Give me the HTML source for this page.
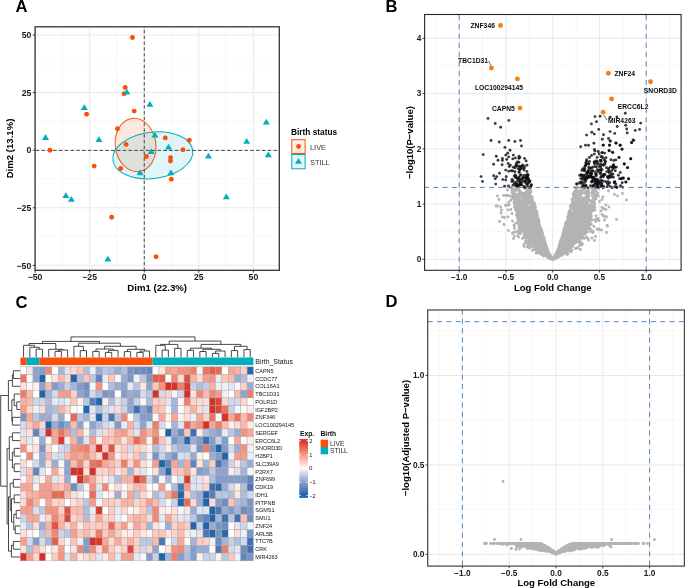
<!DOCTYPE html>
<html><head><meta charset="utf-8"><style>
html,body{margin:0;padding:0;background:#fff;width:685px;height:588px;overflow:hidden}
svg{display:block;will-change:transform}
text{font-family:"Liberation Sans", sans-serif}
</style></head><body>
<svg width="685" height="588" viewBox="0 0 685 588">
<rect width="685" height="588" fill="#fff"/>
<text x="15.4" y="12" font-size="16.6" font-weight="bold" text-anchor="start" fill="#000">A</text>
<line x1="62.39" y1="26.8" x2="62.39" y2="270.3" stroke="#F2F2F2" stroke-width="0.6"/>
<line x1="35.1" y1="236.6" x2="279.3" y2="236.6" stroke="#F2F2F2" stroke-width="0.6"/>
<line x1="116.96" y1="26.8" x2="116.96" y2="270.3" stroke="#F2F2F2" stroke-width="0.6"/>
<line x1="35.1" y1="179" x2="279.3" y2="179" stroke="#F2F2F2" stroke-width="0.6"/>
<line x1="171.54" y1="26.8" x2="171.54" y2="270.3" stroke="#F2F2F2" stroke-width="0.6"/>
<line x1="35.1" y1="121.4" x2="279.3" y2="121.4" stroke="#F2F2F2" stroke-width="0.6"/>
<line x1="226.11" y1="26.8" x2="226.11" y2="270.3" stroke="#F2F2F2" stroke-width="0.6"/>
<line x1="35.1" y1="63.8" x2="279.3" y2="63.8" stroke="#F2F2F2" stroke-width="0.6"/>
<line x1="35.1" y1="26.8" x2="35.1" y2="270.3" stroke="#E6E6E6" stroke-width="0.9"/>
<line x1="35.1" y1="265.4" x2="279.3" y2="265.4" stroke="#E6E6E6" stroke-width="0.9"/>
<line x1="89.68" y1="26.8" x2="89.68" y2="270.3" stroke="#E6E6E6" stroke-width="0.9"/>
<line x1="35.1" y1="207.8" x2="279.3" y2="207.8" stroke="#E6E6E6" stroke-width="0.9"/>
<line x1="144.25" y1="26.8" x2="144.25" y2="270.3" stroke="#E6E6E6" stroke-width="0.9"/>
<line x1="35.1" y1="150.2" x2="279.3" y2="150.2" stroke="#E6E6E6" stroke-width="0.9"/>
<line x1="198.82" y1="26.8" x2="198.82" y2="270.3" stroke="#E6E6E6" stroke-width="0.9"/>
<line x1="35.1" y1="92.6" x2="279.3" y2="92.6" stroke="#E6E6E6" stroke-width="0.9"/>
<line x1="253.4" y1="26.8" x2="253.4" y2="270.3" stroke="#E6E6E6" stroke-width="0.9"/>
<line x1="35.1" y1="35" x2="279.3" y2="35" stroke="#E6E6E6" stroke-width="0.9"/>
<ellipse cx="135.6" cy="145" rx="20.3" ry="26.8" transform="rotate(-8 135.6 145)" fill="#FC4E07" fill-opacity="0.13" stroke="#FC4E07" stroke-width="1"/>
<ellipse cx="152.8" cy="155.3" rx="40.2" ry="23.2" transform="rotate(-7 152.8 155.3)" fill="#00AFBB" fill-opacity="0.12" stroke="#00AFBB" stroke-width="1"/>
<line x1="144.25" y1="270.3" x2="144.25" y2="26.8" stroke="#333" stroke-width="0.9" stroke-dasharray="3.5 2.3" stroke-dashoffset="0.8"/>
<line x1="35.1" y1="150.4" x2="279.3" y2="150.4" stroke="#333" stroke-width="0.9" stroke-dasharray="3.5 2.3" stroke-dashoffset="-0.6"/>
<circle cx="132.45" cy="37.45" r="2.45" fill="#FC4E07"/>
<circle cx="125.2" cy="87.5" r="2.45" fill="#FC4E07"/>
<circle cx="124.1" cy="93.7" r="2.45" fill="#FC4E07"/>
<circle cx="134.2" cy="111.1" r="2.45" fill="#FC4E07"/>
<circle cx="86.6" cy="114.3" r="2.45" fill="#FC4E07"/>
<circle cx="117.5" cy="128.7" r="2.45" fill="#FC4E07"/>
<circle cx="126.1" cy="144.4" r="2.45" fill="#FC4E07"/>
<circle cx="50" cy="150.2" r="2.45" fill="#FC4E07"/>
<circle cx="94.2" cy="166.1" r="2.45" fill="#FC4E07"/>
<circle cx="120.7" cy="168.5" r="2.45" fill="#FC4E07"/>
<circle cx="111.7" cy="217.3" r="2.45" fill="#FC4E07"/>
<circle cx="146.4" cy="156.5" r="2.45" fill="#FC4E07"/>
<circle cx="165.3" cy="137.9" r="2.45" fill="#FC4E07"/>
<circle cx="189.3" cy="140.3" r="2.45" fill="#FC4E07"/>
<circle cx="182.9" cy="149.8" r="2.45" fill="#FC4E07"/>
<circle cx="170.5" cy="157.6" r="2.45" fill="#FC4E07"/>
<circle cx="170.5" cy="161" r="2.45" fill="#FC4E07"/>
<circle cx="171.3" cy="179.2" r="2.45" fill="#FC4E07"/>
<circle cx="156.1" cy="256.8" r="2.45" fill="#FC4E07"/>
<path d="M126.9 88.8L130.4 94.6L123.4 94.6Z" fill="#00AFBB"/>
<path d="M84.3 104.2L87.8 110L80.8 110Z" fill="#00AFBB"/>
<path d="M45.5 134.1L49 139.9L42 139.9Z" fill="#00AFBB"/>
<path d="M98.9 136.2L102.4 142L95.4 142Z" fill="#00AFBB"/>
<path d="M149.9 101L153.4 106.8L146.4 106.8Z" fill="#00AFBB"/>
<path d="M266.3 118.8L269.8 124.6L262.8 124.6Z" fill="#00AFBB"/>
<path d="M246.7 137.9L250.2 143.7L243.2 143.7Z" fill="#00AFBB"/>
<path d="M154.9 131.8L158.4 137.6L151.4 137.6Z" fill="#00AFBB"/>
<path d="M168.5 143.8L172 149.6L165 149.6Z" fill="#00AFBB"/>
<path d="M151.2 148.3L154.7 154.1L147.7 154.1Z" fill="#00AFBB"/>
<path d="M140.1 169.5L143.6 175.3L136.6 175.3Z" fill="#00AFBB"/>
<path d="M170.9 169.5L174.4 175.3L167.4 175.3Z" fill="#00AFBB"/>
<path d="M208.4 152.8L211.9 158.6L204.9 158.6Z" fill="#00AFBB"/>
<path d="M268.3 151.4L271.8 157.2L264.8 157.2Z" fill="#00AFBB"/>
<path d="M226.3 193.5L229.8 199.3L222.8 199.3Z" fill="#00AFBB"/>
<path d="M65.9 192.3L69.4 198.1L62.4 198.1Z" fill="#00AFBB"/>
<path d="M71.4 196L74.9 201.8L67.9 201.8Z" fill="#00AFBB"/>
<path d="M107.9 255.7L111.4 261.5L104.4 261.5Z" fill="#00AFBB"/>
<rect x="35.1" y="26.8" width="244.2" height="243.5" fill="none" stroke="#333" stroke-width="1.3"/>
<line x1="35.1" y1="270.3" x2="35.1" y2="272.6" stroke="#333" stroke-width="1"/>
<text x="35.1" y="280.4" font-size="8.7" font-weight="bold" text-anchor="middle" fill="#1a1a1a">−50</text>
<line x1="32.8" y1="265.4" x2="35.1" y2="265.4" stroke="#333" stroke-width="1"/>
<text x="31.3" y="268.5" font-size="8.7" font-weight="bold" text-anchor="end" fill="#1a1a1a">−50</text>
<line x1="89.68" y1="270.3" x2="89.68" y2="272.6" stroke="#333" stroke-width="1"/>
<text x="89.68" y="280.4" font-size="8.7" font-weight="bold" text-anchor="middle" fill="#1a1a1a">−25</text>
<line x1="32.8" y1="207.8" x2="35.1" y2="207.8" stroke="#333" stroke-width="1"/>
<text x="31.3" y="210.9" font-size="8.7" font-weight="bold" text-anchor="end" fill="#1a1a1a">−25</text>
<line x1="144.25" y1="270.3" x2="144.25" y2="272.6" stroke="#333" stroke-width="1"/>
<text x="144.25" y="280.4" font-size="8.7" font-weight="bold" text-anchor="middle" fill="#1a1a1a">0</text>
<line x1="32.8" y1="150.2" x2="35.1" y2="150.2" stroke="#333" stroke-width="1"/>
<text x="31.3" y="153.3" font-size="8.7" font-weight="bold" text-anchor="end" fill="#1a1a1a">0</text>
<line x1="198.82" y1="270.3" x2="198.82" y2="272.6" stroke="#333" stroke-width="1"/>
<text x="198.82" y="280.4" font-size="8.7" font-weight="bold" text-anchor="middle" fill="#1a1a1a">25</text>
<line x1="32.8" y1="92.6" x2="35.1" y2="92.6" stroke="#333" stroke-width="1"/>
<text x="31.3" y="95.7" font-size="8.7" font-weight="bold" text-anchor="end" fill="#1a1a1a">25</text>
<line x1="253.4" y1="270.3" x2="253.4" y2="272.6" stroke="#333" stroke-width="1"/>
<text x="253.4" y="280.4" font-size="8.7" font-weight="bold" text-anchor="middle" fill="#1a1a1a">50</text>
<line x1="32.8" y1="35" x2="35.1" y2="35" stroke="#333" stroke-width="1"/>
<text x="31.3" y="38.1" font-size="8.7" font-weight="bold" text-anchor="end" fill="#1a1a1a">50</text>
<text x="157.2" y="290.8" font-size="9.6" font-weight="bold" text-anchor="middle" fill="#000">Dim1 (22.3%)</text>
<text x="13.1" y="148.5" font-size="9.6" font-weight="bold" text-anchor="middle" fill="#000" transform="rotate(-90 13.1 148.5)">Dim2 (13.1%)</text>
<text x="291" y="134.9" font-size="8.3" font-weight="bold" text-anchor="start" fill="#000">Birth status</text>
<rect x="291.8" y="139.7" width="13.3" height="13.8" fill="#FEEDE6" stroke="#FC4E07" stroke-width="1"/>
<rect x="291.8" y="154.5" width="13.3" height="14.3" fill="#E5F6F7" stroke="#00AFBB" stroke-width="1"/>
<circle cx="298.6" cy="146.5" r="2.45" fill="#FC4E07"/>
<path d="M298.5 158L302 163.8L295 163.8Z" fill="#00AFBB"/>
<text x="310" y="149.6" font-size="7.4" text-anchor="start" fill="#333">LIVE</text>
<text x="310" y="164.8" font-size="7.4" text-anchor="start" fill="#333">STILL</text>
<text x="385.6" y="12.2" font-size="16.6" font-weight="bold" text-anchor="start" fill="#000">B</text>
<line x1="435.83" y1="14.5" x2="435.83" y2="270.3" stroke="#F2F2F2" stroke-width="0.6"/>
<line x1="482.58" y1="14.5" x2="482.58" y2="270.3" stroke="#F2F2F2" stroke-width="0.6"/>
<line x1="529.33" y1="14.5" x2="529.33" y2="270.3" stroke="#F2F2F2" stroke-width="0.6"/>
<line x1="576.08" y1="14.5" x2="576.08" y2="270.3" stroke="#F2F2F2" stroke-width="0.6"/>
<line x1="622.83" y1="14.5" x2="622.83" y2="270.3" stroke="#F2F2F2" stroke-width="0.6"/>
<line x1="669.58" y1="14.5" x2="669.58" y2="270.3" stroke="#F2F2F2" stroke-width="0.6"/>
<line x1="424.6" y1="231.68" x2="681.1" y2="231.68" stroke="#F2F2F2" stroke-width="0.6"/>
<line x1="424.6" y1="176.43" x2="681.1" y2="176.43" stroke="#F2F2F2" stroke-width="0.6"/>
<line x1="424.6" y1="121.18" x2="681.1" y2="121.18" stroke="#F2F2F2" stroke-width="0.6"/>
<line x1="424.6" y1="65.93" x2="681.1" y2="65.93" stroke="#F2F2F2" stroke-width="0.6"/>
<line x1="459.2" y1="14.5" x2="459.2" y2="270.3" stroke="#E6E6E6" stroke-width="0.9"/>
<line x1="505.95" y1="14.5" x2="505.95" y2="270.3" stroke="#E6E6E6" stroke-width="0.9"/>
<line x1="552.7" y1="14.5" x2="552.7" y2="270.3" stroke="#E6E6E6" stroke-width="0.9"/>
<line x1="599.45" y1="14.5" x2="599.45" y2="270.3" stroke="#E6E6E6" stroke-width="0.9"/>
<line x1="646.2" y1="14.5" x2="646.2" y2="270.3" stroke="#E6E6E6" stroke-width="0.9"/>
<line x1="424.6" y1="259.3" x2="681.1" y2="259.3" stroke="#E6E6E6" stroke-width="0.9"/>
<line x1="424.6" y1="204.05" x2="681.1" y2="204.05" stroke="#E6E6E6" stroke-width="0.9"/>
<line x1="424.6" y1="148.8" x2="681.1" y2="148.8" stroke="#E6E6E6" stroke-width="0.9"/>
<line x1="424.6" y1="93.55" x2="681.1" y2="93.55" stroke="#E6E6E6" stroke-width="0.9"/>
<line x1="424.6" y1="38.3" x2="681.1" y2="38.3" stroke="#E6E6E6" stroke-width="0.9"/>
<path fill="none" stroke="#B3B3B3" stroke-width="2.9" stroke-linecap="round" d="M584 210h0M542 242.5h0M564.5 247h0M586 213.5h0M554 257.5h0M596 195.5h0M591.5 210.5h0M553.5 258h0M562 248h0M566 235.5h0M574.5 243h0M564.5 249.5h0M525.5 228.5h0M520.5 212h0M549 253.5h0M560 249.5h0M538 243.5h0M544.5 254.5h0M565 245h0M553.5 259h0M528 221h0M563 245h0M540.5 242h0M537.5 234.5h0M570 246.5h0M528 224.5h0M558.5 254h0M549.5 256h0M595 210h0M544.5 241h0M529 228.5h0M602 199.5h0M548 256.5h0M563 239h0M578 213.5h0M559.5 250h0M531.5 221h0M550 257h0M530.5 222.5h0M530.5 221h0M574 234h0M570.5 241h0M551 257h0M543.5 250.5h0M539 233.5h0M519.5 215.5h0M553 259h0M535.5 240.5h0M566.5 250.5h0M517 189.5h0M546.5 255.5h0M539 246.5h0M572.5 231h0M578.5 232h0M519.5 201.5h0M517.5 217h0M559 255h0M543.5 241h0M589 210h0M557.5 252h0M572 220h0M521 192.5h0M559 247h0M546 254h0M538 219.5h0M519 202.5h0M525.5 230h0M558.5 251.5h0M539 242.5h0M548.5 255.5h0M520 222.5h0M533 231.5h0M538.5 227h0M551.5 259h0M555 258h0M571.5 233.5h0M564 239.5h0M564 231.5h0M561 252.5h0M574 194.5h0M573.5 237.5h0M565.5 225.5h0M547.5 255.5h0M559 252h0M559.5 245h0M567 249.5h0M558.5 250.5h0M566 253.5h0M551 257.5h0M531.5 213.5h0M529.5 248h0M571.5 212.5h0M530 240h0M556.5 253.5h0M550.5 256.5h0M545.5 252.5h0M542 234.5h0M589 216h0M553 259.5h0M518.5 213h0M530 225.5h0M563 234.5h0M521 192h0M557 256h0M569 248.5h0M526.5 215.5h0M537 242.5h0M583.5 198.5h0M544.5 247.5h0M577.5 224h0M587.5 207.5h0M572 245h0M542.5 248.5h0M568.5 232.5h0M545 248.5h0M528.5 234.5h0M592 210.5h0M536.5 231.5h0M571 237h0M548.5 257h0M583.5 207.5h0M523.5 200.5h0M537 245.5h0M555 258.5h0M557.5 257h0M546 251h0M522 194.5h0M544.5 254h0M563 250h0M582 213h0M525.5 241h0M560.5 254h0M543.5 251.5h0M524.5 227.5h0M544.5 253.5h0M530 226h0M581.5 212h0M532.5 236.5h0M563 242.5h0M570 229h0M544 247.5h0M540 247h0M526.5 225h0M565 248h0M584 234.5h0M543 252h0M532.5 229.5h0M557.5 254h0M574 238h0M568.5 245h0M558 250h0M534.5 243.5h0M552 259h0M534 203h0M567 232.5h0M567.5 245h0M580.5 214.5h0M559 254h0M547.5 253.5h0M561.5 248.5h0M555.5 257h0M562.5 252.5h0M582 230.5h0M540 249h0M528.5 233.5h0M547 252.5h0M580 236.5h0M524 214.5h0M556 256h0M547 250.5h0M541.5 252h0M539.5 245.5h0M559 253.5h0M536 240h0M567.5 245.5h0M582.5 193h0M566 245h0M559 254.5h0M568 251h0M545 254h0M544.5 242.5h0M527.5 206h0M549 256h0M576.5 235.5h0M592.5 202h0M560 248h0M529.5 239h0M555 255.5h0M581.5 211.5h0M563.5 247.5h0M525.5 238h0M566.5 244h0M574 242.5h0M536.5 211h0M540.5 243h0M532.5 217h0M515.5 194.5h0M531.5 240.5h0M554.5 258.5h0M567.5 244.5h0M583 208.5h0M530 238.5h0M519.5 221.5h0M540 251h0M570.5 244.5h0M598.5 229.5h0M586 226.5h0M555 256h0M560 253h0M538.5 239.5h0M529 237.5h0M563.5 252h0M551.5 258.5h0M517.5 198.5h0M584.5 215h0M540 235h0M537.5 243h0M510 196h0M515 189h0M532 223h0M537.5 236.5h0M560.5 252h0M546 247.5h0M577.5 240h0M528.5 235h0M554.5 256.5h0M556 257.5h0M537.5 237.5h0M579.5 235h0M591 214.5h0M572 246h0M521.5 200.5h0M566 249.5h0M545.5 254h0M557 257h0M542.5 240h0M520.5 208h0M552 258.5h0M544.5 247h0M538 235.5h0M524.5 218.5h0M533.5 229.5h0M546 251.5h0M538.5 232.5h0M559.5 250.5h0M526.5 243h0M574.5 240h0M534 216h0M572 242h0M577.5 215.5h0M549.5 258h0M571 242h0M537 233h0M588 216.5h0M542 247h0M573 237.5h0M591.5 210h0M540.5 237h0M566.5 246.5h0M543 243.5h0M548 257h0M550.5 257.5h0M560 254h0M542 241.5h0M541 244h0M573 237h0M534 237.5h0M588 225.5h0M536.5 241h0M540.5 251.5h0M529.5 239.5h0M581 235h0M565.5 249.5h0M525 216h0M561 246.5h0M536.5 244h0M547 256h0M531 238h0M561.5 253.5h0M527 247h0M537.5 223.5h0M522.5 194.5h0M520.5 210h0M565 235.5h0M536.5 233h0M559.5 245.5h0M555.5 256.5h0M570.5 235h0M535 218.5h0M543 246h0M519 232h0M539.5 236.5h0M575.5 188h0M567 245h0M540.5 248h0M551 258.5h0M576 234.5h0M558.5 249h0M540 239.5h0M519.5 222.5h0M548 252.5h0M554 258h0M545.5 254.5h0M580 210h0M521 220.5h0M592 238h0M545 250.5h0M542 239.5h0M540.5 243.5h0M544 252.5h0M530.5 195.5h0M542.5 250h0M574.5 226h0M560 251.5h0M562.5 250h0M574.5 237.5h0M538.5 230h0M548.5 255h0M536.5 228.5h0M527 226h0M557.5 254.5h0M586.5 209h0M585.5 222h0M584.5 231h0M536.5 246.5h0M580 231h0M527 236h0M584.5 205h0M580.5 236.5h0M575.5 223.5h0M550.5 257h0M529 229h0M567 228h0M547 250h0M556.5 256.5h0M535.5 236h0M558 251h0M566.5 253.5h0M537.5 247.5h0M580 218h0M521 218.5h0M560.5 252.5h0M545 251h0M555 256.5h0M546 253.5h0M529 238.5h0M518.5 211h0M569.5 250.5h0M565.5 246h0M564 250h0M566.5 236.5h0M537.5 233.5h0M544 246h0M529.5 242h0M546 255.5h0M567 235.5h0M572 237h0M548 254h0M572.5 202h0M569.5 240h0M540 243.5h0M544 254h0M550.5 256h0M589 214h0M541.5 247.5h0M567.5 248h0M589.5 214h0M557 255h0M540 245h0M554 258.5h0M521.5 219h0M566 244h0M530.5 232h0M562.5 248.5h0M568.5 243.5h0M533.5 232.5h0M568.5 243h0M528 235.5h0M549 256.5h0M535 240.5h0M568.5 241.5h0M524.5 227h0M522 226.5h0M565.5 231.5h0M559 256h0M567.5 247h0M554 259h0M582.5 216h0M555.5 258h0M563 253h0M571 245.5h0M541 251.5h0M544 240h0M569.5 248.5h0M532.5 224h0M532.5 241.5h0M549 257h0M570.5 227.5h0M545 254.5h0M548.5 256.5h0M519.5 215h0M568.5 216h0M520 224h0M573 235h0M576 214h0M555.5 257.5h0M535.5 235h0M566 248h0M544.5 240.5h0M561.5 254h0M563.5 236.5h0M537 244.5h0M519 203.5h0M568.5 229h0M536 223.5h0M528.5 231h0M571.5 232.5h0M567.5 246h0M563.5 233h0M579.5 232.5h0M547 255h0M512.5 190.5h0M539.5 248.5h0M565 251.5h0M550.5 258.5h0M526 222.5h0M556.5 257.5h0M579 225.5h0M537 243.5h0M565.5 226h0M564.5 241.5h0M577.5 229.5h0M561.5 246.5h0M562 253.5h0M556 257h0M528.5 233h0M562 240h0M534 215h0M572 244h0M544 247h0M540 250.5h0M546.5 248.5h0M550 257.5h0M566.5 249.5h0M553.5 258.5h0M549 254h0M576.5 212h0M557.5 256.5h0M561 239.5h0M547.5 256h0M539 232h0M569 248h0M549 255.5h0M566.5 251h0M543 248h0M523.5 201h0M515.5 204.5h0M537.5 245h0M550.5 258h0M539 231h0M593 206h0M534 240h0M567 241.5h0M567.5 241h0M541.5 248h0M523 228h0M555.5 256h0M567 229.5h0M575 205.5h0M533.5 234h0M551.5 257.5h0M587 228.5h0M532 234h0M562.5 255h0M558.5 256.5h0M535.5 225h0M536 218h0M564 245h0M571.5 213h0M555.5 255.5h0M566.5 237h0M524.5 231.5h0M534 242.5h0M579.5 227.5h0M539.5 247h0M548.5 252.5h0M556.5 254.5h0M556 258h0M566.5 248.5h0M545 252h0M538.5 246.5h0M588.5 199h0M589 192.5h0M546.5 252.5h0M533.5 221h0M558.5 253.5h0M542.5 241h0M538.5 245.5h0M523.5 197h0M586.5 227h0M541 231h0M579 234h0M564.5 251h0M590 216.5h0M577 240h0M539 247.5h0M551 258h0M578 207.5h0M515.5 198.5h0M518.5 219.5h0M538 223h0M527 215.5h0M514 197.5h0M537.5 222h0M587.5 223.5h0M533.5 241.5h0M536 249h0M581.5 216.5h0M532 202.5h0M529 227.5h0M567.5 217h0M536 241.5h0M547 251.5h0M597 194.5h0M535 239.5h0M537 235h0M565.5 250h0M511 200h0M573 226.5h0M541 250h0M567 245.5h0M532.5 243.5h0M556.5 257h0M522.5 207h0M526.5 220h0M541.5 245.5h0M572 245.5h0M569.5 246.5h0M543 250.5h0M528 211h0M545 247h0M525.5 231h0M535 234.5h0M532 215h0M547 255.5h0M546.5 251.5h0M558 252.5h0M564 229.5h0M572 238.5h0M537.5 217.5h0M564 247h0M549.5 255h0M555 257.5h0M537.5 227h0M546.5 251h0M515.5 209.5h0M569 244.5h0M586.5 206.5h0M534 244.5h0M544.5 244.5h0M568.5 234h0M539.5 234h0M544.5 251h0M573.5 241.5h0M531.5 238h0M577.5 207h0M580.5 229h0M564.5 235.5h0M519 223h0M576 228h0M566 250.5h0M526 231h0M554.5 258h0M526.5 232.5h0M527.5 206.5h0M575 187.5h0M572.5 240h0M566 248.5h0M524 228h0M545.5 255h0M536 227.5h0M548 255.5h0M528 227h0M588 215h0M537.5 240h0M540 234h0M539 237h0M549.5 255.5h0M546 246h0M537 247.5h0M530.5 236.5h0M547 254h0M538 243h0M541.5 252.5h0M545 247.5h0M562 239.5h0M576 227.5h0M546.5 253h0M558 254h0M572.5 223h0M531 239.5h0M557 256.5h0M530.5 225.5h0M558.5 254.5h0M541 244.5h0M576.5 223h0M528 236h0M585.5 197.5h0M540 250h0M543 251.5h0M541.5 230.5h0M541 253h0M526.5 220.5h0M544 244.5h0M570 246h0M519 209h0M565.5 252.5h0M570 245.5h0M524 233h0M560.5 246.5h0M529 237h0M523.5 208h0M517 209h0M573 217h0M574 225.5h0M568.5 248.5h0M539 246h0M565 246.5h0M561 254.5h0M526 203h0M571.5 236.5h0M513.5 198.5h0M571 238.5h0M528 198.5h0M575.5 194h0M571 205h0M578 236.5h0M544.5 253h0M580 229h0M542 252h0M536.5 224.5h0M528 229.5h0M575.5 197h0M529 240h0M563.5 246.5h0M546.5 254.5h0M587.5 190h0M563.5 246h0M543.5 246h0M580.5 188h0M550 256h0M525 228.5h0M540 244.5h0M555 257h0M552.5 259h0M531.5 224.5h0M535.5 249.5h0M560.5 246h0M564 243.5h0M568 248h0M540.5 245h0M583 233h0M572.5 199.5h0M569 241.5h0M524 222h0M535 245.5h0M563 249.5h0M583 209.5h0M585 230h0M514 192.5h0M562 247h0M596 199h0M569.5 224h0M534.5 240h0M541 240h0M583.5 224h0M565.5 223h0M570 247h0M542.5 234.5h0M584.5 232h0M537 241.5h0M570.5 246.5h0M560 247h0M541.5 250.5h0M534.5 228h0M531 202h0M584 226.5h0M538 232.5h0M561 247.5h0M582 238h0M534.5 203.5h0M584.5 206.5h0M570 243.5h0M562 250.5h0M564.5 248h0M573 215.5h0M567 234.5h0M551.5 258h0M531 201.5h0M566 239.5h0M564 247.5h0M536 237h0M530 209h0M548 256h0M526.5 235.5h0M535 244.5h0M571 244h0M569 230h0M558 253.5h0M547.5 251.5h0M579 238.5h0M540.5 249h0M530.5 237.5h0M586 208h0M563 248.5h0M529.5 240h0M582.5 231h0M568.5 228h0M541.5 243.5h0M533 226h0M567 237h0M571 241.5h0M539 226.5h0M560 243.5h0M566 250h0M549.5 256.5h0M542.5 252.5h0M574.5 239h0M531 213.5h0M527 232h0M566.5 232.5h0M592.5 211h0M542 239h0M562 253h0M586 230.5h0M558 256h0M574 228h0M575 232.5h0M571 215.5h0M566.5 245h0M563.5 245h0M521.5 217h0M577.5 210h0M583.5 221.5h0M524.5 228h0M565.5 246.5h0M563 252.5h0M559.5 252h0M545 250h0M562 244.5h0M581.5 233.5h0M584.5 218h0M558.5 256h0M543 249h0M522.5 195h0M538.5 235h0M588 204h0M525.5 234.5h0M564 252h0M572.5 233.5h0M541.5 250h0M589.5 209h0M527 236.5h0M580 238h0M573 243h0M588.5 224h0M560.5 250.5h0M547 256.5h0M560 254.5h0M566 242h0M526.5 233.5h0M560 246h0M499 199.5h0M562 238.5h0M537.5 238.5h0M539.5 242h0M546 255h0M543.5 252.5h0M590.5 218.5h0M571 231h0M562 252h0M568.5 238.5h0M534 227.5h0M545 245h0M590 222.5h0M545 251.5h0M545.5 250h0M560 246.5h0M532.5 220.5h0M571.5 245.5h0M546.5 250h0M533 242h0M560 250h0M561.5 240.5h0M559 251.5h0M543.5 253h0M528.5 229h0M517.5 199h0M582 208.5h0M570.5 232.5h0M568 244h0M530.5 232.5h0M576 221h0M559 253h0M539.5 235.5h0M533.5 225.5h0M533 234.5h0M558.5 255.5h0M544 249h0M586 202.5h0M569.5 234.5h0M590.5 209h0M537.5 252.5h0M531 191h0M540.5 246.5h0M537 244h0M571 224.5h0M568.5 241h0M526.5 230.5h0M535.5 237.5h0M539.5 247.5h0M526 218.5h0M567.5 237.5h0M530.5 226.5h0M569 241h0M532 237h0M537 243h0M567 248.5h0M560 255.5h0M560.5 245.5h0M565 236h0M526.5 217h0M530.5 227.5h0M526 214h0M536 236.5h0M582.5 233.5h0M570 234.5h0M559.5 255.5h0M573.5 229.5h0M581.5 222.5h0M564 239h0M554.5 257.5h0M534.5 243h0M546 254.5h0M532.5 227.5h0M565.5 234h0M571.5 224.5h0M531 228.5h0M589.5 219h0M581 227h0M557 254h0M516.5 207h0M568 234h0M558 251.5h0M537.5 245.5h0M523.5 225h0M563 253.5h0M558 254.5h0M566 237.5h0M523.5 224.5h0M535.5 243.5h0M532.5 211.5h0M519 191h0M539 239.5h0M531 236.5h0M543.5 256h0M519 194h0M530 220.5h0M550 258h0M583 227h0M533.5 237h0M583.5 229.5h0M537 247h0M566.5 247.5h0M566 247.5h0M540 247.5h0M567.5 249h0M546 246.5h0M587.5 222.5h0M571.5 225h0M567.5 228.5h0M591.5 216h0M547.5 254h0M541.5 253h0M557 255.5h0M539 250h0M574.5 238.5h0M567.5 241.5h0M569 245h0M565.5 227.5h0M557.5 253h0M519.5 219.5h0M576.5 226h0M561.5 243h0M563.5 249h0M538 242h0M565.5 251h0M598 218.5h0M527.5 212h0M529.5 213h0M562.5 253h0M526.5 212h0M580.5 196.5h0M581.5 232h0M561 250.5h0M545 253h0M577 240.5h0M549.5 257h0M589.5 208h0M559.5 251h0M547.5 253h0M539.5 238.5h0M531.5 214.5h0M575.5 235.5h0M569.5 237h0M560.5 249h0M543 250h0M538.5 249h0M535 212.5h0M581.5 191h0M565 237h0M542.5 248h0M558 255.5h0M561 252h0M578.5 198.5h0M582.5 225h0M580.5 231h0M579 211.5h0M563.5 248.5h0M524 230.5h0M548.5 252h0M544.5 250.5h0M564 251h0M547 248h0M581.5 193h0M560 245h0M538 246.5h0M539 230h0M528.5 225h0M570.5 213h0M532 231h0M539.5 233.5h0M566.5 249h0M526 209h0M573.5 237h0M585.5 204.5h0M566 251h0M523 202.5h0M543 242.5h0M567 225.5h0M523.5 229h0M557.5 252.5h0M586.5 228.5h0M561 244.5h0M570.5 231h0M529.5 192.5h0M537.5 247h0M586 214.5h0M540.5 250.5h0M546 252.5h0M523.5 212.5h0M569.5 247h0M575 221.5h0M532 229.5h0M536.5 250.5h0M536.5 246h0M526.5 222.5h0M535.5 234.5h0M542.5 241.5h0M567.5 240h0M561 251h0M512.5 233.5h0M545.5 253h0M563 240h0M561.5 252h0M545.5 250.5h0M573.5 238h0M537.5 234h0M539.5 243.5h0M533.5 238.5h0M559 251h0M535 226h0M561.5 252.5h0M565 249h0M535 230h0M545 253.5h0M585.5 202h0M558 252h0M556.5 256h0M572.5 241.5h0M526.5 198.5h0M534.5 244.5h0M571 225.5h0M547.5 255h0M559 248.5h0M542 249.5h0M562 241h0M581.5 208.5h0M584 229.5h0M543.5 246.5h0M536.5 230.5h0M570 210h0M535.5 233.5h0M523 219h0M517 223h0M537.5 244.5h0M567.5 226.5h0M566.5 242.5h0M542.5 245h0M543.5 244.5h0M521 213h0M576.5 216.5h0M567.5 242h0M522.5 227h0M564 241.5h0M536.5 235.5h0M584.5 225.5h0M571 239.5h0M564.5 250.5h0M536.5 220.5h0M588.5 195h0M536 245h0M525.5 219.5h0M550 256.5h0M573.5 217h0M564 249h0M527 209.5h0M548 253.5h0M543 238.5h0M595.5 198.5h0M538.5 248h0M566.5 226.5h0M576 237.5h0M564.5 233.5h0M598 188h0M533.5 212.5h0M575 241.5h0M532 225h0M579.5 210h0M590 223.5h0M569 220.5h0M540.5 238h0M531.5 208h0M541.5 248.5h0M531 240.5h0M570 240.5h0M538 249h0M544 239.5h0M522 213h0M546.5 254h0M573 239.5h0M572.5 239.5h0M545 252.5h0M558.5 250h0M570.5 236.5h0M593.5 200h0M535.5 207h0M537 226.5h0M537 229h0M533.5 240h0M533 224h0M569.5 239h0M568.5 236h0M543 253h0M544.5 252h0M593 231h0M532.5 238.5h0M568.5 233h0M574 241.5h0M577.5 237.5h0M531 224.5h0M536 239.5h0M529.5 197h0M564.5 252h0M577 237h0M578 214h0M549 257.5h0M530 229.5h0M527 218h0M588 226h0M537 240h0M560.5 247.5h0M570 234h0M574.5 220.5h0M541 246.5h0M577.5 232h0M575.5 227h0M512.5 197.5h0M531 221h0M538.5 226h0M542.5 251.5h0M574.5 207.5h0M579 230h0M584 224h0M543 242h0M564.5 239.5h0M567 240h0M588 208h0M536.5 245.5h0M518 199h0M564 232h0M575.5 226h0M526.5 231h0M559 247.5h0M517 197.5h0M563.5 244.5h0M525 188.5h0M529.5 228h0M537 216h0M541.5 246h0M547.5 254.5h0M542.5 251h0M564.5 230h0M546.5 249h0M533 229.5h0M539.5 241h0M560.5 254.5h0M537.5 223h0M504.5 217.5h0M560.5 255.5h0M590 217.5h0M526.5 232h0M523 229h0M539 241.5h0M537 241h0M528 245.5h0M545.5 253.5h0M530.5 229.5h0M517 207.5h0M507.5 190h0M572 241h0M563 248h0M548 253h0M575 221h0M532.5 242.5h0M571.5 230.5h0M559.5 255h0M546.5 249.5h0M534 209h0M589 221.5h0M537 248h0M559.5 252.5h0M568 249.5h0M565.5 247h0M584 213.5h0M540.5 240h0M530 232.5h0M543.5 252h0M566 251.5h0M577 188h0M532.5 235.5h0M524 204.5h0M505.5 205.5h0M587 221h0M529 198h0M582.5 201h0M543.5 247.5h0M533.5 220.5h0M572 242.5h0M571.5 236h0M530 237.5h0M534 236h0M560 249h0M557.5 255.5h0M571 233.5h0M545.5 247.5h0M567.5 236.5h0M565 249.5h0M565 229.5h0M531.5 237h0M569 247.5h0M544 248h0M546 245.5h0M539 249.5h0M536 246.5h0M579 236h0M518.5 214h0M598.5 188.5h0M554.5 257h0M567 229h0M588.5 240h0M574 205h0M547.5 256.5h0M551 259h0M557 254.5h0M563 246h0M533 232.5h0M531.5 241h0M587 217h0M534 239h0M547 249.5h0M536.5 245h0M524 244.5h0M539 248.5h0M540.5 247.5h0M530 240.5h0M533 243h0M573.5 223.5h0M539.5 228.5h0M561 254h0M583 211.5h0M528.5 220h0M531 208.5h0M563.5 230.5h0M575 238h0M548 254.5h0M519.5 223h0M569.5 232h0M532 237.5h0M532.5 206.5h0M542 249h0M544.5 248h0M563.5 248h0M561.5 254.5h0M568.5 237h0M528 196.5h0M578.5 210.5h0M583 198h0M544 238h0M530 191.5h0M528 237.5h0M570 244h0M566.5 244.5h0M580.5 221h0M545.5 243.5h0M564 234.5h0M571 216h0M562.5 246h0M567 233.5h0M533.5 225h0M595.5 194.5h0M585 225.5h0M571 229.5h0M537 233.5h0M568 235.5h0M561.5 239h0M594.5 199.5h0M537.5 241h0M570.5 243h0M572 239h0M563.5 250.5h0M583.5 217.5h0M587.5 215.5h0M520 201.5h0M537.5 235h0M528 199h0M561.5 249.5h0M567 237.5h0M543.5 251h0M526.5 238h0M545.5 252h0M606.5 217h0M541.5 251.5h0M563.5 245.5h0M547 253h0M528.5 196h0M528 192h0M571.5 228h0M520.5 223h0M547 254.5h0M585.5 210h0M521.5 228.5h0M531 226.5h0M579 232h0M565 238h0M584 233h0M573 194h0M584.5 211h0M565 229h0M574.5 234h0M541 243h0M568 232.5h0M536.5 232h0M540.5 240.5h0M543.5 243h0M549.5 254.5h0M545 244h0M545 249h0M569.5 233.5h0M571 240h0M531 222.5h0M514 203h0M569 216h0M521.5 229.5h0M536.5 228h0M556 256.5h0M572 239.5h0M538.5 246h0M562.5 251.5h0M562.5 254h0M560 255h0M558 256.5h0M536.5 248h0M557.5 256h0M578 220.5h0M578.5 221.5h0M567 221h0M559.5 254.5h0M587 196.5h0M548.5 257.5h0M574 224h0M567.5 243.5h0M578.5 218h0M516.5 214.5h0M594.5 240.5h0M569 222.5h0M586.5 209.5h0M564 238h0M577.5 239.5h0M533 244h0M614.5 194.5h0M565.5 252h0M528 238h0M524.5 230h0M575 233h0M567 228.5h0M532 240.5h0M530.5 217.5h0M539.5 240h0M530 244h0M544.5 240h0M568 254h0M535.5 245.5h0M517.5 208h0M533 239h0M521 227.5h0M521 219.5h0M534.5 230h0M548.5 254.5h0M567 236.5h0M579.5 219h0M537 246h0M575 238.5h0M539 248h0M543.5 242h0M538.5 222h0M592 208.5h0M547.5 252h0M585 211.5h0M546 249h0M562 241.5h0M527 230.5h0M518.5 217h0M534 229.5h0M544 245h0M526 229.5h0M573.5 213h0M519.5 195h0M564 233h0M541 240.5h0M565 246h0M526.5 234h0M573 201h0M561.5 253h0M573 203.5h0M524 246.5h0M576.5 238h0M523 216h0M566 245.5h0M547 253.5h0M567.5 238h0M565.5 227h0M532.5 207h0M563 241h0M564.5 250h0M538.5 241h0M569 246h0M577.5 219.5h0M576 226h0M573.5 222h0M569 243.5h0M596.5 220.5h0M568.5 246h0M531.5 196.5h0M538 225.5h0M569 242.5h0M578.5 212.5h0M564 246h0M543 252.5h0M563 234h0M538.5 236h0M526 226.5h0M581 207.5h0M567 250h0M526 209.5h0M586.5 197.5h0M564 236.5h0M572.5 240.5h0M535.5 229h0M533.5 244.5h0M541.5 246.5h0M579 216.5h0M573 244h0M521.5 221.5h0M533.5 222.5h0M573 232h0M535.5 246h0M562.5 249.5h0M560.5 251h0M541 239.5h0M571 230h0M583 223h0M572 237.5h0M601 211h0M582.5 218.5h0M558.5 253h0M559 250h0M539.5 226.5h0M542.5 247h0M524 225h0M535.5 226.5h0M515.5 202.5h0M522.5 222h0M569.5 241h0M583.5 228h0M543.5 248.5h0M569.5 236.5h0M557 257.5h0M591.5 204.5h0M533 201.5h0M522.5 225.5h0M567 250.5h0M548 255h0M530 208h0M537 232.5h0M576 241.5h0M535 214.5h0M590 200.5h0M525 209h0M590.5 205.5h0M567.5 234.5h0M571.5 240.5h0M584.5 203.5h0M576.5 242h0M576.5 240h0M544 248.5h0M565 244.5h0M562 251.5h0M533 239.5h0M523 203h0M588.5 194.5h0M517.5 217.5h0M570.5 243.5h0M539.5 246h0M529.5 218h0M585.5 232h0M580 240h0M520 206.5h0M567 246h0M557.5 251h0M565 252h0M532 224.5h0M542.5 249h0M582.5 223h0M529 194h0M540.5 232.5h0M574 244h0M538 228h0M524.5 209h0M568 247h0M574 221.5h0M580 233h0M567.5 227h0M542 250h0M518.5 188h0M540 248h0M561.5 244h0M536 243.5h0M541 242h0M556.5 253h0M528 232.5h0M599 220.5h0M574.5 227.5h0M530.5 220.5h0M570.5 238h0M535 242.5h0M580.5 232h0M521.5 223h0M529 219h0M579 192h0M522 204.5h0M570 241h0M562.5 253.5h0M526 219h0M567 253h0M585 231h0M588 198h0M541.5 241h0M571.5 244.5h0M545 246h0M522.5 230.5h0M520.5 215.5h0M533.5 233.5h0M571 241h0M533 219h0M583.5 230.5h0M542.5 238.5h0M523.5 209.5h0M539 234.5h0M560.5 243.5h0M586.5 237h0M579.5 207.5h0M544.5 246h0M530 239h0M537.5 239.5h0M548 251.5h0M578 225.5h0M536.5 237.5h0M527 211h0M563 245.5h0M591 224h0M540 237h0M535 244h0M514 202.5h0M528 233h0M519.5 194.5h0M544 253h0M560 244h0M521 211.5h0M586 216.5h0M582 212h0M522.5 224.5h0M544.5 248.5h0M545.5 245h0M564.5 238h0M538 241h0M542 241h0M588.5 214h0M589 194h0M542 244h0M572 216h0M586.5 222.5h0M520 212h0M561.5 251h0M574.5 235h0M540.5 233.5h0M584 232.5h0M544 250h0M565.5 244h0M535 209h0M577 217h0M563 251.5h0M563.5 253h0M542.5 246h0M544 253.5h0M559.5 254h0M586.5 221h0M528.5 214.5h0M568 231h0M549 254.5h0M546 252h0M565.5 236.5h0M568 219h0M571 236h0M584 231h0M542 236.5h0M540.5 247h0M574.5 191.5h0M570 239h0M560.5 253.5h0M541.5 232h0M582.5 230h0M594.5 202.5h0M573 241.5h0M560.5 247h0M564 241h0M535.5 238h0M573.5 234h0M566 233h0M534.5 238h0M556 255h0M533 240.5h0M535 241h0M530 233h0M526 233h0M562.5 247.5h0M557.5 255h0M540.5 236h0M572 241.5h0M535 248h0M576.5 197h0M561 253.5h0M565.5 245h0M571 228.5h0M518.5 237h0M524 230h0M535.5 219.5h0M525.5 228h0M606.5 232.5h0M569 212.5h0M562 252.5h0M582 234h0M562.5 246.5h0M539.5 239.5h0M561.5 245.5h0M542.5 247.5h0M558.5 252h0M565 245.5h0M588 211h0M540 244h0M566 228h0M527 234h0M552.5 259.5h0M525.5 227h0M528.5 237.5h0M538.5 247.5h0M572 199.5h0M543.5 245.5h0M542 250.5h0M526.5 235h0M544.5 243.5h0M539.5 250h0M576.5 220.5h0M526 197.5h0M543 241h0M536.5 240h0M522.5 230h0M536 212.5h0M558.5 255h0M545.5 244.5h0M581 236h0M544.5 252.5h0M587 199.5h0M548.5 253h0M575 204.5h0M543.5 253.5h0M571 209.5h0M601.5 230h0M593.5 189h0M543 239.5h0M571 217.5h0M567 224.5h0M536 244.5h0M539 251h0M582.5 212.5h0M518 201.5h0M565.5 240.5h0M580 206h0M568.5 246.5h0M566.5 243.5h0M578.5 216.5h0M519.5 208h0M544.5 244h0M548 252h0M540.5 244.5h0M567.5 250h0M536.5 242h0M527 200.5h0M521.5 222h0M533.5 230.5h0M541 246h0M595.5 197.5h0M569.5 222.5h0M567.5 233h0M582 209h0M577 242h0M534 243h0M518 231h0M534.5 207h0M575 223.5h0M535.5 215.5h0M542 237.5h0M530 219.5h0M560.5 241h0M527 208h0M535 225.5h0M520 197.5h0M561 251.5h0M537 230h0M540.5 235.5h0M528.5 195.5h0M581.5 227.5h0M537 239h0M539.5 228h0M566 246h0M536.5 247h0M568 225h0M532 215.5h0M531 215.5h0M545.5 249h0M540 246.5h0M587.5 224h0M517.5 204h0M546.5 247h0M556 253.5h0M543.5 249.5h0M550.5 255.5h0M541 247.5h0M562.5 245.5h0M576 232.5h0M540.5 238.5h0M543.5 245h0M558 255h0M528.5 237h0M535.5 242h0M538.5 248.5h0M520 220.5h0M560 248.5h0M584 212h0M560.5 255h0M531.5 229h0M589.5 217h0M570.5 246h0M592.5 191h0M532.5 211h0M535.5 213.5h0M572.5 238.5h0M538 218.5h0M548.5 253.5h0M512.5 189.5h0M591 220h0M559.5 253h0M531.5 207.5h0M581.5 235.5h0M564 242.5h0M586.5 225.5h0M555.5 255h0M576.5 229h0M565 250.5h0M531 235h0M567 223.5h0M568.5 249.5h0M534.5 241.5h0M526 211.5h0M573.5 204.5h0M534 235.5h0M588.5 226h0M563.5 251.5h0M556 255.5h0M536.5 222h0M535.5 247h0M525.5 196.5h0M530 223.5h0M559.5 247h0M530.5 247h0M529.5 220h0M547 251h0M526 198h0M537 235.5h0M588 221h0M525.5 192.5h0M578 240h0M528.5 236.5h0M560.5 248.5h0M568.5 242h0M544.5 242h0M592 196h0M521.5 227.5h0M533.5 241h0M546.5 253.5h0M519.5 192h0M533 226.5h0M515.5 201h0M540 246h0M534.5 227h0M531 227.5h0M546 253h0M583.5 225h0M534 235h0M523.5 231.5h0M530 189.5h0M567.5 250.5h0M564 251.5h0M531 235.5h0M569 233.5h0M517.5 201.5h0M569.5 235h0M519.5 226.5h0M523.5 214.5h0M574.5 222h0M562.5 251h0M591 209.5h0M566.5 230.5h0M585.5 228h0M578 207h0M523.5 229.5h0M565.5 236h0M524 195.5h0M563 250.5h0M542.5 242.5h0M524.5 218h0M531.5 243h0M528.5 222.5h0M571.5 246h0M591 218h0M572 243h0M524 193.5h0M544.5 250h0M571.5 225.5h0M541.5 249h0M585 219h0M575.5 239h0M529.5 229.5h0M532 242h0M542.5 253h0M523.5 213h0M562.5 245h0M572.5 243h0M566 236.5h0M569.5 234h0M529 195.5h0M535.5 239.5h0M576 206h0M545.5 249.5h0M519 222h0M541 235.5h0M524.5 210h0M568 247.5h0M523 227.5h0M533.5 240.5h0M562 249.5h0M515.5 191h0M522.5 201h0M576.5 224.5h0M542 247.5h0M564.5 249h0M586 226h0M543 251h0M574.5 233.5h0M585 215h0M558 250.5h0M585 229h0M549.5 257.5h0M562 250h0M560 253.5h0M524.5 208h0M568.5 232h0M525 232h0M519 189.5h0M529.5 232.5h0M549 255h0M535.5 210.5h0M550 255h0M516 208.5h0M564.5 236.5h0M529.5 225h0M573.5 236.5h0M531.5 213h0M540 241h0M542 243.5h0M515.5 207h0M575 237h0M563 243h0M575.5 238h0M547.5 250.5h0M544 241h0M518.5 188.5h0M530.5 215h0M530 238h0M570.5 241.5h0M521.5 216.5h0M569.5 230.5h0M545 244.5h0M537.5 248.5h0M528.5 226.5h0M588.5 194h0M558.5 252.5h0M594 226.5h0M539.5 239h0M536 233.5h0M538.5 235.5h0M573.5 195h0M538.5 234.5h0M545.5 246.5h0M588 217.5h0M585 218h0M565.5 224h0M562.5 242h0M529.5 189.5h0M576.5 230.5h0M575 242.5h0M535 236h0M529 231.5h0M572 236.5h0M500.5 207h0M551 256.5h0M581.5 243h0M530.5 236h0M585 231.5h0M524 226.5h0M541 251h0M519.5 190.5h0M578.5 239.5h0M579 210h0M578 235.5h0M538.5 243h0M526 228h0M531.5 241.5h0M538.5 245h0M533 243.5h0M541.5 240.5h0M518.5 206.5h0M577 222h0M568.5 217.5h0M585.5 218.5h0M583.5 204.5h0M529 190h0M566.5 239.5h0M540.5 250h0M564 240.5h0M532.5 239h0M520.5 214.5h0M513 195h0M541.5 247h0M534 234h0M527.5 208h0M541 237h0M523 196.5h0M590.5 229h0M582 224h0M539 233h0M562 251h0M567 244.5h0M535.5 234h0M562.5 247h0M560 243h0M538 242.5h0M556.5 254h0M546.5 256h0M532 236h0M591.5 205.5h0M535.5 249h0M570.5 242h0M519 226.5h0M531.5 201h0M564.5 244h0M575.5 248.5h0M569.5 211.5h0M538 227h0M561.5 245h0M566.5 240h0M568.5 247.5h0M544 246.5h0M519.5 231h0M573 224.5h0M573.5 232h0M571.5 246.5h0M540 242h0M504 224.5h0M603.5 208.5h0M594.5 188h0M518 197h0M574.5 203h0M585.5 224.5h0M586.5 229.5h0M534.5 205h0M584 220h0M539.5 250.5h0M562.5 239h0M559 252.5h0M567 242h0M542 251.5h0M594.5 204h0M538 219h0M575.5 233h0M589 191.5h0M517.5 218h0M539 235h0M536 242.5h0M545 248h0M562 248.5h0M571 246h0M524.5 220.5h0M538 226.5h0M536.5 233.5h0M564 244h0M534.5 234.5h0M545.5 247h0M574 240h0M541 249h0M579.5 242.5h0M531.5 209.5h0M550 258.5h0M566.5 248h0M525.5 242.5h0M565 244h0M537 236h0M537.5 241.5h0M569.5 218h0M544.5 249.5h0M558 257h0M517.5 215h0M528 219h0M579 230.5h0M532.5 232h0M521 194.5h0M586.5 211.5h0M527.5 242h0M587.5 191.5h0M547.5 251h0M564.5 237h0M562 246h0M567 246.5h0M586.5 216h0M532.5 237h0M564.5 246.5h0M592.5 208.5h0M541.5 234h0M578 233h0M563.5 250h0M562 244h0M540.5 229.5h0M543 236.5h0M582.5 235h0M557.5 253.5h0M517.5 206.5h0M525 231h0M522 220.5h0M576 189.5h0M566 249h0M535 226.5h0M536.5 239.5h0M519 216h0M581.5 203h0M564.5 242.5h0M534.5 245h0M521 210.5h0M546.5 248h0M530 236.5h0M575.5 215.5h0M563 247h0M574.5 235.5h0M524 210h0M580.5 231.5h0M581 209h0M522.5 223h0M561 250h0M523 208h0M574 223h0M541.5 245h0M585 212h0M561 255h0M544 242.5h0M572.5 229h0M569.5 236h0M532.5 215h0M531 237.5h0M604.5 220h0M572.5 216h0M547.5 249.5h0M528 215h0M580.5 225.5h0M588 194h0M564 249.5h0M543 239h0M521.5 218.5h0M580.5 194h0M569 245.5h0M567 252h0M569.5 218.5h0M535 246h0M532.5 242h0M578.5 238.5h0M556 254.5h0M556.5 258h0M561 246h0M521 224h0M542 240h0M524 236h0M557 253.5h0M571.5 234h0M537 246.5h0M534 222h0M564 240h0M514.5 207h0M594 204.5h0M576 215.5h0M564 235h0M588.5 212.5h0M517 194.5h0M578 229h0M565.5 244.5h0M539 243h0M528 227.5h0M565 239.5h0M585 220h0M580 224h0M543 253.5h0M566.5 229.5h0M564.5 251.5h0M539.5 249h0M522 230h0M562 242h0M589 227h0M579.5 236.5h0M564.5 248.5h0M560 252.5h0M532 247h0M558.5 249.5h0M530.5 240.5h0M581 214.5h0M561.5 248h0M580.5 223h0M544 251.5h0M571 206.5h0M535.5 241h0M521 225h0M537.5 232.5h0M529.5 210.5h0M575 234.5h0M576.5 231.5h0M523 222h0M588 209.5h0M541.5 251h0M571.5 238.5h0M588.5 223.5h0M534 232.5h0M582.5 233h0M536 226h0M577.5 239h0M568 232h0M545 242h0M585.5 218h0M581 212h0M529 210.5h0M538 245h0M526.5 230h0M532.5 238h0M568 241.5h0M529.5 236h0M542 242h0M542 252.5h0M573.5 240.5h0M578.5 234.5h0M541 238h0M568.5 242.5h0M536 224h0M556.5 255h0M568 246.5h0M520 217h0M531.5 203h0M574.5 238h0M563.5 244h0M518.5 215h0M579 211h0M593.5 192h0M533.5 236h0M514 225.5h0M527.5 235h0M570 228h0M573 201.5h0M577.5 237h0M591.5 188h0M535 213h0M574 210.5h0M564 252.5h0M539.5 231h0M525.5 188h0M574.5 217h0M535.5 241.5h0M584 233.5h0M530.5 238h0M519 198h0M532 208h0M565 240.5h0M535 233h0M548.5 254h0M571 249h0M542.5 240.5h0M539.5 237.5h0M533 210.5h0M606 205h0M512.5 189h0M538 240.5h0M544.5 245h0M538.5 230.5h0M543 240h0M546.5 255h0M526.5 202h0M579.5 218h0M527.5 216.5h0M561.5 241.5h0M536 225h0M535 238h0M538.5 244h0M544 243h0M528.5 215.5h0M510.5 187.5h0M524 233.5h0M565.5 247.5h0M529 218h0M567 240.5h0M533 236.5h0M542.5 250.5h0M543 245h0M580.5 216.5h0M527 229.5h0M578.5 225.5h0M535.5 239h0M580 222h0M534.5 245.5h0M532.5 235h0M544 252h0M578 212h0M565 251h0M535 245h0M558 249.5h0M574.5 225.5h0M577 233h0M568.5 213.5h0M582.5 237.5h0M530 233.5h0M530 220h0M547 249h0M567.5 230h0M573.5 243h0M531.5 212.5h0M577 239.5h0M535 221.5h0M573.5 241h0M532.5 250.5h0M540 253.5h0M566 226h0M559 246h0M580 237h0M514 198h0M577 248h0M617.5 196h0M573.5 226h0M522 205h0M545.5 251.5h0M529 239h0M544.5 255h0M570.5 242.5h0M529 233h0M544 250.5h0M539.5 225h0M584.5 227h0M536 216.5h0M540 238.5h0M548.5 258h0M525.5 225.5h0M534.5 228.5h0M545 255h0M574 236.5h0M586 222.5h0M541 242.5h0M533.5 212h0M588.5 218.5h0M525.5 241.5h0M576 200.5h0M581.5 229h0M543.5 250h0M562.5 249h0M519.5 217h0M543 249.5h0M567 230.5h0M530 226.5h0M518.5 201h0M562 247.5h0M574 221h0M569 214.5h0M588.5 220.5h0M538 236.5h0M576.5 205h0M572.5 218.5h0M585 233.5h0M533.5 228h0M579.5 245.5h0M569 239h0M562.5 242.5h0M575 230h0M532 241.5h0M543.5 241.5h0M577.5 229h0M523 230.5h0M589.5 206.5h0M535.5 216h0M558.5 248.5h0M571.5 207h0M560 250.5h0M515.5 202h0M580.5 230h0M541.5 249.5h0M540 230h0M547.5 252.5h0M570.5 237h0M540.5 246h0M560.5 251.5h0M577 238h0M565 247h0M569.5 243.5h0M562 246.5h0M574 233h0M525 231.5h0M570 247.5h0M521.5 212h0M579 233h0M581 229h0M518 218h0M567 254.5h0M536 221.5h0M535 242h0M537 226h0M516 210.5h0M523 217h0M542 245.5h0M544 251h0M565.5 238h0M573.5 240h0M526 217.5h0M541 248.5h0M584 202h0M546.5 250.5h0M571 233h0M533.5 214h0M568 248.5h0M568 237h0M593 200.5h0M533 241.5h0M532 226.5h0M539 247h0M523 207h0M562.5 244h0M572.5 200h0M571.5 220.5h0M577.5 214h0M576 239h0M527 190.5h0M568.5 239h0M560.5 253h0M565 250h0M608.5 191h0M539 249h0M578.5 236.5h0M540 245.5h0M520.5 225.5h0M543 247h0M514.5 206h0M576.5 217h0M528.5 218.5h0M591.5 203h0M588 238.5h0M527 196h0M580.5 203h0M566 232h0M586 215.5h0M569.5 248h0M530.5 203.5h0M534 249.5h0M533.5 243h0M526.5 219.5h0M530.5 234h0M587 212.5h0M571.5 215h0M529 239.5h0M538 233.5h0M573 242.5h0M522.5 238.5h0M536.5 221h0M583.5 210.5h0M570 215.5h0M540 229.5h0M534 241.5h0M531 239h0M576.5 239h0M582.5 229h0M561.5 243.5h0M533 222h0M562 254h0M563.5 232.5h0M572 222h0M587.5 201.5h0M579.5 228.5h0M575 234h0M590 207.5h0M587 208.5h0M574.5 236.5h0M541 247h0M530 228.5h0M578 200.5h0M538.5 238.5h0M536 245.5h0M521.5 228h0M559 250.5h0M579.5 214.5h0M576.5 232h0M575 237.5h0M531 229.5h0M573.5 227.5h0M592 205h0M546 250.5h0M603.5 209h0M570 229.5h0M543 243h0M541 245h0M563 237.5h0M519.5 222h0M538 240h0M539.5 241.5h0M582.5 227h0M538.5 238h0M558 249h0M534.5 219.5h0M559 246.5h0M527 224h0M567.5 248.5h0M573 208.5h0M575.5 220h0M567 231h0M581 235.5h0M536 229h0M585.5 203h0M540 234.5h0M576 200h0M515.5 210h0M580 235.5h0M562 245.5h0M523.5 187.5h0M532 201.5h0M534 239.5h0M558.5 251h0M513.5 238.5h0M518.5 209h0M579 227.5h0M527.5 218.5h0M569 232.5h0M547 248.5h0M585 227h0M572.5 244.5h0M530 221.5h0M566.5 250h0M545 249.5h0M539 222.5h0M563.5 241.5h0M567 224h0M578 195h0M577.5 217.5h0M563 236h0M572.5 234.5h0M584.5 230.5h0M526.5 214h0M578.5 205h0M570.5 245h0M566.5 237.5h0M546 248h0M536 237.5h0M579.5 237.5h0M535.5 229.5h0M534.5 229h0M542.5 252h0M572 234h0M566.5 225.5h0M562.5 236h0M527.5 227.5h0M519 205h0M522.5 228h0M543 236h0M516.5 206h0M582.5 219.5h0M528.5 227.5h0M522.5 231h0M567 243.5h0M531.5 244h0M523 195h0M532.5 220h0M571.5 218.5h0M545.5 248.5h0M569 244h0M531.5 218.5h0M564.5 240h0M566.5 235h0M581 206h0M571 245h0M575.5 206.5h0M567.5 235h0M579.5 236h0M565 247.5h0M563.5 235.5h0M590.5 231.5h0M578.5 219h0M540 231h0M587.5 221h0M522 229.5h0M515 201.5h0M542.5 243.5h0M564 233.5h0M579.5 231.5h0M575 241h0M508 210h0M528.5 192.5h0M541 252h0M584 238.5h0M522.5 220.5h0M567 248h0M578 234.5h0M579.5 239h0M561 242.5h0M520.5 203h0M568 243h0M525 203.5h0M587.5 232h0M538 239.5h0M532.5 239.5h0M540 240.5h0M571 224h0M539.5 234.5h0M586.5 191.5h0M577 241h0M516 223h0M532.5 198h0M542 231.5h0M542.5 244h0M528.5 234h0M540.5 251h0M595.5 236.5h0M572.5 235.5h0M529.5 235h0M584.5 229h0M574.5 208.5h0M526 188.5h0M564 230h0M532.5 209h0M577 235h0M581 224h0M581 230h0M539.5 227.5h0M565 248.5h0M581.5 228.5h0M528.5 223.5h0M525 226h0M525.5 224h0M564 228.5h0M570 248h0M587.5 217h0M542.5 233h0M544.5 245.5h0M527.5 225h0M563 246.5h0M532 242.5h0M572.5 220.5h0M587 227h0M561 244h0M578.5 240h0M573 216.5h0M564.5 247.5h0M538 241.5h0M570.5 239h0M531 234h0M528.5 219.5h0M571.5 242h0M592 211h0M536.5 247.5h0M536 210.5h0M583.5 223h0M519.5 209h0M574.5 241.5h0M550 255.5h0M566.5 223h0M595.5 221.5h0M583.5 190h0M532.5 237.5h0M575.5 240h0M579.5 211h0M583 232.5h0M534 227h0M573 223h0M528.5 235.5h0M580.5 228h0M522.5 221h0M568.5 248h0M566 238h0M585.5 216.5h0M541 229h0M520.5 226h0M542.5 245.5h0M538.5 224.5h0M578.5 229.5h0M529 226.5h0M518.5 194h0M545.5 245.5h0M582 245h0M538.5 247h0M559.5 247.5h0M538.5 242h0M588 224.5h0M538 247h0M584 229h0M574.5 231h0M538.5 231h0M513 195.5h0M571.5 216h0M562.5 239.5h0M532 235h0M565.5 243h0M528 211.5h0M580 228.5h0M570 226h0M583.5 205h0M566 239h0M577 199h0M519 228.5h0M543.5 249h0M514.5 236h0M602 214.5h0M581.5 232.5h0M536 248.5h0M568.5 247h0M522.5 218.5h0M530 239.5h0M531.5 233h0M581.5 200.5h0M542 240.5h0M573 228.5h0M581.5 213.5h0M541.5 231h0M571.5 227h0M499.5 221.5h0M581 229.5h0M585 214h0M544 239h0M536.5 236.5h0M567 241h0M580.5 236h0M536 232h0M536.5 242.5h0M573.5 225.5h0M583.5 208h0M571 216.5h0M540.5 239.5h0M578.5 208.5h0M534 243.5h0M590 221.5h0M588.5 225h0M542.5 237h0M555.5 258.5h0M536 226.5h0M575 240.5h0M580 207h0M514 199.5h0M570.5 239.5h0M586.5 230h0M583 233.5h0M570 238.5h0M541 236.5h0M565.5 239.5h0M570.5 247h0M574.5 221.5h0M535 243.5h0M572.5 205h0M544 237.5h0M525.5 212.5h0M531.5 238.5h0M563 238.5h0M535 241.5h0M572 243.5h0M575.5 197.5h0M579 223h0M527 203h0M566 243.5h0M531 240h0M534.5 218h0M594 207h0M524 223h0M526 236h0M533 241h0M570.5 206h0M534.5 244h0M559.5 248.5h0M514.5 228.5h0M571.5 243h0M560 251h0M566 241h0M542 232.5h0M571 250.5h0M568 224h0M536.5 226.5h0M567 247.5h0M523 200h0M539 225.5h0M597.5 193h0M565.5 248.5h0M574 193h0M559.5 246.5h0M525.5 225h0M531.5 239h0M579 235h0M559 249.5h0M520.5 219.5h0M583 225h0M522 221.5h0M564.5 252.5h0M540 249.5h0M541.5 241.5h0M586 224h0M573 220.5h0M535 243h0M580.5 229.5h0M559 249h0M575.5 198.5h0M598 196h0M562.5 241h0M580 241h0M593 208h0M592 205.5h0M569.5 228h0M535.5 238.5h0M563 254h0M579 199.5h0M574.5 226.5h0M587 225h0M562.5 238h0M543.5 237h0M568 243.5h0M538.5 241.5h0M590.5 220h0M577 192h0M540 227h0M566 229h0M522.5 203.5h0M561 253h0M526 216h0M582.5 212h0M531.5 204.5h0M526 207.5h0M530 235h0M531.5 220h0M577 233.5h0M531 214h0M556 254h0M540.5 242.5h0M525 209.5h0M561 240h0M548.5 256h0M547.5 250h0M563 235.5h0M570 241.5h0M571.5 204.5h0M575 235h0M541.5 240h0M542 248.5h0M595.5 219.5h0M520.5 233.5h0M565 243h0M576.5 241h0M567.5 244h0M539 243.5h0M520.5 228h0M575.5 234h0M541 239h0M535.5 244h0M545.5 251h0M571 252h0M531 209h0M584.5 188h0M575.5 238.5h0M586.5 195h0M541 248h0M575.5 241.5h0M560 252h0M567.5 223.5h0M576 229.5h0M594.5 194h0M577 235.5h0M520 216h0M541.5 242.5h0M523 195.5h0M537 216.5h0M563.5 249.5h0M584.5 227.5h0M577 206h0M542.5 249.5h0M565 242.5h0M536.5 227h0M527 215h0M578.5 199.5h0M584.5 199.5h0M523 218.5h0M584 189.5h0M567 238h0M561 248.5h0M528.5 219h0M563 244.5h0M532.5 214h0M581.5 226.5h0M574 220h0M571 242.5h0M577 211.5h0M585.5 227h0M535 236.5h0M542.5 243h0M533.5 235h0M535.5 244.5h0M530 224h0M570.5 233h0M571.5 245h0M574 229h0M578 239h0M532.5 207.5h0M529.5 194h0M522 206.5h0M525 220h0M537.5 220.5h0M557 253h0M583.5 232.5h0M523.5 193.5h0M532.5 240.5h0M538 250.5h0M557.5 251.5h0M570 245h0M542 246h0M529.5 223h0M577 216h0M533.5 243.5h0M589 229h0M568.5 216.5h0M531.5 236h0M529.5 229h0M531.5 230.5h0M543.5 247h0M565.5 229h0M566 241.5h0M566.5 240.5h0M539 244h0M535.5 242.5h0M579.5 198.5h0M570 237.5h0M559.5 251.5h0M541.5 244h0M535.5 210h0M574.5 243.5h0M525 222h0M512 192.5h0M569.5 238.5h0M534 236.5h0M565.5 241h0M574 229.5h0M588.5 212h0M587.5 219.5h0M578.5 202h0M592.5 220h0M549.5 258.5h0M529.5 221h0M573 241h0M543.5 248h0M563 242h0M571 226.5h0M565.5 250.5h0M569.5 245h0M575 216.5h0M576 211.5h0M579 232.5h0M583.5 217h0M595 190h0M516.5 206.5h0M573.5 222.5h0M532.5 201h0M589.5 221h0M564.5 241h0M517 215.5h0M580.5 211h0M520.5 222h0M565 232.5h0M562.5 243h0M565.5 237.5h0M571 240.5h0M514.5 226.5h0M588.5 223h0M570 242h0M576 238.5h0M523.5 198h0M559 255.5h0M518.5 207h0M529.5 233.5h0M581 237h0M530 207.5h0M538 231h0M580 215h0M574.5 242.5h0M580.5 230.5h0M588 205.5h0M531.5 237.5h0M541.5 237h0M578 231.5h0M591.5 224.5h0M591 212h0M535.5 231h0M588 227h0M576 229h0M525 227h0M534.5 242.5h0M575 198h0M531.5 227h0M525.5 200.5h0M539.5 242.5h0M528.5 236h0M520.5 224h0M590 219.5h0M531.5 221.5h0M537.5 215h0M526 221h0M570 221.5h0M541.5 244.5h0M579.5 220h0M528 224h0M563 247.5h0M575.5 213.5h0M518.5 220.5h0M538 244h0M593 208.5h0M528 230.5h0M540.5 234.5h0M576 233.5h0M534 242h0M563.5 235h0M534 214h0M588.5 197h0M563 241.5h0M530.5 211h0M588.5 219.5h0M581.5 214.5h0M576.5 236h0M533.5 230h0M539 235.5h0M579 219h0M579 234.5h0M568 240h0M558.5 257h0M593.5 198h0M586.5 195.5h0M576.5 234.5h0M534.5 204h0M564 243h0M583.5 227.5h0M534.5 227.5h0M519.5 217.5h0M535.5 243h0M530.5 221.5h0M571 222h0M544 240.5h0M536.5 230h0M582.5 222h0M531 236h0M534 222.5h0M582.5 232h0M581 234.5h0M534.5 223.5h0M588.5 195.5h0M576 241h0M582.5 227.5h0M561.5 242.5h0M526 215.5h0M529 236h0M526.5 224h0M563.5 240.5h0M509 202h0M569.5 239.5h0M571.5 219.5h0M567.5 247.5h0M575.5 242.5h0M538.5 222.5h0M587.5 223h0M534 210.5h0M566.5 222.5h0M526 205.5h0M529 200.5h0M538 229.5h0M581 199.5h0M523 199h0M562 249h0M575.5 227.5h0M528.5 210h0M560.5 244h0M532.5 236h0M527 234.5h0M576 199h0M536 243h0M525.5 206.5h0M529 225h0M541.5 238.5h0M521.5 211h0M531.5 236.5h0M597 229h0M587 224h0M573 231.5h0M544.5 251.5h0M588.5 188.5h0M523.5 230h0M527.5 230.5h0M589 224h0M568 233.5h0M576.5 206h0M528.5 232.5h0M593.5 203h0M544 249.5h0M570 236.5h0M533.5 242h0M590.5 208h0M577 201.5h0M568.5 226.5h0M568 233h0M522 193.5h0M574 236h0M571.5 244h0M571.5 216.5h0M541.5 236h0M563 236.5h0M537 250h0M564.5 234.5h0M530.5 201.5h0M584 224.5h0M532 236.5h0M585 207h0M572 250h0M561 249.5h0M580.5 235h0M582 231.5h0M532.5 208.5h0M523 230h0M534 228h0M542 246.5h0M539 220.5h0M522.5 227.5h0M587 201h0M562.5 250.5h0M530.5 210h0M531.5 228h0M534.5 242h0M585.5 199h0M567 243h0M576.5 216h0M540.5 231.5h0M570 249.5h0M579.5 191.5h0M572.5 246.5h0M572.5 232h0M557 252h0M518 219.5h0M540 240h0M520 225.5h0M534.5 233h0M587.5 214h0M537.5 243.5h0M585.5 213.5h0M584 222.5h0M562.5 237h0M538 235h0M538.5 221.5h0M561.5 240h0M546.5 256.5h0M532.5 221h0M514 196h0M563 233.5h0M522.5 196.5h0M534 229h0M573.5 214.5h0M532.5 217.5h0M521 232h0M533.5 227.5h0M560.5 242h0M535 237.5h0M571.5 208.5h0M544.5 243h0M517.5 210.5h0M520 192h0M525 220.5h0M571.5 239h0M530.5 217h0M582 236h0M578 187.5h0M559.5 246h0M562 243h0M574.5 241h0M575.5 236.5h0M522 222h0M564 237h0M532 203h0M558 253h0M581.5 211h0M546 248.5h0M583 213h0M538 248h0M534 211h0M516.5 215h0M516.5 209h0M577 239h0M562.5 235.5h0M572 232.5h0M575.5 208.5h0M575 197h0M530.5 235.5h0M566.5 238h0M582 218h0M569 231h0M521 222.5h0M581 223h0M589 217h0M518 204h0M567.5 238.5h0M539.5 246.5h0M525.5 236.5h0M533.5 244h0M524 229.5h0M565 226.5h0M578.5 236h0M517 213.5h0M530.5 196h0M571.5 235h0M569.5 222h0M541.5 230h0M561.5 244.5h0M569.5 244.5h0M575.5 240.5h0M582 207.5h0M586 191.5h0M533 224.5h0M549 253h0M579.5 229.5h0M542 255h0M594.5 194.5h0M529.5 215h0M569 240.5h0M565.5 238.5h0M578.5 213.5h0M534.5 239.5h0M581 228h0M530.5 223h0M528 202.5h0M532 232.5h0M535.5 227.5h0M536.5 240.5h0M578.5 201h0M518.5 208h0M578.5 235.5h0M575.5 218h0M518 201h0M527 212.5h0M565.5 248h0M588.5 218h0M576 230.5h0M559.5 248h0M530.5 196.5h0M572 214.5h0M582 228.5h0M529 223h0M596 191h0M532 200h0M542 233.5h0M534.5 217h0M565 252.5h0M546.5 246h0M552 258h0M526 235.5h0M565 243.5h0M580.5 195.5h0M531.5 214h0M564 245.5h0M574 202h0M526.5 227.5h0M554.5 259h0M533.5 231h0M527 187.5h0M575 226h0M578 224h0M583 224.5h0M566.5 241.5h0M532.5 225.5h0M536 230h0M529 218.5h0M546.5 247.5h0M528 205.5h0M536.5 219h0M578 248h0M587.5 206.5h0M592.5 200.5h0M585.5 230.5h0M522.5 219h0M571 235h0M530.5 200h0M540.5 237.5h0M568.5 249h0M553 258.5h0M579.5 201h0M570.5 217.5h0M537 212.5h0M536 222h0M566.5 246h0M536 213h0M539.5 231.5h0M576 240.5h0M529 220.5h0M534.5 236.5h0M537 219h0M534.5 221.5h0M575 229.5h0M563.5 243h0M566 236h0M532.5 225h0M569 230.5h0M536.5 212.5h0M544 243.5h0M512.5 197h0M585.5 217.5h0M533.5 235.5h0M532 217h0M567.5 234h0M580 197h0M530 197h0M569 228.5h0M538.5 234h0M592 209.5h0M570 219.5h0M595 207h0M524.5 232.5h0M586 221.5h0M525 197.5h0M541.5 235.5h0M576.5 222h0M561.5 250h0M534.5 231h0M566 247h0M574 222.5h0M578 227h0M538.5 219.5h0M575 236.5h0M570.5 237.5h0M521 202.5h0M584 202.5h0M536.5 223h0M516.5 210h0M580.5 191h0M585 234h0M561.5 247h0M539.5 230.5h0M512 190.5h0M532 197h0M526 235h0M572.5 224h0M530 237h0M522 230.5h0M589.5 216.5h0M535 211h0M580.5 237.5h0M542.5 246.5h0M536 219.5h0M540.5 236.5h0M525 222.5h0M564 248h0M577.5 203.5h0M560.5 250h0M582 234.5h0M536.5 253h0M501.5 210h0M539.5 245h0M570.5 207h0M576.5 237.5h0M574 224.5h0M526.5 236.5h0M526 212h0M543 237.5h0M576.5 200.5h0M581.5 230h0M526.5 223.5h0M538 246h0M542 253h0M529.5 219.5h0M519 200h0M562.5 252h0M523.5 209h0M537 234.5h0M569.5 247.5h0M561.5 251.5h0M586 225h0M535 227.5h0M535.5 226h0M541 241.5h0M534.5 222h0M534.5 236h0M541.5 239h0M573 242h0M563.5 252.5h0M586 200.5h0M526.5 228h0M530 228h0M537 239.5h0M583 221.5h0M541 236h0M539.5 229h0M534.5 239h0M566.5 232h0M518.5 220h0M531 226h0M568 244.5h0M582.5 190.5h0M586 219.5h0M577 215.5h0M533 230h0M565 234h0M536 236h0M533.5 242.5h0M575 239h0M531 232.5h0M525.5 222h0M544 241.5h0M586 220h0M515.5 200.5h0M564 248.5h0M581 225h0M539.5 249.5h0M584 227.5h0M577 234h0M588.5 222h0M570.5 245.5h0M579 218.5h0M529.5 234.5h0M584.5 193h0M568.5 226h0M521.5 220.5h0M515 197h0M580 222.5h0M569.5 244h0M572 227h0M524 226h0M535 238.5h0M516.5 203h0M530.5 239.5h0M516.5 208.5h0M521 204h0M564 250.5h0M524 227h0M536 247h0M540.5 248.5h0M582.5 244h0M566.5 227.5h0M586 192.5h0M585.5 214.5h0M562.5 248h0M580 221.5h0M565.5 249h0M585.5 224h0M576.5 223.5h0M573 232.5h0M564 244.5h0M570 223.5h0M587 201.5h0M526 230h0M527 209h0M530.5 226h0M524 211h0M573 207h0M524.5 228.5h0M571 232h0M538 237.5h0M574 243h0M572.5 234h0M518.5 233.5h0M540 231.5h0M514 225h0M515 197.5h0M572.5 243.5h0M572 238h0M530 235.5h0M582 235.5h0M583 219.5h0M534 238h0M581.5 234.5h0M528 244h0M577.5 234.5h0M568.5 225h0M541 228h0M565.5 241.5h0M575.5 219.5h0M521 205.5h0M524 237h0M527.5 233.5h0M537 214.5h0M533 242.5h0M575.5 232.5h0M561.5 246h0M570 227h0M563 240.5h0M533 231h0M569 249.5h0M572 230h0M529.5 241.5h0M569.5 227.5h0M561 243.5h0M540.5 245.5h0M515.5 232h0M538.5 219h0M572 244.5h0M531.5 231.5h0M523 226.5h0M561 240.5h0M579 216h0M540.5 241h0M536 241h0M531 204.5h0M586 219h0M536 238.5h0M538 226h0M527.5 241h0M594 190h0M578 238.5h0M536 253h0M579.5 217h0M588 218h0M526.5 199h0M527.5 234.5h0M564.5 243.5h0M518.5 223.5h0M573.5 197.5h0M530.5 207.5h0M529.5 195.5h0M526.5 221h0M540 248.5h0M580.5 187.5h0M533.5 210h0M573.5 233h0M585.5 233h0M539.5 244h0M578 191h0M538 244.5h0M568 227.5h0M563 249h0M532.5 206h0M574.5 240.5h0M522 208.5h0M539 234h0M569.5 232.5h0M592 193h0M521.5 210.5h0M538 221.5h0M594 202.5h0M538 247.5h0M575.5 218.5h0M569 226h0M523 226h0M536.5 229.5h0M528.5 231.5h0M528 226h0M565 237.5h0M531 192h0M591 202.5h0M571.5 241h0M508 217h0M561 255.5h0M574 239.5h0M560 242.5h0M596 216h0M579.5 234.5h0M526.5 194.5h0M520 218.5h0M572.5 217h0M589 225h0M605.5 216.5h0M561.5 242h0M587.5 193.5h0M561 247h0M541.5 242h0M518 216.5h0M538.5 253h0M561.5 249h0M526.5 236h0M569.5 241.5h0M591.5 211.5h0M577.5 227h0M543 246.5h0M526 232.5h0M565.5 251.5h0M569.5 228.5h0M563 239.5h0M564 230.5h0M532.5 218.5h0M587 220h0M562 237.5h0M571 228h0M535 229.5h0M536.5 235h0M497.5 206h0M501 213h0M502.5 217h0M508.5 230.5h0M512.5 221h0M513.5 232.5h0M518 236h0M507 205h0M503.5 195.5h0M506 195.5h0M507.5 195.5h0M509 205h0M511 209.5h0M512 213.5h0M497.5 196h0M496 206h0M607 225.5h0M603.5 216h0M609 207h0M598.5 229h0M593 232.5h0M586 237.5h0M581 243h0M570.5 251.5h0M602 207.5h0M606 209.5h0M599.5 201.5h0M603 197h0M626.5 200h0M622.5 193.5h0M616.5 219.5h0M607.5 226h0M599 229.5h0M580.5 249.5h0"/>
<g fill="#0d0d0d" fill-opacity="0.8"><circle cx="488.0" cy="118.4" r="1.45"/><circle cx="495.2" cy="123.5" r="1.45"/><circle cx="508.8" cy="120.4" r="1.45"/><circle cx="500.6" cy="127.2" r="1.45"/><circle cx="491.1" cy="140.5" r="1.45"/><circle cx="499.3" cy="142.0" r="1.45"/><circle cx="508.7" cy="140.5" r="1.45"/><circle cx="514.9" cy="141.5" r="1.45"/><circle cx="520.5" cy="140.5" r="1.45"/><circle cx="521.5" cy="145.9" r="1.45"/><circle cx="504.9" cy="147.4" r="1.45"/><circle cx="510.0" cy="150.2" r="1.45"/><circle cx="483.2" cy="154.6" r="1.45"/><circle cx="496.3" cy="156.3" r="1.45"/><circle cx="505.7" cy="155.1" r="1.45"/><circle cx="507.7" cy="153.3" r="1.45"/><circle cx="508.7" cy="156.9" r="1.45"/><circle cx="513.3" cy="155.1" r="1.45"/><circle cx="512.8" cy="158.9" r="1.45"/><circle cx="515.4" cy="157.9" r="1.45"/><circle cx="519.1" cy="156.3" r="1.45"/><circle cx="524.6" cy="158.4" r="1.45"/><circle cx="498.0" cy="160.2" r="1.45"/><circle cx="502.4" cy="158.4" r="1.45"/><circle cx="502.4" cy="160.4" r="1.45"/><circle cx="506.7" cy="159.4" r="1.45"/><circle cx="526.1" cy="160.9" r="1.45"/><circle cx="493.6" cy="164.3" r="1.45"/><circle cx="502.1" cy="164.7" r="1.45"/><circle cx="508.2" cy="163.5" r="1.45"/><circle cx="509.2" cy="166.6" r="1.45"/><circle cx="518.9" cy="162.3" r="1.45"/><circle cx="515.9" cy="165.5" r="1.45"/><circle cx="522.0" cy="166.1" r="1.45"/><circle cx="526.9" cy="165.3" r="1.45"/><circle cx="505.7" cy="170.1" r="1.45"/><circle cx="508.7" cy="171.2" r="1.45"/><circle cx="511.3" cy="170.7" r="1.45"/><circle cx="514.9" cy="171.7" r="1.45"/><circle cx="520.0" cy="169.6" r="1.45"/><circle cx="524.0" cy="170.1" r="1.45"/><circle cx="499.5" cy="173.2" r="1.45"/><circle cx="493.7" cy="175.8" r="1.45"/><circle cx="496.7" cy="176.8" r="1.45"/><circle cx="481.1" cy="176.6" r="1.45"/><circle cx="482.5" cy="181.4" r="1.45"/><circle cx="495.2" cy="178.8" r="1.45"/><circle cx="506.2" cy="176.8" r="1.45"/><circle cx="515.9" cy="176.3" r="1.45"/><circle cx="521.0" cy="174.7" r="1.45"/><circle cx="526.1" cy="175.3" r="1.45"/><circle cx="502.8" cy="179.6" r="1.45"/><circle cx="505.7" cy="179.9" r="1.45"/><circle cx="511.8" cy="181.4" r="1.45"/><circle cx="514.3" cy="183.4" r="1.45"/><circle cx="517.9" cy="180.9" r="1.45"/><circle cx="522.0" cy="181.9" r="1.45"/><circle cx="528.1" cy="179.3" r="1.45"/><circle cx="529.7" cy="181.9" r="1.45"/><circle cx="526.1" cy="183.4" r="1.45"/><circle cx="495.7" cy="184.1" r="1.45"/><circle cx="504.6" cy="186.2" r="1.45"/><circle cx="508.5" cy="186.0" r="1.45"/><circle cx="517.9" cy="185.0" r="1.45"/><circle cx="521.0" cy="185.0" r="1.45"/><circle cx="531.2" cy="185.5" r="1.45"/><circle cx="524.0" cy="186.5" r="1.45"/><circle cx="527.1" cy="185.5" r="1.45"/><circle cx="625.3" cy="113.2" r="1.45"/><circle cx="595.0" cy="116.6" r="1.45"/><circle cx="600.1" cy="116.3" r="1.45"/><circle cx="610.1" cy="117.3" r="1.45"/><circle cx="616.9" cy="117.0" r="1.45"/><circle cx="625.7" cy="125.3" r="1.45"/><circle cx="596.5" cy="121.7" r="1.45"/><circle cx="591.4" cy="123.9" r="1.45"/><circle cx="617.2" cy="126.5" r="1.45"/><circle cx="640.7" cy="123.1" r="1.45"/><circle cx="598.7" cy="129.4" r="1.45"/><circle cx="626.7" cy="129.0" r="1.45"/><circle cx="635.2" cy="130.4" r="1.45"/><circle cx="639.6" cy="129.4" r="1.45"/><circle cx="591.8" cy="132.2" r="1.45"/><circle cx="594.3" cy="134.1" r="1.45"/><circle cx="610.1" cy="131.6" r="1.45"/><circle cx="614.7" cy="133.4" r="1.45"/><circle cx="627.2" cy="132.9" r="1.45"/><circle cx="586.6" cy="135.1" r="1.45"/><circle cx="603.5" cy="134.8" r="1.45"/><circle cx="602.3" cy="139.2" r="1.45"/><circle cx="608.5" cy="138.5" r="1.45"/><circle cx="610.4" cy="141.1" r="1.45"/><circle cx="633.0" cy="139.9" r="1.45"/><circle cx="631.5" cy="142.8" r="1.45"/><circle cx="593.9" cy="143.3" r="1.45"/><circle cx="580.7" cy="146.8" r="1.45"/><circle cx="585.5" cy="145.3" r="1.45"/><circle cx="588.5" cy="145.3" r="1.45"/><circle cx="603.1" cy="145.3" r="1.45"/><circle cx="609.6" cy="145.3" r="1.45"/><circle cx="616.2" cy="143.3" r="1.45"/><circle cx="620.1" cy="145.3" r="1.45"/><circle cx="622.0" cy="149.1" r="1.45"/><circle cx="595.0" cy="150.9" r="1.45"/><circle cx="602.3" cy="152.6" r="1.45"/><circle cx="609.3" cy="150.9" r="1.45"/><circle cx="612.6" cy="152.3" r="1.45"/><circle cx="619.1" cy="157.4" r="1.45"/><circle cx="630.8" cy="158.9" r="1.45"/><circle cx="624.2" cy="164.0" r="1.45"/><circle cx="627.4" cy="167.7" r="1.45"/><circle cx="628.6" cy="178.9" r="1.45"/><circle cx="625.7" cy="182.0" r="1.45"/><circle cx="621.0" cy="178.6" r="1.45"/><circle cx="622.8" cy="177.9" r="1.45"/><circle cx="630.7" cy="158.7" r="1.45"/><circle cx="624.3" cy="164.0" r="1.45"/><circle cx="627.6" cy="167.6" r="1.45"/><circle cx="620.2" cy="172.5" r="1.45"/><circle cx="628.6" cy="178.8" r="1.45"/><circle cx="626.1" cy="182.1" r="1.45"/><circle cx="621.5" cy="178.8" r="1.45"/><circle cx="623.5" cy="178.3" r="1.45"/><circle cx="618.9" cy="157.4" r="1.45"/><circle cx="613.8" cy="160.4" r="1.45"/><circle cx="615.8" cy="159.9" r="1.45"/><circle cx="613.3" cy="167.6" r="1.45"/><circle cx="616.4" cy="167.1" r="1.45"/><circle cx="615.3" cy="170.7" r="1.45"/><circle cx="618.4" cy="175.3" r="1.45"/><circle cx="612.8" cy="174.2" r="1.45"/><circle cx="613.3" cy="177.3" r="1.45"/><circle cx="615.8" cy="183.9" r="1.45"/><circle cx="616.9" cy="187.0" r="1.45"/><circle cx="622.0" cy="149.2" r="1.45"/><circle cx="620.2" cy="145.3" r="1.45"/><circle cx="615.8" cy="142.9" r="1.45"/><circle cx="609.4" cy="145.1" r="1.45"/><circle cx="603.3" cy="145.1" r="1.45"/><circle cx="602.0" cy="152.6" r="1.45"/><circle cx="609.0" cy="150.5" r="1.45"/><circle cx="612.8" cy="152.6" r="1.45"/><circle cx="631.7" cy="142.6" r="1.45"/><circle cx="633.7" cy="140.5" r="1.45"/><circle cx="610.0" cy="141.0" r="1.45"/><circle cx="521.7" cy="184.5" r="1.45"/><circle cx="523.2" cy="177.3" r="1.45"/><circle cx="520.1" cy="169.1" r="1.45"/><circle cx="528.2" cy="183.0" r="1.45"/><circle cx="510.3" cy="165.2" r="1.45"/><circle cx="520.7" cy="184.5" r="1.45"/><circle cx="515.7" cy="184.1" r="1.45"/><circle cx="531.3" cy="184.7" r="1.45"/><circle cx="524.1" cy="166.3" r="1.45"/><circle cx="520.0" cy="166.9" r="1.45"/><circle cx="513.0" cy="185.3" r="1.45"/><circle cx="522.6" cy="168.4" r="1.45"/><circle cx="518.2" cy="168.8" r="1.45"/><circle cx="526.1" cy="177.9" r="1.45"/><circle cx="519.9" cy="183.3" r="1.45"/><circle cx="525.2" cy="177.9" r="1.45"/><circle cx="519.0" cy="178.7" r="1.45"/><circle cx="516.7" cy="178.1" r="1.45"/><circle cx="526.1" cy="180.5" r="1.45"/><circle cx="519.6" cy="179.6" r="1.45"/><circle cx="513.2" cy="181.0" r="1.45"/><circle cx="514.2" cy="176.0" r="1.45"/><circle cx="523.8" cy="175.4" r="1.45"/><circle cx="519.9" cy="182.5" r="1.45"/><circle cx="517.4" cy="165.8" r="1.45"/><circle cx="527.6" cy="174.5" r="1.45"/><circle cx="530.5" cy="187.3" r="1.45"/><circle cx="519.2" cy="171.4" r="1.45"/><circle cx="517.4" cy="162.0" r="1.45"/><circle cx="515.4" cy="175.0" r="1.45"/><circle cx="518.5" cy="185.9" r="1.45"/><circle cx="527.8" cy="183.7" r="1.45"/><circle cx="519.1" cy="172.5" r="1.45"/><circle cx="527.1" cy="178.3" r="1.45"/><circle cx="522.6" cy="164.9" r="1.45"/><circle cx="512.7" cy="170.9" r="1.45"/><circle cx="526.5" cy="177.4" r="1.45"/><circle cx="526.2" cy="177.0" r="1.45"/><circle cx="520.2" cy="175.6" r="1.45"/><circle cx="525.4" cy="181.2" r="1.45"/><circle cx="516.1" cy="182.2" r="1.45"/><circle cx="526.9" cy="171.5" r="1.45"/><circle cx="513.4" cy="167.3" r="1.45"/><circle cx="517.5" cy="186.0" r="1.45"/><circle cx="519.9" cy="157.6" r="1.45"/><circle cx="520.2" cy="180.5" r="1.45"/><circle cx="519.8" cy="166.2" r="1.45"/><circle cx="523.3" cy="180.1" r="1.45"/><circle cx="527.7" cy="176.0" r="1.45"/><circle cx="528.6" cy="181.5" r="1.45"/><circle cx="517.5" cy="178.7" r="1.45"/><circle cx="517.0" cy="186.4" r="1.45"/><circle cx="524.5" cy="168.1" r="1.45"/><circle cx="529.1" cy="187.2" r="1.45"/><circle cx="518.9" cy="158.4" r="1.45"/><circle cx="515.4" cy="177.4" r="1.45"/><circle cx="515.8" cy="185.9" r="1.45"/><circle cx="517.9" cy="185.8" r="1.45"/><circle cx="519.0" cy="185.1" r="1.45"/><circle cx="522.7" cy="178.0" r="1.45"/><circle cx="516.3" cy="163.4" r="1.45"/><circle cx="519.0" cy="177.1" r="1.45"/><circle cx="515.1" cy="167.7" r="1.45"/><circle cx="516.9" cy="184.4" r="1.45"/><circle cx="516.3" cy="166.0" r="1.45"/><circle cx="528.1" cy="179.0" r="1.45"/><circle cx="530.0" cy="180.8" r="1.45"/><circle cx="521.4" cy="179.0" r="1.45"/><circle cx="524.9" cy="187.6" r="1.45"/><circle cx="527.4" cy="177.6" r="1.45"/><circle cx="520.9" cy="167.8" r="1.45"/><circle cx="528.1" cy="175.1" r="1.45"/><circle cx="524.7" cy="182.1" r="1.45"/><circle cx="528.2" cy="178.1" r="1.45"/><circle cx="512.1" cy="179.4" r="1.45"/><circle cx="586.6" cy="161.1" r="1.45"/><circle cx="597.5" cy="163.9" r="1.45"/><circle cx="586.1" cy="163.7" r="1.45"/><circle cx="604.2" cy="175.1" r="1.45"/><circle cx="589.2" cy="176.7" r="1.45"/><circle cx="594.6" cy="163.9" r="1.45"/><circle cx="591.3" cy="167.9" r="1.45"/><circle cx="591.1" cy="174.7" r="1.45"/><circle cx="593.0" cy="186.4" r="1.45"/><circle cx="585.8" cy="185.5" r="1.45"/><circle cx="577.2" cy="184.0" r="1.45"/><circle cx="591.5" cy="155.5" r="1.45"/><circle cx="591.1" cy="171.3" r="1.45"/><circle cx="588.1" cy="163.7" r="1.45"/><circle cx="602.1" cy="169.7" r="1.45"/><circle cx="591.7" cy="177.9" r="1.45"/><circle cx="600.2" cy="160.5" r="1.45"/><circle cx="614.7" cy="181.6" r="1.45"/><circle cx="590.8" cy="174.8" r="1.45"/><circle cx="601.7" cy="176.3" r="1.45"/><circle cx="589.6" cy="176.3" r="1.45"/><circle cx="603.1" cy="187.7" r="1.45"/><circle cx="612.2" cy="187.8" r="1.45"/><circle cx="601.0" cy="160.4" r="1.45"/><circle cx="595.8" cy="187.2" r="1.45"/><circle cx="585.8" cy="180.9" r="1.45"/><circle cx="601.0" cy="161.2" r="1.45"/><circle cx="603.5" cy="165.2" r="1.45"/><circle cx="583.1" cy="175.1" r="1.45"/><circle cx="595.7" cy="174.1" r="1.45"/><circle cx="601.4" cy="183.8" r="1.45"/><circle cx="583.9" cy="179.9" r="1.45"/><circle cx="607.3" cy="183.6" r="1.45"/><circle cx="608.4" cy="178.3" r="1.45"/><circle cx="597.5" cy="186.2" r="1.45"/><circle cx="611.5" cy="173.7" r="1.45"/><circle cx="588.3" cy="176.4" r="1.45"/><circle cx="576.5" cy="184.0" r="1.45"/><circle cx="579.7" cy="175.4" r="1.45"/><circle cx="582.4" cy="187.1" r="1.45"/><circle cx="588.0" cy="171.4" r="1.45"/><circle cx="614.5" cy="182.1" r="1.45"/><circle cx="581.5" cy="175.5" r="1.45"/><circle cx="596.0" cy="161.0" r="1.45"/><circle cx="611.0" cy="159.8" r="1.45"/><circle cx="585.7" cy="165.4" r="1.45"/><circle cx="582.8" cy="168.8" r="1.45"/><circle cx="589.5" cy="161.5" r="1.45"/><circle cx="585.9" cy="185.7" r="1.45"/><circle cx="588.0" cy="172.3" r="1.45"/><circle cx="600.2" cy="164.2" r="1.45"/><circle cx="597.9" cy="171.9" r="1.45"/><circle cx="612.4" cy="167.3" r="1.45"/><circle cx="597.1" cy="184.6" r="1.45"/><circle cx="620.5" cy="185.8" r="1.45"/><circle cx="604.7" cy="153.1" r="1.45"/><circle cx="594.3" cy="154.1" r="1.45"/><circle cx="591.9" cy="181.8" r="1.45"/><circle cx="604.8" cy="162.9" r="1.45"/><circle cx="597.6" cy="179.9" r="1.45"/><circle cx="600.9" cy="169.3" r="1.45"/><circle cx="597.0" cy="186.1" r="1.45"/><circle cx="599.2" cy="166.5" r="1.45"/><circle cx="595.8" cy="184.0" r="1.45"/><circle cx="586.5" cy="178.8" r="1.45"/><circle cx="581.7" cy="181.8" r="1.45"/><circle cx="592.6" cy="170.7" r="1.45"/><circle cx="584.5" cy="187.2" r="1.45"/><circle cx="596.2" cy="174.3" r="1.45"/><circle cx="579.8" cy="182.4" r="1.45"/><circle cx="588.9" cy="167.2" r="1.45"/><circle cx="601.0" cy="186.5" r="1.45"/><circle cx="582.0" cy="170.4" r="1.45"/><circle cx="585.0" cy="175.2" r="1.45"/><circle cx="580.8" cy="178.6" r="1.45"/><circle cx="604.9" cy="174.5" r="1.45"/><circle cx="599.2" cy="154.0" r="1.45"/><circle cx="600.6" cy="177.6" r="1.45"/><circle cx="582.3" cy="178.5" r="1.45"/><circle cx="594.3" cy="162.2" r="1.45"/><circle cx="591.6" cy="182.1" r="1.45"/><circle cx="598.8" cy="184.0" r="1.45"/><circle cx="591.9" cy="173.6" r="1.45"/><circle cx="588.4" cy="173.0" r="1.45"/><circle cx="608.6" cy="169.9" r="1.45"/><circle cx="587.7" cy="187.6" r="1.45"/><circle cx="622.2" cy="182.8" r="1.45"/><circle cx="608.9" cy="172.5" r="1.45"/><circle cx="602.4" cy="186.2" r="1.45"/><circle cx="594.4" cy="149.5" r="1.45"/><circle cx="600.2" cy="173.8" r="1.45"/><circle cx="598.2" cy="151.5" r="1.45"/><circle cx="616.6" cy="187.6" r="1.45"/><circle cx="590.7" cy="173.6" r="1.45"/><circle cx="597.8" cy="181.6" r="1.45"/><circle cx="596.3" cy="175.8" r="1.45"/><circle cx="604.8" cy="164.3" r="1.45"/><circle cx="600.8" cy="166.9" r="1.45"/><circle cx="590.5" cy="185.8" r="1.45"/><circle cx="594.2" cy="179.2" r="1.45"/><circle cx="615.0" cy="186.7" r="1.45"/><circle cx="598.8" cy="170.0" r="1.45"/><circle cx="610.5" cy="186.7" r="1.45"/><circle cx="584.0" cy="186.0" r="1.45"/><circle cx="615.0" cy="167.4" r="1.45"/><circle cx="606.0" cy="157.7" r="1.45"/><circle cx="600.3" cy="180.6" r="1.45"/><circle cx="606.0" cy="181.7" r="1.45"/><circle cx="604.1" cy="174.4" r="1.45"/><circle cx="611.2" cy="176.2" r="1.45"/><circle cx="588.7" cy="169.8" r="1.45"/><circle cx="586.4" cy="177.2" r="1.45"/><circle cx="601.8" cy="164.7" r="1.45"/><circle cx="593.0" cy="177.1" r="1.45"/><circle cx="601.7" cy="176.3" r="1.45"/><circle cx="605.6" cy="161.6" r="1.45"/><circle cx="591.0" cy="173.3" r="1.45"/><circle cx="601.8" cy="180.5" r="1.45"/><circle cx="581.0" cy="174.8" r="1.45"/><circle cx="622.5" cy="187.2" r="1.45"/><circle cx="596.2" cy="181.9" r="1.45"/><circle cx="609.2" cy="176.3" r="1.45"/><circle cx="586.0" cy="165.0" r="1.45"/><circle cx="598.1" cy="183.5" r="1.45"/><circle cx="614.2" cy="182.8" r="1.45"/><circle cx="584.8" cy="166.5" r="1.45"/><circle cx="592.0" cy="181.3" r="1.45"/><circle cx="594.2" cy="180.0" r="1.45"/><circle cx="591.7" cy="177.1" r="1.45"/><circle cx="588.0" cy="177.8" r="1.45"/><circle cx="584.9" cy="168.8" r="1.45"/><circle cx="610.4" cy="166.9" r="1.45"/><circle cx="593.1" cy="178.7" r="1.45"/><circle cx="587.9" cy="171.4" r="1.45"/><circle cx="603.4" cy="176.8" r="1.45"/><circle cx="604.7" cy="160.2" r="1.45"/><circle cx="596.9" cy="161.3" r="1.45"/><circle cx="584.1" cy="170.0" r="1.45"/><circle cx="613.0" cy="165.6" r="1.45"/><circle cx="584.0" cy="185.9" r="1.45"/><circle cx="587.6" cy="176.1" r="1.45"/><circle cx="597.5" cy="162.8" r="1.45"/><circle cx="588.9" cy="164.0" r="1.45"/><circle cx="595.3" cy="171.9" r="1.45"/><circle cx="586.7" cy="159.8" r="1.45"/><circle cx="603.4" cy="181.2" r="1.45"/><circle cx="606.7" cy="171.6" r="1.45"/><circle cx="594.2" cy="176.9" r="1.45"/><circle cx="584.9" cy="182.6" r="1.45"/><circle cx="611.6" cy="170.7" r="1.45"/><circle cx="586.9" cy="177.9" r="1.45"/><circle cx="593.0" cy="185.7" r="1.45"/><circle cx="603.5" cy="186.3" r="1.45"/><circle cx="609.9" cy="175.5" r="1.45"/><circle cx="614.0" cy="166.3" r="1.45"/><circle cx="582.6" cy="182.7" r="1.45"/><circle cx="607.2" cy="186.8" r="1.45"/><circle cx="582.8" cy="176.8" r="1.45"/><circle cx="598.8" cy="182.7" r="1.45"/><circle cx="610.5" cy="177.4" r="1.45"/><circle cx="584.5" cy="170.9" r="1.45"/><circle cx="595.2" cy="179.1" r="1.45"/><circle cx="601.1" cy="156.8" r="1.45"/><circle cx="600.1" cy="181.9" r="1.45"/><circle cx="590.8" cy="176.3" r="1.45"/><circle cx="597.2" cy="169.7" r="1.45"/><circle cx="585.9" cy="162.4" r="1.45"/><circle cx="596.5" cy="166.7" r="1.45"/><circle cx="588.9" cy="176.9" r="1.45"/><circle cx="602.9" cy="174.7" r="1.45"/><circle cx="595.5" cy="182.4" r="1.45"/><circle cx="584.2" cy="176.7" r="1.45"/><circle cx="580.2" cy="183.3" r="1.45"/><circle cx="587.1" cy="173.7" r="1.45"/><circle cx="584.8" cy="178.6" r="1.45"/><circle cx="619.6" cy="178.8" r="1.45"/><circle cx="592.5" cy="181.2" r="1.45"/><circle cx="609.4" cy="171.9" r="1.45"/><circle cx="598.3" cy="187.4" r="1.45"/><circle cx="589.4" cy="157.5" r="1.45"/><circle cx="607.4" cy="176.8" r="1.45"/><circle cx="585.0" cy="179.1" r="1.45"/><circle cx="590.2" cy="168.6" r="1.45"/><circle cx="601.8" cy="183.7" r="1.45"/><circle cx="607.8" cy="177.0" r="1.45"/><circle cx="613.7" cy="164.7" r="1.45"/><circle cx="600.8" cy="172.4" r="1.45"/><circle cx="594.2" cy="162.0" r="1.45"/><circle cx="597.1" cy="179.3" r="1.45"/><circle cx="608.1" cy="181.6" r="1.45"/><circle cx="597.1" cy="157.4" r="1.45"/><circle cx="603.2" cy="158.3" r="1.45"/><circle cx="592.7" cy="167.2" r="1.45"/><circle cx="608.6" cy="168.5" r="1.45"/><circle cx="593.7" cy="178.4" r="1.45"/><circle cx="586.6" cy="173.0" r="1.45"/><circle cx="606.4" cy="167.8" r="1.45"/><circle cx="608.5" cy="184.8" r="1.45"/><circle cx="600.1" cy="170.6" r="1.45"/><circle cx="592.6" cy="171.1" r="1.45"/><circle cx="593.8" cy="185.5" r="1.45"/><circle cx="594.9" cy="166.6" r="1.45"/><circle cx="594.8" cy="183.2" r="1.45"/><circle cx="609.6" cy="182.8" r="1.45"/><circle cx="613.1" cy="168.8" r="1.45"/><circle cx="602.1" cy="156.6" r="1.45"/><circle cx="595.4" cy="180.6" r="1.45"/><circle cx="600.8" cy="185.4" r="1.45"/><circle cx="582.6" cy="184.7" r="1.45"/><circle cx="597.4" cy="180.4" r="1.45"/></g>
<circle cx="500.5" cy="25.5" r="2.45" fill="#F5820F"/>
<circle cx="491.4" cy="68.1" r="2.45" fill="#F5820F"/>
<circle cx="517.4" cy="78.9" r="2.45" fill="#F5820F"/>
<circle cx="520" cy="108.1" r="2.45" fill="#F5820F"/>
<circle cx="608.4" cy="73.2" r="2.45" fill="#F5820F"/>
<circle cx="650.5" cy="81.7" r="2.45" fill="#F5820F"/>
<circle cx="611.6" cy="99" r="2.45" fill="#F5820F"/>
<circle cx="603.1" cy="112.2" r="2.45" fill="#F5820F"/>
<line x1="488.6" y1="61" x2="491" y2="66" stroke="#222" stroke-width="0.7"/>
<line x1="603.9" y1="115.2" x2="607" y2="120.2" stroke="#222" stroke-width="0.7"/>
<text x="470.5" y="28.1" font-size="6.75" font-weight="bold" text-anchor="start" fill="#0a0a0a">ZNF346</text>
<text x="458.1" y="62.8" font-size="6.75" font-weight="bold" text-anchor="start" fill="#0a0a0a">TBC1D31</text>
<text x="475" y="90.1" font-size="6.75" font-weight="bold" text-anchor="start" fill="#0a0a0a">LOC100294145</text>
<text x="491.9" y="111" font-size="6.75" font-weight="bold" text-anchor="start" fill="#0a0a0a">CAPN5</text>
<text x="614.4" y="76.1" font-size="6.75" font-weight="bold" text-anchor="start" fill="#0a0a0a">ZNF24</text>
<text x="643.8" y="92.9" font-size="6.75" font-weight="bold" text-anchor="start" fill="#0a0a0a">SNORD3D</text>
<text x="617.7" y="109" font-size="6.75" font-weight="bold" text-anchor="start" fill="#0a0a0a">ERCC6L2</text>
<text x="608" y="123.4" font-size="6.75" font-weight="bold" text-anchor="start" fill="#0a0a0a">MIR4263</text>
<line x1="459.2" y1="270.3" x2="459.2" y2="14.5" stroke="#5089C2" stroke-width="1" stroke-dasharray="4.9 4.4" stroke-dashoffset="0.7"/>
<line x1="646.2" y1="270.3" x2="646.2" y2="14.5" stroke="#5089C2" stroke-width="1" stroke-dasharray="4.9 4.4" stroke-dashoffset="0.7"/>
<line x1="424.6" y1="187.42" x2="681.1" y2="187.42" stroke="#5089C2" stroke-width="1" stroke-dasharray="4.9 4.4" stroke-dashoffset="0.6"/>
<rect x="424.6" y="14.5" width="256.5" height="255.8" fill="none" stroke="#262626" stroke-width="1.1"/>
<line x1="459.2" y1="270.3" x2="459.2" y2="272.5" stroke="#333" stroke-width="0.9"/>
<text x="459.2" y="280.3" font-size="8.3" font-weight="bold" text-anchor="middle" fill="#1a1a1a">−1.0</text>
<line x1="505.95" y1="270.3" x2="505.95" y2="272.5" stroke="#333" stroke-width="0.9"/>
<text x="505.95" y="280.3" font-size="8.3" font-weight="bold" text-anchor="middle" fill="#1a1a1a">−0.5</text>
<line x1="552.7" y1="270.3" x2="552.7" y2="272.5" stroke="#333" stroke-width="0.9"/>
<text x="552.7" y="280.3" font-size="8.3" font-weight="bold" text-anchor="middle" fill="#1a1a1a">0.0</text>
<line x1="599.45" y1="270.3" x2="599.45" y2="272.5" stroke="#333" stroke-width="0.9"/>
<text x="599.45" y="280.3" font-size="8.3" font-weight="bold" text-anchor="middle" fill="#1a1a1a">0.5</text>
<line x1="646.2" y1="270.3" x2="646.2" y2="272.5" stroke="#333" stroke-width="0.9"/>
<text x="646.2" y="280.3" font-size="8.3" font-weight="bold" text-anchor="middle" fill="#1a1a1a">1.0</text>
<line x1="422.4" y1="259.3" x2="424.6" y2="259.3" stroke="#333" stroke-width="0.9"/>
<text x="421.3" y="262.1" font-size="8.3" font-weight="bold" text-anchor="end" fill="#1a1a1a">0</text>
<line x1="422.4" y1="204.05" x2="424.6" y2="204.05" stroke="#333" stroke-width="0.9"/>
<text x="421.3" y="206.85" font-size="8.3" font-weight="bold" text-anchor="end" fill="#1a1a1a">1</text>
<line x1="422.4" y1="148.8" x2="424.6" y2="148.8" stroke="#333" stroke-width="0.9"/>
<text x="421.3" y="151.6" font-size="8.3" font-weight="bold" text-anchor="end" fill="#1a1a1a">2</text>
<line x1="422.4" y1="93.55" x2="424.6" y2="93.55" stroke="#333" stroke-width="0.9"/>
<text x="421.3" y="96.35" font-size="8.3" font-weight="bold" text-anchor="end" fill="#1a1a1a">3</text>
<line x1="422.4" y1="38.3" x2="424.6" y2="38.3" stroke="#333" stroke-width="0.9"/>
<text x="421.3" y="41.1" font-size="8.3" font-weight="bold" text-anchor="end" fill="#1a1a1a">4</text>
<text x="552.8" y="291" font-size="9.5" font-weight="bold" text-anchor="middle" fill="#000">Log Fold Change</text>
<text x="413.5" y="142.6" font-size="9.5" font-weight="bold" text-anchor="middle" fill="#000" transform="rotate(-90 413.5 142.6)">−log10(P−value)</text>
<text x="15.4" y="307.5" font-size="16.6" font-weight="bold" text-anchor="start" fill="#000">C</text>
<g stroke="#333" stroke-width="0.9" fill="none">
<path d="M36.14 357.2V349.2H42.44V357.2"/>
<path d="M29.85 357.2V347.3H39.29V349.2"/>
<path d="M23.55 357.2V345.3H34.57V347.3"/>
<path d="M55.03 357.2V351.4H61.33V357.2"/>
<path d="M58.18 351.4V350H67.63V357.2"/>
<path d="M48.74 357.2V349.3H62.9V350"/>
<path d="M29.06 345.3V343.5H55.82V349.3"/>
<path d="M80.22 357.2V350.6H86.52V357.2"/>
<path d="M73.92 357.2V346.3H83.37V350.6"/>
<path d="M92.82 357.2V351.4H99.11V357.2"/>
<path d="M105.41 357.2V352.4H111.71V357.2"/>
<path d="M108.56 352.4V350.4H118V357.2"/>
<path d="M95.96 351.4V349H113.28V350.4"/>
<path d="M124.3 357.2V351.6H130.6V357.2"/>
<path d="M136.89 357.2V352.4H143.19V357.2"/>
<path d="M140.04 352.4V351H149.49V357.2"/>
<path d="M127.45 351.6V349.3H144.77V351"/>
<path d="M104.62 349V346.3H136.11V349.3"/>
<path d="M78.65 346.3V343.2H120.36V346.3"/>
<path d="M42.44 343.5V341.4H99.51V343.2"/>
<path d="M162.08 357.2V350.1H168.38V357.2"/>
<path d="M155.79 357.2V345.3H165.23V350.1"/>
<path d="M174.68 357.2V348.4H180.97V357.2"/>
<path d="M160.51 345.3V344.4H177.82V348.4"/>
<path d="M187.27 357.2V350.3H193.57V357.2"/>
<path d="M199.86 357.2V351.5H206.16V357.2"/>
<path d="M212.46 357.2V353.4H218.76V357.2"/>
<path d="M215.61 353.4V351H225.05V357.2"/>
<path d="M203.01 351.5V349.3H220.33V351"/>
<path d="M190.42 350.3V348.2H211.67V349.3"/>
<path d="M231.35 357.2V350.6H237.65V357.2"/>
<path d="M243.94 357.2V349.6H250.24V357.2"/>
<path d="M234.5 350.6V346.3H247.09V349.6"/>
<path d="M201.05 348.2V344.4H240.79V346.3"/>
<path d="M169.17 344.4V341.1H220.92V344.4"/>
<path d="M70.97 341.4V336.9H195.04V341.1"/>
</g>
<g stroke="#333" stroke-width="0.9" fill="none">
<path d="M20.5 370.78H13.3V378.54H20.5"/>
<path d="M13.3 374.66H12.4V386.29H20.5"/>
<path d="M20.5 401.81H16.8V409.57H20.5"/>
<path d="M20.5 394.05H14.2V405.69H16.8"/>
<path d="M20.5 417.33H12.4V425.08H20.5"/>
<path d="M14.2 399.87H11.9V421.21H12.4"/>
<path d="M12.4 380.48H8.4V410.54H11.9"/>
<path d="M20.5 432.84H12.4V440.6H20.5"/>
<path d="M20.5 448.36H14.2V456.12H20.5"/>
<path d="M20.5 463.88H14.2V471.63H20.5"/>
<path d="M14.2 452.24H12.4V467.75H14.2"/>
<path d="M12.4 436.72H9.3V460H12.4"/>
<path d="M20.5 479.39H13.3V487.15H20.5"/>
<path d="M20.5 494.91H14.2V502.66H20.5"/>
<path d="M20.5 510.42H16.2V518.18H20.5"/>
<path d="M20.5 525.94H15.2V533.7H20.5"/>
<path d="M16.2 514.3H13.8V529.82H15.2"/>
<path d="M14.2 498.79H11.5V522.06H13.8"/>
<path d="M13.3 483.27H10.2V510.42H11.5"/>
<path d="M20.5 541.45H13.3V549.21H20.5"/>
<path d="M13.3 545.33H11.4V556.97H20.5"/>
<path d="M10.2 496.85H8.5V551.15H11.4"/>
<path d="M9.3 448.36H7.1V524H8.5"/>
<path d="M8.4 395.51H0.7V486.18H7.1"/>
</g>
<rect x="20.4" y="357.5" width="6.3" height="7.5" fill="#FC4E07"/>
<rect x="26.7" y="357.5" width="12.59" height="7.5" fill="#00AFBB"/>
<rect x="39.29" y="357.5" width="113.35" height="7.5" fill="#FC4E07"/>
<rect x="152.64" y="357.5" width="100.75" height="7.5" fill="#00AFBB"/>
<rect x="20.4" y="365.2" width="233.0" height="1.7" fill="#ebebeb"/>
<g stroke="#a6a6a6" stroke-width="0.4">
<rect x="20.4" y="366.9" width="6.3" height="7.76" fill="#ffffff"/>
<rect x="26.7" y="366.9" width="6.3" height="7.76" fill="#ffe5e0"/>
<rect x="32.99" y="366.9" width="6.3" height="7.76" fill="#8ea4d0"/>
<rect x="39.29" y="366.9" width="6.3" height="7.76" fill="#839ccc"/>
<rect x="45.59" y="366.9" width="6.3" height="7.76" fill="#f38774"/>
<rect x="51.88" y="366.9" width="6.3" height="7.76" fill="#ffffff"/>
<rect x="58.18" y="366.9" width="6.3" height="7.76" fill="#a4b5d9"/>
<rect x="64.48" y="366.9" width="6.3" height="7.76" fill="#e0e5f2"/>
<rect x="70.78" y="366.9" width="6.3" height="7.76" fill="#ffdad2"/>
<rect x="77.07" y="366.9" width="6.3" height="7.76" fill="#ffc4b8"/>
<rect x="83.37" y="366.9" width="6.3" height="7.76" fill="#b0bede"/>
<rect x="89.67" y="366.9" width="6.3" height="7.76" fill="#eef0f8"/>
<rect x="95.96" y="366.9" width="6.3" height="7.76" fill="#99add4"/>
<rect x="102.26" y="366.9" width="6.3" height="7.76" fill="#bbc7e2"/>
<rect x="108.56" y="366.9" width="6.3" height="7.76" fill="#b0bede"/>
<rect x="114.85" y="366.9" width="6.3" height="7.76" fill="#99add4"/>
<rect x="121.15" y="366.9" width="6.3" height="7.76" fill="#b0bede"/>
<rect x="127.45" y="366.9" width="6.3" height="7.76" fill="#7895c7"/>
<rect x="133.75" y="366.9" width="6.3" height="7.76" fill="#6d8dc3"/>
<rect x="140.04" y="366.9" width="6.3" height="7.76" fill="#6d8dc3"/>
<rect x="146.34" y="366.9" width="6.3" height="7.76" fill="#6285bf"/>
<rect x="152.64" y="366.9" width="6.3" height="7.76" fill="#ffffff"/>
<rect x="158.93" y="366.9" width="6.3" height="7.76" fill="#ffe5e0"/>
<rect x="165.23" y="366.9" width="6.3" height="7.76" fill="#f89b8a"/>
<rect x="171.53" y="366.9" width="6.3" height="7.76" fill="#faa595"/>
<rect x="177.82" y="366.9" width="6.3" height="7.76" fill="#f5917f"/>
<rect x="184.12" y="366.9" width="6.3" height="7.76" fill="#f5917f"/>
<rect x="190.42" y="366.9" width="6.3" height="7.76" fill="#f07d69"/>
<rect x="196.72" y="366.9" width="6.3" height="7.76" fill="#fff1ee"/>
<rect x="203.01" y="366.9" width="6.3" height="7.76" fill="#ec735f"/>
<rect x="209.31" y="366.9" width="6.3" height="7.76" fill="#e65e4b"/>
<rect x="215.61" y="366.9" width="6.3" height="7.76" fill="#e96955"/>
<rect x="221.9" y="366.9" width="6.3" height="7.76" fill="#ffffff"/>
<rect x="228.2" y="366.9" width="6.3" height="7.76" fill="#faa595"/>
<rect x="234.5" y="366.9" width="6.3" height="7.76" fill="#fcb0a0"/>
<rect x="240.79" y="366.9" width="6.3" height="7.76" fill="#ffcfc5"/>
<rect x="247.09" y="366.9" width="6.3" height="7.76" fill="#2166ac"/>
<rect x="20.4" y="374.66" width="6.3" height="7.76" fill="#ec735f"/>
<rect x="26.7" y="374.66" width="6.3" height="7.76" fill="#fff8f6"/>
<rect x="32.99" y="374.66" width="6.3" height="7.76" fill="#8ea4d0"/>
<rect x="39.29" y="374.66" width="6.3" height="7.76" fill="#2166ac"/>
<rect x="45.59" y="374.66" width="6.3" height="7.76" fill="#ffffff"/>
<rect x="51.88" y="374.66" width="6.3" height="7.76" fill="#ffe5e0"/>
<rect x="58.18" y="374.66" width="6.3" height="7.76" fill="#fdbaac"/>
<rect x="64.48" y="374.66" width="6.3" height="7.76" fill="#ffdad2"/>
<rect x="70.78" y="374.66" width="6.3" height="7.76" fill="#2166ac"/>
<rect x="77.07" y="374.66" width="6.3" height="7.76" fill="#b0bede"/>
<rect x="83.37" y="374.66" width="6.3" height="7.76" fill="#ffc4b8"/>
<rect x="89.67" y="374.66" width="6.3" height="7.76" fill="#bbc7e2"/>
<rect x="95.96" y="374.66" width="6.3" height="7.76" fill="#6285bf"/>
<rect x="102.26" y="374.66" width="6.3" height="7.76" fill="#e7ebf5"/>
<rect x="108.56" y="374.66" width="6.3" height="7.76" fill="#ffc4b8"/>
<rect x="114.85" y="374.66" width="6.3" height="7.76" fill="#f5f7fb"/>
<rect x="121.15" y="374.66" width="6.3" height="7.76" fill="#99add4"/>
<rect x="127.45" y="374.66" width="6.3" height="7.76" fill="#7895c7"/>
<rect x="133.75" y="374.66" width="6.3" height="7.76" fill="#eef0f8"/>
<rect x="140.04" y="374.66" width="6.3" height="7.76" fill="#bbc7e2"/>
<rect x="146.34" y="374.66" width="6.3" height="7.76" fill="#7895c7"/>
<rect x="152.64" y="374.66" width="6.3" height="7.76" fill="#e65e4b"/>
<rect x="158.93" y="374.66" width="6.3" height="7.76" fill="#e65e4b"/>
<rect x="165.23" y="374.66" width="6.3" height="7.76" fill="#ffffff"/>
<rect x="171.53" y="374.66" width="6.3" height="7.76" fill="#f38774"/>
<rect x="177.82" y="374.66" width="6.3" height="7.76" fill="#ffdad2"/>
<rect x="184.12" y="374.66" width="6.3" height="7.76" fill="#e25341"/>
<rect x="190.42" y="374.66" width="6.3" height="7.76" fill="#fcb0a0"/>
<rect x="196.72" y="374.66" width="6.3" height="7.76" fill="#ffdad2"/>
<rect x="203.01" y="374.66" width="6.3" height="7.76" fill="#f89b8a"/>
<rect x="209.31" y="374.66" width="6.3" height="7.76" fill="#f5917f"/>
<rect x="215.61" y="374.66" width="6.3" height="7.76" fill="#e7ebf5"/>
<rect x="221.9" y="374.66" width="6.3" height="7.76" fill="#ffc4b8"/>
<rect x="228.2" y="374.66" width="6.3" height="7.76" fill="#fdbaac"/>
<rect x="234.5" y="374.66" width="6.3" height="7.76" fill="#99add4"/>
<rect x="240.79" y="374.66" width="6.3" height="7.76" fill="#b0bede"/>
<rect x="247.09" y="374.66" width="6.3" height="7.76" fill="#eef0f8"/>
<rect x="20.4" y="382.42" width="6.3" height="7.76" fill="#ffe0d9"/>
<rect x="26.7" y="382.42" width="6.3" height="7.76" fill="#fff8f6"/>
<rect x="32.99" y="382.42" width="6.3" height="7.76" fill="#fff1ee"/>
<rect x="39.29" y="382.42" width="6.3" height="7.76" fill="#8ea4d0"/>
<rect x="45.59" y="382.42" width="6.3" height="7.76" fill="#fdbaac"/>
<rect x="51.88" y="382.42" width="6.3" height="7.76" fill="#839ccc"/>
<rect x="58.18" y="382.42" width="6.3" height="7.76" fill="#99add4"/>
<rect x="64.48" y="382.42" width="6.3" height="7.76" fill="#c7d1e7"/>
<rect x="70.78" y="382.42" width="6.3" height="7.76" fill="#a4b5d9"/>
<rect x="77.07" y="382.42" width="6.3" height="7.76" fill="#839ccc"/>
<rect x="83.37" y="382.42" width="6.3" height="7.76" fill="#6d8dc3"/>
<rect x="89.67" y="382.42" width="6.3" height="7.76" fill="#f5f7fb"/>
<rect x="95.96" y="382.42" width="6.3" height="7.76" fill="#f5917f"/>
<rect x="102.26" y="382.42" width="6.3" height="7.76" fill="#ffffff"/>
<rect x="108.56" y="382.42" width="6.3" height="7.76" fill="#b0bede"/>
<rect x="114.85" y="382.42" width="6.3" height="7.76" fill="#99add4"/>
<rect x="121.15" y="382.42" width="6.3" height="7.76" fill="#8ea4d0"/>
<rect x="127.45" y="382.42" width="6.3" height="7.76" fill="#e7ebf5"/>
<rect x="133.75" y="382.42" width="6.3" height="7.76" fill="#bbc7e2"/>
<rect x="140.04" y="382.42" width="6.3" height="7.76" fill="#ffe5e0"/>
<rect x="146.34" y="382.42" width="6.3" height="7.76" fill="#8ea4d0"/>
<rect x="152.64" y="382.42" width="6.3" height="7.76" fill="#ffc4b8"/>
<rect x="158.93" y="382.42" width="6.3" height="7.76" fill="#f5917f"/>
<rect x="165.23" y="382.42" width="6.3" height="7.76" fill="#d73027"/>
<rect x="171.53" y="382.42" width="6.3" height="7.76" fill="#d73027"/>
<rect x="177.82" y="382.42" width="6.3" height="7.76" fill="#f07d69"/>
<rect x="184.12" y="382.42" width="6.3" height="7.76" fill="#da3b2e"/>
<rect x="190.42" y="382.42" width="6.3" height="7.76" fill="#c7d1e7"/>
<rect x="196.72" y="382.42" width="6.3" height="7.76" fill="#b0bede"/>
<rect x="203.01" y="382.42" width="6.3" height="7.76" fill="#c1cce5"/>
<rect x="209.31" y="382.42" width="6.3" height="7.76" fill="#fcb0a0"/>
<rect x="215.61" y="382.42" width="6.3" height="7.76" fill="#eef0f8"/>
<rect x="221.9" y="382.42" width="6.3" height="7.76" fill="#eef0f8"/>
<rect x="228.2" y="382.42" width="6.3" height="7.76" fill="#e0e5f2"/>
<rect x="234.5" y="382.42" width="6.3" height="7.76" fill="#fff8f6"/>
<rect x="240.79" y="382.42" width="6.3" height="7.76" fill="#ffcfc5"/>
<rect x="247.09" y="382.42" width="6.3" height="7.76" fill="#99add4"/>
<rect x="20.4" y="390.17" width="6.3" height="7.76" fill="#f07d69"/>
<rect x="26.7" y="390.17" width="6.3" height="7.76" fill="#fdbaac"/>
<rect x="32.99" y="390.17" width="6.3" height="7.76" fill="#ffffff"/>
<rect x="39.29" y="390.17" width="6.3" height="7.76" fill="#2166ac"/>
<rect x="45.59" y="390.17" width="6.3" height="7.76" fill="#a4b5d9"/>
<rect x="51.88" y="390.17" width="6.3" height="7.76" fill="#d3daed"/>
<rect x="58.18" y="390.17" width="6.3" height="7.76" fill="#f89b8a"/>
<rect x="64.48" y="390.17" width="6.3" height="7.76" fill="#f89b8a"/>
<rect x="70.78" y="390.17" width="6.3" height="7.76" fill="#ffcfc5"/>
<rect x="77.07" y="390.17" width="6.3" height="7.76" fill="#8ea4d0"/>
<rect x="83.37" y="390.17" width="6.3" height="7.76" fill="#7895c7"/>
<rect x="89.67" y="390.17" width="6.3" height="7.76" fill="#d3daed"/>
<rect x="95.96" y="390.17" width="6.3" height="7.76" fill="#b0bede"/>
<rect x="102.26" y="390.17" width="6.3" height="7.76" fill="#7895c7"/>
<rect x="108.56" y="390.17" width="6.3" height="7.76" fill="#839ccc"/>
<rect x="114.85" y="390.17" width="6.3" height="7.76" fill="#ffffff"/>
<rect x="121.15" y="390.17" width="6.3" height="7.76" fill="#839ccc"/>
<rect x="127.45" y="390.17" width="6.3" height="7.76" fill="#99add4"/>
<rect x="133.75" y="390.17" width="6.3" height="7.76" fill="#8ea4d0"/>
<rect x="140.04" y="390.17" width="6.3" height="7.76" fill="#d3daed"/>
<rect x="146.34" y="390.17" width="6.3" height="7.76" fill="#bbc7e2"/>
<rect x="152.64" y="390.17" width="6.3" height="7.76" fill="#d73027"/>
<rect x="158.93" y="390.17" width="6.3" height="7.76" fill="#d3daed"/>
<rect x="165.23" y="390.17" width="6.3" height="7.76" fill="#ffcfc5"/>
<rect x="171.53" y="390.17" width="6.3" height="7.76" fill="#f5f7fb"/>
<rect x="177.82" y="390.17" width="6.3" height="7.76" fill="#cdd5ea"/>
<rect x="184.12" y="390.17" width="6.3" height="7.76" fill="#d73027"/>
<rect x="190.42" y="390.17" width="6.3" height="7.76" fill="#ffe5e0"/>
<rect x="196.72" y="390.17" width="6.3" height="7.76" fill="#f38774"/>
<rect x="203.01" y="390.17" width="6.3" height="7.76" fill="#fdbaac"/>
<rect x="209.31" y="390.17" width="6.3" height="7.76" fill="#f38774"/>
<rect x="215.61" y="390.17" width="6.3" height="7.76" fill="#f89b8a"/>
<rect x="221.9" y="390.17" width="6.3" height="7.76" fill="#eef0f8"/>
<rect x="228.2" y="390.17" width="6.3" height="7.76" fill="#ffffff"/>
<rect x="234.5" y="390.17" width="6.3" height="7.76" fill="#fdbaac"/>
<rect x="240.79" y="390.17" width="6.3" height="7.76" fill="#8ea4d0"/>
<rect x="247.09" y="390.17" width="6.3" height="7.76" fill="#f07d69"/>
<rect x="20.4" y="397.93" width="6.3" height="7.76" fill="#fcb0a0"/>
<rect x="26.7" y="397.93" width="6.3" height="7.76" fill="#fdbaac"/>
<rect x="32.99" y="397.93" width="6.3" height="7.76" fill="#cdd5ea"/>
<rect x="39.29" y="397.93" width="6.3" height="7.76" fill="#cdd5ea"/>
<rect x="45.59" y="397.93" width="6.3" height="7.76" fill="#b0bede"/>
<rect x="51.88" y="397.93" width="6.3" height="7.76" fill="#e7ebf5"/>
<rect x="58.18" y="397.93" width="6.3" height="7.76" fill="#d9e0ef"/>
<rect x="64.48" y="397.93" width="6.3" height="7.76" fill="#e7ebf5"/>
<rect x="70.78" y="397.93" width="6.3" height="7.76" fill="#ffc4b8"/>
<rect x="77.07" y="397.93" width="6.3" height="7.76" fill="#fff1ee"/>
<rect x="83.37" y="397.93" width="6.3" height="7.76" fill="#bbc7e2"/>
<rect x="89.67" y="397.93" width="6.3" height="7.76" fill="#567eba"/>
<rect x="95.96" y="397.93" width="6.3" height="7.76" fill="#2166ac"/>
<rect x="102.26" y="397.93" width="6.3" height="7.76" fill="#ffebe7"/>
<rect x="108.56" y="397.93" width="6.3" height="7.76" fill="#b0bede"/>
<rect x="114.85" y="397.93" width="6.3" height="7.76" fill="#e0e5f2"/>
<rect x="121.15" y="397.93" width="6.3" height="7.76" fill="#c7d1e7"/>
<rect x="127.45" y="397.93" width="6.3" height="7.76" fill="#8ea4d0"/>
<rect x="133.75" y="397.93" width="6.3" height="7.76" fill="#c7d1e7"/>
<rect x="140.04" y="397.93" width="6.3" height="7.76" fill="#f5f7fb"/>
<rect x="146.34" y="397.93" width="6.3" height="7.76" fill="#b0bede"/>
<rect x="152.64" y="397.93" width="6.3" height="7.76" fill="#ffcfc5"/>
<rect x="158.93" y="397.93" width="6.3" height="7.76" fill="#ffcabf"/>
<rect x="165.23" y="397.93" width="6.3" height="7.76" fill="#e0e5f2"/>
<rect x="171.53" y="397.93" width="6.3" height="7.76" fill="#a4b5d9"/>
<rect x="177.82" y="397.93" width="6.3" height="7.76" fill="#fff8f6"/>
<rect x="184.12" y="397.93" width="6.3" height="7.76" fill="#f07d69"/>
<rect x="190.42" y="397.93" width="6.3" height="7.76" fill="#ffd4cb"/>
<rect x="196.72" y="397.93" width="6.3" height="7.76" fill="#ffdad2"/>
<rect x="203.01" y="397.93" width="6.3" height="7.76" fill="#ffe0d9"/>
<rect x="209.31" y="397.93" width="6.3" height="7.76" fill="#d73027"/>
<rect x="215.61" y="397.93" width="6.3" height="7.76" fill="#de4738"/>
<rect x="221.9" y="397.93" width="6.3" height="7.76" fill="#ffdad2"/>
<rect x="228.2" y="397.93" width="6.3" height="7.76" fill="#d3daed"/>
<rect x="234.5" y="397.93" width="6.3" height="7.76" fill="#d3daed"/>
<rect x="240.79" y="397.93" width="6.3" height="7.76" fill="#ffd4cb"/>
<rect x="247.09" y="397.93" width="6.3" height="7.76" fill="#ffffff"/>
<rect x="20.4" y="405.69" width="6.3" height="7.76" fill="#f89b8a"/>
<rect x="26.7" y="405.69" width="6.3" height="7.76" fill="#ffd4cb"/>
<rect x="32.99" y="405.69" width="6.3" height="7.76" fill="#eef0f8"/>
<rect x="39.29" y="405.69" width="6.3" height="7.76" fill="#ffdad2"/>
<rect x="45.59" y="405.69" width="6.3" height="7.76" fill="#a4b5d9"/>
<rect x="51.88" y="405.69" width="6.3" height="7.76" fill="#b0bede"/>
<rect x="58.18" y="405.69" width="6.3" height="7.76" fill="#fcb0a0"/>
<rect x="64.48" y="405.69" width="6.3" height="7.76" fill="#ffcfc5"/>
<rect x="70.78" y="405.69" width="6.3" height="7.76" fill="#ffffff"/>
<rect x="77.07" y="405.69" width="6.3" height="7.76" fill="#ffffff"/>
<rect x="83.37" y="405.69" width="6.3" height="7.76" fill="#2166ac"/>
<rect x="89.67" y="405.69" width="6.3" height="7.76" fill="#e0e5f2"/>
<rect x="95.96" y="405.69" width="6.3" height="7.76" fill="#b0bede"/>
<rect x="102.26" y="405.69" width="6.3" height="7.76" fill="#d3daed"/>
<rect x="108.56" y="405.69" width="6.3" height="7.76" fill="#e0e5f2"/>
<rect x="114.85" y="405.69" width="6.3" height="7.76" fill="#ffdad2"/>
<rect x="121.15" y="405.69" width="6.3" height="7.76" fill="#c7d1e7"/>
<rect x="127.45" y="405.69" width="6.3" height="7.76" fill="#8ea4d0"/>
<rect x="133.75" y="405.69" width="6.3" height="7.76" fill="#3c70b2"/>
<rect x="140.04" y="405.69" width="6.3" height="7.76" fill="#8ea4d0"/>
<rect x="146.34" y="405.69" width="6.3" height="7.76" fill="#6285bf"/>
<rect x="152.64" y="405.69" width="6.3" height="7.76" fill="#fdbaac"/>
<rect x="158.93" y="405.69" width="6.3" height="7.76" fill="#ffc4b8"/>
<rect x="165.23" y="405.69" width="6.3" height="7.76" fill="#f5f7fb"/>
<rect x="171.53" y="405.69" width="6.3" height="7.76" fill="#a4b5d9"/>
<rect x="177.82" y="405.69" width="6.3" height="7.76" fill="#ffffff"/>
<rect x="184.12" y="405.69" width="6.3" height="7.76" fill="#ffd4cb"/>
<rect x="190.42" y="405.69" width="6.3" height="7.76" fill="#fcb0a0"/>
<rect x="196.72" y="405.69" width="6.3" height="7.76" fill="#ffdad2"/>
<rect x="203.01" y="405.69" width="6.3" height="7.76" fill="#e0e5f2"/>
<rect x="209.31" y="405.69" width="6.3" height="7.76" fill="#d73027"/>
<rect x="215.61" y="405.69" width="6.3" height="7.76" fill="#de4738"/>
<rect x="221.9" y="405.69" width="6.3" height="7.76" fill="#ec735f"/>
<rect x="228.2" y="405.69" width="6.3" height="7.76" fill="#c7d1e7"/>
<rect x="234.5" y="405.69" width="6.3" height="7.76" fill="#f5f7fb"/>
<rect x="240.79" y="405.69" width="6.3" height="7.76" fill="#fff8f6"/>
<rect x="247.09" y="405.69" width="6.3" height="7.76" fill="#ffebe7"/>
<rect x="20.4" y="413.45" width="6.3" height="7.76" fill="#7895c7"/>
<rect x="26.7" y="413.45" width="6.3" height="7.76" fill="#faa595"/>
<rect x="32.99" y="413.45" width="6.3" height="7.76" fill="#bbc7e2"/>
<rect x="39.29" y="413.45" width="6.3" height="7.76" fill="#99add4"/>
<rect x="45.59" y="413.45" width="6.3" height="7.76" fill="#99add4"/>
<rect x="51.88" y="413.45" width="6.3" height="7.76" fill="#d3daed"/>
<rect x="58.18" y="413.45" width="6.3" height="7.76" fill="#99add4"/>
<rect x="64.48" y="413.45" width="6.3" height="7.76" fill="#ffffff"/>
<rect x="70.78" y="413.45" width="6.3" height="7.76" fill="#e96955"/>
<rect x="77.07" y="413.45" width="6.3" height="7.76" fill="#bbc7e2"/>
<rect x="83.37" y="413.45" width="6.3" height="7.76" fill="#a4b5d9"/>
<rect x="89.67" y="413.45" width="6.3" height="7.76" fill="#e0e5f2"/>
<rect x="95.96" y="413.45" width="6.3" height="7.76" fill="#2166ac"/>
<rect x="102.26" y="413.45" width="6.3" height="7.76" fill="#c7d1e7"/>
<rect x="108.56" y="413.45" width="6.3" height="7.76" fill="#4a77b6"/>
<rect x="114.85" y="413.45" width="6.3" height="7.76" fill="#bbc7e2"/>
<rect x="121.15" y="413.45" width="6.3" height="7.76" fill="#f38774"/>
<rect x="127.45" y="413.45" width="6.3" height="7.76" fill="#ffffff"/>
<rect x="133.75" y="413.45" width="6.3" height="7.76" fill="#bbc7e2"/>
<rect x="140.04" y="413.45" width="6.3" height="7.76" fill="#839ccc"/>
<rect x="146.34" y="413.45" width="6.3" height="7.76" fill="#839ccc"/>
<rect x="152.64" y="413.45" width="6.3" height="7.76" fill="#fff8f6"/>
<rect x="158.93" y="413.45" width="6.3" height="7.76" fill="#faa595"/>
<rect x="165.23" y="413.45" width="6.3" height="7.76" fill="#fff1ee"/>
<rect x="171.53" y="413.45" width="6.3" height="7.76" fill="#faa595"/>
<rect x="177.82" y="413.45" width="6.3" height="7.76" fill="#fff1ee"/>
<rect x="184.12" y="413.45" width="6.3" height="7.76" fill="#ffe0d9"/>
<rect x="190.42" y="413.45" width="6.3" height="7.76" fill="#eef0f8"/>
<rect x="196.72" y="413.45" width="6.3" height="7.76" fill="#faa595"/>
<rect x="203.01" y="413.45" width="6.3" height="7.76" fill="#ffd4cb"/>
<rect x="209.31" y="413.45" width="6.3" height="7.76" fill="#ec735f"/>
<rect x="215.61" y="413.45" width="6.3" height="7.76" fill="#ffffff"/>
<rect x="221.9" y="413.45" width="6.3" height="7.76" fill="#d73027"/>
<rect x="228.2" y="413.45" width="6.3" height="7.76" fill="#faa595"/>
<rect x="234.5" y="413.45" width="6.3" height="7.76" fill="#ec735f"/>
<rect x="240.79" y="413.45" width="6.3" height="7.76" fill="#fdbaac"/>
<rect x="247.09" y="413.45" width="6.3" height="7.76" fill="#f38774"/>
<rect x="20.4" y="421.21" width="6.3" height="7.76" fill="#d3daed"/>
<rect x="26.7" y="421.21" width="6.3" height="7.76" fill="#ffc4b8"/>
<rect x="32.99" y="421.21" width="6.3" height="7.76" fill="#faa595"/>
<rect x="39.29" y="421.21" width="6.3" height="7.76" fill="#ffd4cb"/>
<rect x="45.59" y="421.21" width="6.3" height="7.76" fill="#2166ac"/>
<rect x="51.88" y="421.21" width="6.3" height="7.76" fill="#99add4"/>
<rect x="58.18" y="421.21" width="6.3" height="7.76" fill="#6d8dc3"/>
<rect x="64.48" y="421.21" width="6.3" height="7.76" fill="#8ea4d0"/>
<rect x="70.78" y="421.21" width="6.3" height="7.76" fill="#fdbaac"/>
<rect x="77.07" y="421.21" width="6.3" height="7.76" fill="#8ea4d0"/>
<rect x="83.37" y="421.21" width="6.3" height="7.76" fill="#f5f7fb"/>
<rect x="89.67" y="421.21" width="6.3" height="7.76" fill="#8ea4d0"/>
<rect x="95.96" y="421.21" width="6.3" height="7.76" fill="#b0bede"/>
<rect x="102.26" y="421.21" width="6.3" height="7.76" fill="#d3daed"/>
<rect x="108.56" y="421.21" width="6.3" height="7.76" fill="#e0e5f2"/>
<rect x="114.85" y="421.21" width="6.3" height="7.76" fill="#839ccc"/>
<rect x="121.15" y="421.21" width="6.3" height="7.76" fill="#e7ebf5"/>
<rect x="127.45" y="421.21" width="6.3" height="7.76" fill="#fcb0a0"/>
<rect x="133.75" y="421.21" width="6.3" height="7.76" fill="#d3daed"/>
<rect x="140.04" y="421.21" width="6.3" height="7.76" fill="#8ea4d0"/>
<rect x="146.34" y="421.21" width="6.3" height="7.76" fill="#e0e5f2"/>
<rect x="152.64" y="421.21" width="6.3" height="7.76" fill="#f07d69"/>
<rect x="158.93" y="421.21" width="6.3" height="7.76" fill="#d3daed"/>
<rect x="165.23" y="421.21" width="6.3" height="7.76" fill="#ffffff"/>
<rect x="171.53" y="421.21" width="6.3" height="7.76" fill="#a4b5d9"/>
<rect x="177.82" y="421.21" width="6.3" height="7.76" fill="#e0e5f2"/>
<rect x="184.12" y="421.21" width="6.3" height="7.76" fill="#e96955"/>
<rect x="190.42" y="421.21" width="6.3" height="7.76" fill="#faa595"/>
<rect x="196.72" y="421.21" width="6.3" height="7.76" fill="#f5917f"/>
<rect x="203.01" y="421.21" width="6.3" height="7.76" fill="#d73027"/>
<rect x="209.31" y="421.21" width="6.3" height="7.76" fill="#faa595"/>
<rect x="215.61" y="421.21" width="6.3" height="7.76" fill="#f07d69"/>
<rect x="221.9" y="421.21" width="6.3" height="7.76" fill="#fdbaac"/>
<rect x="228.2" y="421.21" width="6.3" height="7.76" fill="#fff1ee"/>
<rect x="234.5" y="421.21" width="6.3" height="7.76" fill="#ffdad2"/>
<rect x="240.79" y="421.21" width="6.3" height="7.76" fill="#fdbaac"/>
<rect x="247.09" y="421.21" width="6.3" height="7.76" fill="#ffebe7"/>
<rect x="20.4" y="428.96" width="6.3" height="7.76" fill="#e0e5f2"/>
<rect x="26.7" y="428.96" width="6.3" height="7.76" fill="#ffe5e0"/>
<rect x="32.99" y="428.96" width="6.3" height="7.76" fill="#6285bf"/>
<rect x="39.29" y="428.96" width="6.3" height="7.76" fill="#cdd5ea"/>
<rect x="45.59" y="428.96" width="6.3" height="7.76" fill="#d73027"/>
<rect x="51.88" y="428.96" width="6.3" height="7.76" fill="#faa595"/>
<rect x="58.18" y="428.96" width="6.3" height="7.76" fill="#ec735f"/>
<rect x="64.48" y="428.96" width="6.3" height="7.76" fill="#f89b8a"/>
<rect x="70.78" y="428.96" width="6.3" height="7.76" fill="#b0bede"/>
<rect x="77.07" y="428.96" width="6.3" height="7.76" fill="#fcb0a0"/>
<rect x="83.37" y="428.96" width="6.3" height="7.76" fill="#fff1ee"/>
<rect x="89.67" y="428.96" width="6.3" height="7.76" fill="#b0bede"/>
<rect x="95.96" y="428.96" width="6.3" height="7.76" fill="#d9e0ef"/>
<rect x="102.26" y="428.96" width="6.3" height="7.76" fill="#ffd4cb"/>
<rect x="108.56" y="428.96" width="6.3" height="7.76" fill="#ffcabf"/>
<rect x="114.85" y="428.96" width="6.3" height="7.76" fill="#faa595"/>
<rect x="121.15" y="428.96" width="6.3" height="7.76" fill="#f89b8a"/>
<rect x="127.45" y="428.96" width="6.3" height="7.76" fill="#ffcabf"/>
<rect x="133.75" y="428.96" width="6.3" height="7.76" fill="#e0e5f2"/>
<rect x="140.04" y="428.96" width="6.3" height="7.76" fill="#f5917f"/>
<rect x="146.34" y="428.96" width="6.3" height="7.76" fill="#fcb0a0"/>
<rect x="152.64" y="428.96" width="6.3" height="7.76" fill="#f5917f"/>
<rect x="158.93" y="428.96" width="6.3" height="7.76" fill="#fff8f6"/>
<rect x="165.23" y="428.96" width="6.3" height="7.76" fill="#2166ac"/>
<rect x="171.53" y="428.96" width="6.3" height="7.76" fill="#99add4"/>
<rect x="177.82" y="428.96" width="6.3" height="7.76" fill="#6d8dc3"/>
<rect x="184.12" y="428.96" width="6.3" height="7.76" fill="#ffc4b8"/>
<rect x="190.42" y="428.96" width="6.3" height="7.76" fill="#3c70b2"/>
<rect x="196.72" y="428.96" width="6.3" height="7.76" fill="#ffebe7"/>
<rect x="203.01" y="428.96" width="6.3" height="7.76" fill="#b0bede"/>
<rect x="209.31" y="428.96" width="6.3" height="7.76" fill="#99add4"/>
<rect x="215.61" y="428.96" width="6.3" height="7.76" fill="#8ea4d0"/>
<rect x="221.9" y="428.96" width="6.3" height="7.76" fill="#e7ebf5"/>
<rect x="228.2" y="428.96" width="6.3" height="7.76" fill="#bbc7e2"/>
<rect x="234.5" y="428.96" width="6.3" height="7.76" fill="#99add4"/>
<rect x="240.79" y="428.96" width="6.3" height="7.76" fill="#f5917f"/>
<rect x="247.09" y="428.96" width="6.3" height="7.76" fill="#faa595"/>
<rect x="20.4" y="436.72" width="6.3" height="7.76" fill="#ffd4cb"/>
<rect x="26.7" y="436.72" width="6.3" height="7.76" fill="#e0e5f2"/>
<rect x="32.99" y="436.72" width="6.3" height="7.76" fill="#f5f7fb"/>
<rect x="39.29" y="436.72" width="6.3" height="7.76" fill="#99add4"/>
<rect x="45.59" y="436.72" width="6.3" height="7.76" fill="#fff8f6"/>
<rect x="51.88" y="436.72" width="6.3" height="7.76" fill="#faa595"/>
<rect x="58.18" y="436.72" width="6.3" height="7.76" fill="#da3b2e"/>
<rect x="64.48" y="436.72" width="6.3" height="7.76" fill="#ffebe7"/>
<rect x="70.78" y="436.72" width="6.3" height="7.76" fill="#fcb0a0"/>
<rect x="77.07" y="436.72" width="6.3" height="7.76" fill="#8ea4d0"/>
<rect x="83.37" y="436.72" width="6.3" height="7.76" fill="#e0e5f2"/>
<rect x="89.67" y="436.72" width="6.3" height="7.76" fill="#f89b8a"/>
<rect x="95.96" y="436.72" width="6.3" height="7.76" fill="#ffebe7"/>
<rect x="102.26" y="436.72" width="6.3" height="7.76" fill="#fdbaac"/>
<rect x="108.56" y="436.72" width="6.3" height="7.76" fill="#ffc4b8"/>
<rect x="114.85" y="436.72" width="6.3" height="7.76" fill="#fcb0a0"/>
<rect x="121.15" y="436.72" width="6.3" height="7.76" fill="#ffe0d9"/>
<rect x="127.45" y="436.72" width="6.3" height="7.76" fill="#fcb0a0"/>
<rect x="133.75" y="436.72" width="6.3" height="7.76" fill="#e96955"/>
<rect x="140.04" y="436.72" width="6.3" height="7.76" fill="#f5917f"/>
<rect x="146.34" y="436.72" width="6.3" height="7.76" fill="#fff1ee"/>
<rect x="152.64" y="436.72" width="6.3" height="7.76" fill="#ec735f"/>
<rect x="158.93" y="436.72" width="6.3" height="7.76" fill="#ffc4b8"/>
<rect x="165.23" y="436.72" width="6.3" height="7.76" fill="#e7ebf5"/>
<rect x="171.53" y="436.72" width="6.3" height="7.76" fill="#7895c7"/>
<rect x="177.82" y="436.72" width="6.3" height="7.76" fill="#99add4"/>
<rect x="184.12" y="436.72" width="6.3" height="7.76" fill="#2b69ae"/>
<rect x="190.42" y="436.72" width="6.3" height="7.76" fill="#99add4"/>
<rect x="196.72" y="436.72" width="6.3" height="7.76" fill="#839ccc"/>
<rect x="203.01" y="436.72" width="6.3" height="7.76" fill="#3c70b2"/>
<rect x="209.31" y="436.72" width="6.3" height="7.76" fill="#839ccc"/>
<rect x="215.61" y="436.72" width="6.3" height="7.76" fill="#c7d1e7"/>
<rect x="221.9" y="436.72" width="6.3" height="7.76" fill="#839ccc"/>
<rect x="228.2" y="436.72" width="6.3" height="7.76" fill="#ffffff"/>
<rect x="234.5" y="436.72" width="6.3" height="7.76" fill="#faa595"/>
<rect x="240.79" y="436.72" width="6.3" height="7.76" fill="#fff8f6"/>
<rect x="247.09" y="436.72" width="6.3" height="7.76" fill="#ffebe7"/>
<rect x="20.4" y="444.48" width="6.3" height="7.76" fill="#f5917f"/>
<rect x="26.7" y="444.48" width="6.3" height="7.76" fill="#ffebe7"/>
<rect x="32.99" y="444.48" width="6.3" height="7.76" fill="#ffe5e0"/>
<rect x="39.29" y="444.48" width="6.3" height="7.76" fill="#7895c7"/>
<rect x="45.59" y="444.48" width="6.3" height="7.76" fill="#ffdad2"/>
<rect x="51.88" y="444.48" width="6.3" height="7.76" fill="#ffffff"/>
<rect x="58.18" y="444.48" width="6.3" height="7.76" fill="#d3daed"/>
<rect x="64.48" y="444.48" width="6.3" height="7.76" fill="#c7d1e7"/>
<rect x="70.78" y="444.48" width="6.3" height="7.76" fill="#f5917f"/>
<rect x="77.07" y="444.48" width="6.3" height="7.76" fill="#f38774"/>
<rect x="83.37" y="444.48" width="6.3" height="7.76" fill="#f07d69"/>
<rect x="89.67" y="444.48" width="6.3" height="7.76" fill="#fdbaac"/>
<rect x="95.96" y="444.48" width="6.3" height="7.76" fill="#d73027"/>
<rect x="102.26" y="444.48" width="6.3" height="7.76" fill="#ffcabf"/>
<rect x="108.56" y="444.48" width="6.3" height="7.76" fill="#e25341"/>
<rect x="114.85" y="444.48" width="6.3" height="7.76" fill="#ffe0d9"/>
<rect x="121.15" y="444.48" width="6.3" height="7.76" fill="#ffcabf"/>
<rect x="127.45" y="444.48" width="6.3" height="7.76" fill="#d3daed"/>
<rect x="133.75" y="444.48" width="6.3" height="7.76" fill="#ffcfc5"/>
<rect x="140.04" y="444.48" width="6.3" height="7.76" fill="#ffdad2"/>
<rect x="146.34" y="444.48" width="6.3" height="7.76" fill="#fff1ee"/>
<rect x="152.64" y="444.48" width="6.3" height="7.76" fill="#b0bede"/>
<rect x="158.93" y="444.48" width="6.3" height="7.76" fill="#d3daed"/>
<rect x="165.23" y="444.48" width="6.3" height="7.76" fill="#ffebe7"/>
<rect x="171.53" y="444.48" width="6.3" height="7.76" fill="#bbc7e2"/>
<rect x="177.82" y="444.48" width="6.3" height="7.76" fill="#a4b5d9"/>
<rect x="184.12" y="444.48" width="6.3" height="7.76" fill="#a4b5d9"/>
<rect x="190.42" y="444.48" width="6.3" height="7.76" fill="#e0e5f2"/>
<rect x="196.72" y="444.48" width="6.3" height="7.76" fill="#7895c7"/>
<rect x="203.01" y="444.48" width="6.3" height="7.76" fill="#f07d69"/>
<rect x="209.31" y="444.48" width="6.3" height="7.76" fill="#7895c7"/>
<rect x="215.61" y="444.48" width="6.3" height="7.76" fill="#2166ac"/>
<rect x="221.9" y="444.48" width="6.3" height="7.76" fill="#839ccc"/>
<rect x="228.2" y="444.48" width="6.3" height="7.76" fill="#d3daed"/>
<rect x="234.5" y="444.48" width="6.3" height="7.76" fill="#99add4"/>
<rect x="240.79" y="444.48" width="6.3" height="7.76" fill="#f5917f"/>
<rect x="247.09" y="444.48" width="6.3" height="7.76" fill="#eef0f8"/>
<rect x="20.4" y="452.24" width="6.3" height="7.76" fill="#ffffff"/>
<rect x="26.7" y="452.24" width="6.3" height="7.76" fill="#f38774"/>
<rect x="32.99" y="452.24" width="6.3" height="7.76" fill="#f5f7fb"/>
<rect x="39.29" y="452.24" width="6.3" height="7.76" fill="#99add4"/>
<rect x="45.59" y="452.24" width="6.3" height="7.76" fill="#fdbaac"/>
<rect x="51.88" y="452.24" width="6.3" height="7.76" fill="#d9e0ef"/>
<rect x="58.18" y="452.24" width="6.3" height="7.76" fill="#d3daed"/>
<rect x="64.48" y="452.24" width="6.3" height="7.76" fill="#fdbaac"/>
<rect x="70.78" y="452.24" width="6.3" height="7.76" fill="#f89b8a"/>
<rect x="77.07" y="452.24" width="6.3" height="7.76" fill="#faa595"/>
<rect x="83.37" y="452.24" width="6.3" height="7.76" fill="#f5917f"/>
<rect x="89.67" y="452.24" width="6.3" height="7.76" fill="#fdbaac"/>
<rect x="95.96" y="452.24" width="6.3" height="7.76" fill="#ffdad2"/>
<rect x="102.26" y="452.24" width="6.3" height="7.76" fill="#d73027"/>
<rect x="108.56" y="452.24" width="6.3" height="7.76" fill="#f5917f"/>
<rect x="114.85" y="452.24" width="6.3" height="7.76" fill="#ffebe7"/>
<rect x="121.15" y="452.24" width="6.3" height="7.76" fill="#ffcfc5"/>
<rect x="127.45" y="452.24" width="6.3" height="7.76" fill="#ffe0d9"/>
<rect x="133.75" y="452.24" width="6.3" height="7.76" fill="#ffc4b8"/>
<rect x="140.04" y="452.24" width="6.3" height="7.76" fill="#bbc7e2"/>
<rect x="146.34" y="452.24" width="6.3" height="7.76" fill="#fff1ee"/>
<rect x="152.64" y="452.24" width="6.3" height="7.76" fill="#7895c7"/>
<rect x="158.93" y="452.24" width="6.3" height="7.76" fill="#c7d1e7"/>
<rect x="165.23" y="452.24" width="6.3" height="7.76" fill="#99add4"/>
<rect x="171.53" y="452.24" width="6.3" height="7.76" fill="#7895c7"/>
<rect x="177.82" y="452.24" width="6.3" height="7.76" fill="#d9e0ef"/>
<rect x="184.12" y="452.24" width="6.3" height="7.76" fill="#d3daed"/>
<rect x="190.42" y="452.24" width="6.3" height="7.76" fill="#99add4"/>
<rect x="196.72" y="452.24" width="6.3" height="7.76" fill="#fff1ee"/>
<rect x="203.01" y="452.24" width="6.3" height="7.76" fill="#ffffff"/>
<rect x="209.31" y="452.24" width="6.3" height="7.76" fill="#99add4"/>
<rect x="215.61" y="452.24" width="6.3" height="7.76" fill="#839ccc"/>
<rect x="221.9" y="452.24" width="6.3" height="7.76" fill="#2166ac"/>
<rect x="228.2" y="452.24" width="6.3" height="7.76" fill="#eef0f8"/>
<rect x="234.5" y="452.24" width="6.3" height="7.76" fill="#f89b8a"/>
<rect x="240.79" y="452.24" width="6.3" height="7.76" fill="#f89b8a"/>
<rect x="247.09" y="452.24" width="6.3" height="7.76" fill="#eef0f8"/>
<rect x="20.4" y="460" width="6.3" height="7.76" fill="#ffdad2"/>
<rect x="26.7" y="460" width="6.3" height="7.76" fill="#fff8f6"/>
<rect x="32.99" y="460" width="6.3" height="7.76" fill="#d3daed"/>
<rect x="39.29" y="460" width="6.3" height="7.76" fill="#99add4"/>
<rect x="45.59" y="460" width="6.3" height="7.76" fill="#ffe0d9"/>
<rect x="51.88" y="460" width="6.3" height="7.76" fill="#99add4"/>
<rect x="58.18" y="460" width="6.3" height="7.76" fill="#f5f7fb"/>
<rect x="64.48" y="460" width="6.3" height="7.76" fill="#8ea4d0"/>
<rect x="70.78" y="460" width="6.3" height="7.76" fill="#fdbaac"/>
<rect x="77.07" y="460" width="6.3" height="7.76" fill="#f38774"/>
<rect x="83.37" y="460" width="6.3" height="7.76" fill="#ffd4cb"/>
<rect x="89.67" y="460" width="6.3" height="7.76" fill="#ec735f"/>
<rect x="95.96" y="460" width="6.3" height="7.76" fill="#e96955"/>
<rect x="102.26" y="460" width="6.3" height="7.76" fill="#faa595"/>
<rect x="108.56" y="460" width="6.3" height="7.76" fill="#fdbaac"/>
<rect x="114.85" y="460" width="6.3" height="7.76" fill="#ffcfc5"/>
<rect x="121.15" y="460" width="6.3" height="7.76" fill="#f07d69"/>
<rect x="127.45" y="460" width="6.3" height="7.76" fill="#ffdad2"/>
<rect x="133.75" y="460" width="6.3" height="7.76" fill="#f5917f"/>
<rect x="140.04" y="460" width="6.3" height="7.76" fill="#ffdad2"/>
<rect x="146.34" y="460" width="6.3" height="7.76" fill="#f5f7fb"/>
<rect x="152.64" y="460" width="6.3" height="7.76" fill="#f89b8a"/>
<rect x="158.93" y="460" width="6.3" height="7.76" fill="#2166ac"/>
<rect x="165.23" y="460" width="6.3" height="7.76" fill="#6285bf"/>
<rect x="171.53" y="460" width="6.3" height="7.76" fill="#faa595"/>
<rect x="177.82" y="460" width="6.3" height="7.76" fill="#a4b5d9"/>
<rect x="184.12" y="460" width="6.3" height="7.76" fill="#faa595"/>
<rect x="190.42" y="460" width="6.3" height="7.76" fill="#6285bf"/>
<rect x="196.72" y="460" width="6.3" height="7.76" fill="#ffe5e0"/>
<rect x="203.01" y="460" width="6.3" height="7.76" fill="#a4b5d9"/>
<rect x="209.31" y="460" width="6.3" height="7.76" fill="#ffcabf"/>
<rect x="215.61" y="460" width="6.3" height="7.76" fill="#4a77b6"/>
<rect x="221.9" y="460" width="6.3" height="7.76" fill="#839ccc"/>
<rect x="228.2" y="460" width="6.3" height="7.76" fill="#cdd5ea"/>
<rect x="234.5" y="460" width="6.3" height="7.76" fill="#ffe5e0"/>
<rect x="240.79" y="460" width="6.3" height="7.76" fill="#bbc7e2"/>
<rect x="247.09" y="460" width="6.3" height="7.76" fill="#99add4"/>
<rect x="20.4" y="467.75" width="6.3" height="7.76" fill="#d9e0ef"/>
<rect x="26.7" y="467.75" width="6.3" height="7.76" fill="#ffc4b8"/>
<rect x="32.99" y="467.75" width="6.3" height="7.76" fill="#6285bf"/>
<rect x="39.29" y="467.75" width="6.3" height="7.76" fill="#e0e5f2"/>
<rect x="45.59" y="467.75" width="6.3" height="7.76" fill="#ffffff"/>
<rect x="51.88" y="467.75" width="6.3" height="7.76" fill="#faa595"/>
<rect x="58.18" y="467.75" width="6.3" height="7.76" fill="#ffebe7"/>
<rect x="64.48" y="467.75" width="6.3" height="7.76" fill="#8ea4d0"/>
<rect x="70.78" y="467.75" width="6.3" height="7.76" fill="#d73027"/>
<rect x="77.07" y="467.75" width="6.3" height="7.76" fill="#d73027"/>
<rect x="83.37" y="467.75" width="6.3" height="7.76" fill="#ffe0d9"/>
<rect x="89.67" y="467.75" width="6.3" height="7.76" fill="#d73027"/>
<rect x="95.96" y="467.75" width="6.3" height="7.76" fill="#ffd4cb"/>
<rect x="102.26" y="467.75" width="6.3" height="7.76" fill="#ffd4cb"/>
<rect x="108.56" y="467.75" width="6.3" height="7.76" fill="#febfb2"/>
<rect x="114.85" y="467.75" width="6.3" height="7.76" fill="#ffe5e0"/>
<rect x="121.15" y="467.75" width="6.3" height="7.76" fill="#ffcfc5"/>
<rect x="127.45" y="467.75" width="6.3" height="7.76" fill="#a4b5d9"/>
<rect x="133.75" y="467.75" width="6.3" height="7.76" fill="#ffdad2"/>
<rect x="140.04" y="467.75" width="6.3" height="7.76" fill="#e0e5f2"/>
<rect x="146.34" y="467.75" width="6.3" height="7.76" fill="#ffffff"/>
<rect x="152.64" y="467.75" width="6.3" height="7.76" fill="#ffe0d9"/>
<rect x="158.93" y="467.75" width="6.3" height="7.76" fill="#8ea4d0"/>
<rect x="165.23" y="467.75" width="6.3" height="7.76" fill="#2b69ae"/>
<rect x="171.53" y="467.75" width="6.3" height="7.76" fill="#ffc4b8"/>
<rect x="177.82" y="467.75" width="6.3" height="7.76" fill="#ffc4b8"/>
<rect x="184.12" y="467.75" width="6.3" height="7.76" fill="#faa595"/>
<rect x="190.42" y="467.75" width="6.3" height="7.76" fill="#ffe5e0"/>
<rect x="196.72" y="467.75" width="6.3" height="7.76" fill="#839ccc"/>
<rect x="203.01" y="467.75" width="6.3" height="7.76" fill="#8ea4d0"/>
<rect x="209.31" y="467.75" width="6.3" height="7.76" fill="#bbc7e2"/>
<rect x="215.61" y="467.75" width="6.3" height="7.76" fill="#8ea4d0"/>
<rect x="221.9" y="467.75" width="6.3" height="7.76" fill="#8ea4d0"/>
<rect x="228.2" y="467.75" width="6.3" height="7.76" fill="#ffebe7"/>
<rect x="234.5" y="467.75" width="6.3" height="7.76" fill="#d9e0ef"/>
<rect x="240.79" y="467.75" width="6.3" height="7.76" fill="#a4b5d9"/>
<rect x="247.09" y="467.75" width="6.3" height="7.76" fill="#f5f7fb"/>
<rect x="20.4" y="475.51" width="6.3" height="7.76" fill="#fff1ee"/>
<rect x="26.7" y="475.51" width="6.3" height="7.76" fill="#fdbaac"/>
<rect x="32.99" y="475.51" width="6.3" height="7.76" fill="#e0e5f2"/>
<rect x="39.29" y="475.51" width="6.3" height="7.76" fill="#fff1ee"/>
<rect x="45.59" y="475.51" width="6.3" height="7.76" fill="#faa595"/>
<rect x="51.88" y="475.51" width="6.3" height="7.76" fill="#e0e5f2"/>
<rect x="58.18" y="475.51" width="6.3" height="7.76" fill="#ffe0d9"/>
<rect x="64.48" y="475.51" width="6.3" height="7.76" fill="#99add4"/>
<rect x="70.78" y="475.51" width="6.3" height="7.76" fill="#f5f7fb"/>
<rect x="77.07" y="475.51" width="6.3" height="7.76" fill="#d73027"/>
<rect x="83.37" y="475.51" width="6.3" height="7.76" fill="#f07d69"/>
<rect x="89.67" y="475.51" width="6.3" height="7.76" fill="#faa595"/>
<rect x="95.96" y="475.51" width="6.3" height="7.76" fill="#ffe0d9"/>
<rect x="102.26" y="475.51" width="6.3" height="7.76" fill="#ffebe7"/>
<rect x="108.56" y="475.51" width="6.3" height="7.76" fill="#e0e5f2"/>
<rect x="114.85" y="475.51" width="6.3" height="7.76" fill="#b0bede"/>
<rect x="121.15" y="475.51" width="6.3" height="7.76" fill="#fcb0a0"/>
<rect x="127.45" y="475.51" width="6.3" height="7.76" fill="#fcb0a0"/>
<rect x="133.75" y="475.51" width="6.3" height="7.76" fill="#da3b2e"/>
<rect x="140.04" y="475.51" width="6.3" height="7.76" fill="#e96955"/>
<rect x="146.34" y="475.51" width="6.3" height="7.76" fill="#d3daed"/>
<rect x="152.64" y="475.51" width="6.3" height="7.76" fill="#8ea4d0"/>
<rect x="158.93" y="475.51" width="6.3" height="7.76" fill="#f5f7fb"/>
<rect x="165.23" y="475.51" width="6.3" height="7.76" fill="#a4b5d9"/>
<rect x="171.53" y="475.51" width="6.3" height="7.76" fill="#ffffff"/>
<rect x="177.82" y="475.51" width="6.3" height="7.76" fill="#d9e0ef"/>
<rect x="184.12" y="475.51" width="6.3" height="7.76" fill="#da3b2e"/>
<rect x="190.42" y="475.51" width="6.3" height="7.76" fill="#d9e0ef"/>
<rect x="196.72" y="475.51" width="6.3" height="7.76" fill="#e0e5f2"/>
<rect x="203.01" y="475.51" width="6.3" height="7.76" fill="#ffe5e0"/>
<rect x="209.31" y="475.51" width="6.3" height="7.76" fill="#b0bede"/>
<rect x="215.61" y="475.51" width="6.3" height="7.76" fill="#839ccc"/>
<rect x="221.9" y="475.51" width="6.3" height="7.76" fill="#839ccc"/>
<rect x="228.2" y="475.51" width="6.3" height="7.76" fill="#839ccc"/>
<rect x="234.5" y="475.51" width="6.3" height="7.76" fill="#839ccc"/>
<rect x="240.79" y="475.51" width="6.3" height="7.76" fill="#839ccc"/>
<rect x="247.09" y="475.51" width="6.3" height="7.76" fill="#6285bf"/>
<rect x="20.4" y="483.27" width="6.3" height="7.76" fill="#faa595"/>
<rect x="26.7" y="483.27" width="6.3" height="7.76" fill="#faa595"/>
<rect x="32.99" y="483.27" width="6.3" height="7.76" fill="#fff1ee"/>
<rect x="39.29" y="483.27" width="6.3" height="7.76" fill="#f89b8a"/>
<rect x="45.59" y="483.27" width="6.3" height="7.76" fill="#f89b8a"/>
<rect x="51.88" y="483.27" width="6.3" height="7.76" fill="#fdbaac"/>
<rect x="58.18" y="483.27" width="6.3" height="7.76" fill="#ffc4b8"/>
<rect x="64.48" y="483.27" width="6.3" height="7.76" fill="#faa595"/>
<rect x="70.78" y="483.27" width="6.3" height="7.76" fill="#6d8dc3"/>
<rect x="77.07" y="483.27" width="6.3" height="7.76" fill="#bbc7e2"/>
<rect x="83.37" y="483.27" width="6.3" height="7.76" fill="#fff1ee"/>
<rect x="89.67" y="483.27" width="6.3" height="7.76" fill="#f5917f"/>
<rect x="95.96" y="483.27" width="6.3" height="7.76" fill="#e0e5f2"/>
<rect x="102.26" y="483.27" width="6.3" height="7.76" fill="#f38774"/>
<rect x="108.56" y="483.27" width="6.3" height="7.76" fill="#fff8f6"/>
<rect x="114.85" y="483.27" width="6.3" height="7.76" fill="#ffdad2"/>
<rect x="121.15" y="483.27" width="6.3" height="7.76" fill="#fff8f6"/>
<rect x="127.45" y="483.27" width="6.3" height="7.76" fill="#ffdad2"/>
<rect x="133.75" y="483.27" width="6.3" height="7.76" fill="#fdbaac"/>
<rect x="140.04" y="483.27" width="6.3" height="7.76" fill="#fdbaac"/>
<rect x="146.34" y="483.27" width="6.3" height="7.76" fill="#ffffff"/>
<rect x="152.64" y="483.27" width="6.3" height="7.76" fill="#fff8f6"/>
<rect x="158.93" y="483.27" width="6.3" height="7.76" fill="#f89b8a"/>
<rect x="165.23" y="483.27" width="6.3" height="7.76" fill="#ffffff"/>
<rect x="171.53" y="483.27" width="6.3" height="7.76" fill="#b0bede"/>
<rect x="177.82" y="483.27" width="6.3" height="7.76" fill="#4a77b6"/>
<rect x="184.12" y="483.27" width="6.3" height="7.76" fill="#f89b8a"/>
<rect x="190.42" y="483.27" width="6.3" height="7.76" fill="#e0e5f2"/>
<rect x="196.72" y="483.27" width="6.3" height="7.76" fill="#e0e5f2"/>
<rect x="203.01" y="483.27" width="6.3" height="7.76" fill="#ffd4cb"/>
<rect x="209.31" y="483.27" width="6.3" height="7.76" fill="#3c70b2"/>
<rect x="215.61" y="483.27" width="6.3" height="7.76" fill="#2b69ae"/>
<rect x="221.9" y="483.27" width="6.3" height="7.76" fill="#99add4"/>
<rect x="228.2" y="483.27" width="6.3" height="7.76" fill="#d3daed"/>
<rect x="234.5" y="483.27" width="6.3" height="7.76" fill="#ffebe7"/>
<rect x="240.79" y="483.27" width="6.3" height="7.76" fill="#b0bede"/>
<rect x="247.09" y="483.27" width="6.3" height="7.76" fill="#4a77b6"/>
<rect x="20.4" y="491.03" width="6.3" height="7.76" fill="#ffdad2"/>
<rect x="26.7" y="491.03" width="6.3" height="7.76" fill="#fcb0a0"/>
<rect x="32.99" y="491.03" width="6.3" height="7.76" fill="#fcb0a0"/>
<rect x="39.29" y="491.03" width="6.3" height="7.76" fill="#f89b8a"/>
<rect x="45.59" y="491.03" width="6.3" height="7.76" fill="#f89b8a"/>
<rect x="51.88" y="491.03" width="6.3" height="7.76" fill="#e96955"/>
<rect x="58.18" y="491.03" width="6.3" height="7.76" fill="#e96955"/>
<rect x="64.48" y="491.03" width="6.3" height="7.76" fill="#fdbaac"/>
<rect x="70.78" y="491.03" width="6.3" height="7.76" fill="#ffe0d9"/>
<rect x="77.07" y="491.03" width="6.3" height="7.76" fill="#eef0f8"/>
<rect x="83.37" y="491.03" width="6.3" height="7.76" fill="#ffffff"/>
<rect x="89.67" y="491.03" width="6.3" height="7.76" fill="#e96955"/>
<rect x="95.96" y="491.03" width="6.3" height="7.76" fill="#e0e5f2"/>
<rect x="102.26" y="491.03" width="6.3" height="7.76" fill="#fff8f6"/>
<rect x="108.56" y="491.03" width="6.3" height="7.76" fill="#ffebe7"/>
<rect x="114.85" y="491.03" width="6.3" height="7.76" fill="#99add4"/>
<rect x="121.15" y="491.03" width="6.3" height="7.76" fill="#ffebe7"/>
<rect x="127.45" y="491.03" width="6.3" height="7.76" fill="#faa595"/>
<rect x="133.75" y="491.03" width="6.3" height="7.76" fill="#bbc7e2"/>
<rect x="140.04" y="491.03" width="6.3" height="7.76" fill="#ffd4cb"/>
<rect x="146.34" y="491.03" width="6.3" height="7.76" fill="#fff8f6"/>
<rect x="152.64" y="491.03" width="6.3" height="7.76" fill="#b0bede"/>
<rect x="158.93" y="491.03" width="6.3" height="7.76" fill="#cdd5ea"/>
<rect x="165.23" y="491.03" width="6.3" height="7.76" fill="#faa595"/>
<rect x="171.53" y="491.03" width="6.3" height="7.76" fill="#ec735f"/>
<rect x="177.82" y="491.03" width="6.3" height="7.76" fill="#2166ac"/>
<rect x="184.12" y="491.03" width="6.3" height="7.76" fill="#ffd4cb"/>
<rect x="190.42" y="491.03" width="6.3" height="7.76" fill="#b0bede"/>
<rect x="196.72" y="491.03" width="6.3" height="7.76" fill="#99add4"/>
<rect x="203.01" y="491.03" width="6.3" height="7.76" fill="#2166ac"/>
<rect x="209.31" y="491.03" width="6.3" height="7.76" fill="#567eba"/>
<rect x="215.61" y="491.03" width="6.3" height="7.76" fill="#bbc7e2"/>
<rect x="221.9" y="491.03" width="6.3" height="7.76" fill="#bbc7e2"/>
<rect x="228.2" y="491.03" width="6.3" height="7.76" fill="#b0bede"/>
<rect x="234.5" y="491.03" width="6.3" height="7.76" fill="#ffe5e0"/>
<rect x="240.79" y="491.03" width="6.3" height="7.76" fill="#b0bede"/>
<rect x="247.09" y="491.03" width="6.3" height="7.76" fill="#d3daed"/>
<rect x="20.4" y="498.79" width="6.3" height="7.76" fill="#ffdad2"/>
<rect x="26.7" y="498.79" width="6.3" height="7.76" fill="#f38774"/>
<rect x="32.99" y="498.79" width="6.3" height="7.76" fill="#fcb0a0"/>
<rect x="39.29" y="498.79" width="6.3" height="7.76" fill="#ffffff"/>
<rect x="45.59" y="498.79" width="6.3" height="7.76" fill="#faa595"/>
<rect x="51.88" y="498.79" width="6.3" height="7.76" fill="#ffd4cb"/>
<rect x="58.18" y="498.79" width="6.3" height="7.76" fill="#ffcfc5"/>
<rect x="64.48" y="498.79" width="6.3" height="7.76" fill="#ffffff"/>
<rect x="70.78" y="498.79" width="6.3" height="7.76" fill="#ffe0d9"/>
<rect x="77.07" y="498.79" width="6.3" height="7.76" fill="#ffcfc5"/>
<rect x="83.37" y="498.79" width="6.3" height="7.76" fill="#bbc7e2"/>
<rect x="89.67" y="498.79" width="6.3" height="7.76" fill="#f89b8a"/>
<rect x="95.96" y="498.79" width="6.3" height="7.76" fill="#f5f7fb"/>
<rect x="102.26" y="498.79" width="6.3" height="7.76" fill="#ffcabf"/>
<rect x="108.56" y="498.79" width="6.3" height="7.76" fill="#ffcabf"/>
<rect x="114.85" y="498.79" width="6.3" height="7.76" fill="#ffd4cb"/>
<rect x="121.15" y="498.79" width="6.3" height="7.76" fill="#fcb0a0"/>
<rect x="127.45" y="498.79" width="6.3" height="7.76" fill="#fcb0a0"/>
<rect x="133.75" y="498.79" width="6.3" height="7.76" fill="#ffd4cb"/>
<rect x="140.04" y="498.79" width="6.3" height="7.76" fill="#ffcabf"/>
<rect x="146.34" y="498.79" width="6.3" height="7.76" fill="#f89b8a"/>
<rect x="152.64" y="498.79" width="6.3" height="7.76" fill="#fdbaac"/>
<rect x="158.93" y="498.79" width="6.3" height="7.76" fill="#d3daed"/>
<rect x="165.23" y="498.79" width="6.3" height="7.76" fill="#f5f7fb"/>
<rect x="171.53" y="498.79" width="6.3" height="7.76" fill="#c7d1e7"/>
<rect x="177.82" y="498.79" width="6.3" height="7.76" fill="#2166ac"/>
<rect x="184.12" y="498.79" width="6.3" height="7.76" fill="#e96955"/>
<rect x="190.42" y="498.79" width="6.3" height="7.76" fill="#ffdad2"/>
<rect x="196.72" y="498.79" width="6.3" height="7.76" fill="#99add4"/>
<rect x="203.01" y="498.79" width="6.3" height="7.76" fill="#2166ac"/>
<rect x="209.31" y="498.79" width="6.3" height="7.76" fill="#ffdad2"/>
<rect x="215.61" y="498.79" width="6.3" height="7.76" fill="#839ccc"/>
<rect x="221.9" y="498.79" width="6.3" height="7.76" fill="#6d8dc3"/>
<rect x="228.2" y="498.79" width="6.3" height="7.76" fill="#ffc4b8"/>
<rect x="234.5" y="498.79" width="6.3" height="7.76" fill="#b0bede"/>
<rect x="240.79" y="498.79" width="6.3" height="7.76" fill="#a4b5d9"/>
<rect x="247.09" y="498.79" width="6.3" height="7.76" fill="#7895c7"/>
<rect x="20.4" y="506.54" width="6.3" height="7.76" fill="#f89b8a"/>
<rect x="26.7" y="506.54" width="6.3" height="7.76" fill="#f89b8a"/>
<rect x="32.99" y="506.54" width="6.3" height="7.76" fill="#d9e0ef"/>
<rect x="39.29" y="506.54" width="6.3" height="7.76" fill="#bbc7e2"/>
<rect x="45.59" y="506.54" width="6.3" height="7.76" fill="#f5917f"/>
<rect x="51.88" y="506.54" width="6.3" height="7.76" fill="#f5917f"/>
<rect x="58.18" y="506.54" width="6.3" height="7.76" fill="#ffcfc5"/>
<rect x="64.48" y="506.54" width="6.3" height="7.76" fill="#e25341"/>
<rect x="70.78" y="506.54" width="6.3" height="7.76" fill="#fdbaac"/>
<rect x="77.07" y="506.54" width="6.3" height="7.76" fill="#fdbaac"/>
<rect x="83.37" y="506.54" width="6.3" height="7.76" fill="#b0bede"/>
<rect x="89.67" y="506.54" width="6.3" height="7.76" fill="#e7ebf5"/>
<rect x="95.96" y="506.54" width="6.3" height="7.76" fill="#da3b2e"/>
<rect x="102.26" y="506.54" width="6.3" height="7.76" fill="#ffffff"/>
<rect x="108.56" y="506.54" width="6.3" height="7.76" fill="#ffcabf"/>
<rect x="114.85" y="506.54" width="6.3" height="7.76" fill="#e7ebf5"/>
<rect x="121.15" y="506.54" width="6.3" height="7.76" fill="#ffd4cb"/>
<rect x="127.45" y="506.54" width="6.3" height="7.76" fill="#fff8f6"/>
<rect x="133.75" y="506.54" width="6.3" height="7.76" fill="#ffebe7"/>
<rect x="140.04" y="506.54" width="6.3" height="7.76" fill="#ffcabf"/>
<rect x="146.34" y="506.54" width="6.3" height="7.76" fill="#bbc7e2"/>
<rect x="152.64" y="506.54" width="6.3" height="7.76" fill="#f38774"/>
<rect x="158.93" y="506.54" width="6.3" height="7.76" fill="#ffebe7"/>
<rect x="165.23" y="506.54" width="6.3" height="7.76" fill="#fff1ee"/>
<rect x="171.53" y="506.54" width="6.3" height="7.76" fill="#ffe0d9"/>
<rect x="177.82" y="506.54" width="6.3" height="7.76" fill="#f5f7fb"/>
<rect x="184.12" y="506.54" width="6.3" height="7.76" fill="#ffe5e0"/>
<rect x="190.42" y="506.54" width="6.3" height="7.76" fill="#99add4"/>
<rect x="196.72" y="506.54" width="6.3" height="7.76" fill="#e0e5f2"/>
<rect x="203.01" y="506.54" width="6.3" height="7.76" fill="#e0e5f2"/>
<rect x="209.31" y="506.54" width="6.3" height="7.76" fill="#2166ac"/>
<rect x="215.61" y="506.54" width="6.3" height="7.76" fill="#4a77b6"/>
<rect x="221.9" y="506.54" width="6.3" height="7.76" fill="#99add4"/>
<rect x="228.2" y="506.54" width="6.3" height="7.76" fill="#839ccc"/>
<rect x="234.5" y="506.54" width="6.3" height="7.76" fill="#a4b5d9"/>
<rect x="240.79" y="506.54" width="6.3" height="7.76" fill="#6d8dc3"/>
<rect x="247.09" y="506.54" width="6.3" height="7.76" fill="#7895c7"/>
<rect x="20.4" y="514.3" width="6.3" height="7.76" fill="#cdd5ea"/>
<rect x="26.7" y="514.3" width="6.3" height="7.76" fill="#faa595"/>
<rect x="32.99" y="514.3" width="6.3" height="7.76" fill="#faa595"/>
<rect x="39.29" y="514.3" width="6.3" height="7.76" fill="#eef0f8"/>
<rect x="45.59" y="514.3" width="6.3" height="7.76" fill="#ffd4cb"/>
<rect x="51.88" y="514.3" width="6.3" height="7.76" fill="#f38774"/>
<rect x="58.18" y="514.3" width="6.3" height="7.76" fill="#fdbaac"/>
<rect x="64.48" y="514.3" width="6.3" height="7.76" fill="#de4738"/>
<rect x="70.78" y="514.3" width="6.3" height="7.76" fill="#ffd4cb"/>
<rect x="77.07" y="514.3" width="6.3" height="7.76" fill="#ffc4b8"/>
<rect x="83.37" y="514.3" width="6.3" height="7.76" fill="#b0bede"/>
<rect x="89.67" y="514.3" width="6.3" height="7.76" fill="#ffdad2"/>
<rect x="95.96" y="514.3" width="6.3" height="7.76" fill="#faa595"/>
<rect x="102.26" y="514.3" width="6.3" height="7.76" fill="#ffd4cb"/>
<rect x="108.56" y="514.3" width="6.3" height="7.76" fill="#ffcfc5"/>
<rect x="114.85" y="514.3" width="6.3" height="7.76" fill="#eef0f8"/>
<rect x="121.15" y="514.3" width="6.3" height="7.76" fill="#ffffff"/>
<rect x="127.45" y="514.3" width="6.3" height="7.76" fill="#ffc4b8"/>
<rect x="133.75" y="514.3" width="6.3" height="7.76" fill="#fcb0a0"/>
<rect x="140.04" y="514.3" width="6.3" height="7.76" fill="#fdbaac"/>
<rect x="146.34" y="514.3" width="6.3" height="7.76" fill="#ffdad2"/>
<rect x="152.64" y="514.3" width="6.3" height="7.76" fill="#f38774"/>
<rect x="158.93" y="514.3" width="6.3" height="7.76" fill="#e0e5f2"/>
<rect x="165.23" y="514.3" width="6.3" height="7.76" fill="#faa595"/>
<rect x="171.53" y="514.3" width="6.3" height="7.76" fill="#ffd4cb"/>
<rect x="177.82" y="514.3" width="6.3" height="7.76" fill="#e0e5f2"/>
<rect x="184.12" y="514.3" width="6.3" height="7.76" fill="#d9e0ef"/>
<rect x="190.42" y="514.3" width="6.3" height="7.76" fill="#bbc7e2"/>
<rect x="196.72" y="514.3" width="6.3" height="7.76" fill="#7895c7"/>
<rect x="203.01" y="514.3" width="6.3" height="7.76" fill="#6285bf"/>
<rect x="209.31" y="514.3" width="6.3" height="7.76" fill="#2166ac"/>
<rect x="215.61" y="514.3" width="6.3" height="7.76" fill="#a4b5d9"/>
<rect x="221.9" y="514.3" width="6.3" height="7.76" fill="#3c70b2"/>
<rect x="228.2" y="514.3" width="6.3" height="7.76" fill="#bbc7e2"/>
<rect x="234.5" y="514.3" width="6.3" height="7.76" fill="#3c70b2"/>
<rect x="240.79" y="514.3" width="6.3" height="7.76" fill="#febfb2"/>
<rect x="247.09" y="514.3" width="6.3" height="7.76" fill="#6d8dc3"/>
<rect x="20.4" y="522.06" width="6.3" height="7.76" fill="#e7ebf5"/>
<rect x="26.7" y="522.06" width="6.3" height="7.76" fill="#bbc7e2"/>
<rect x="32.99" y="522.06" width="6.3" height="7.76" fill="#ffdad2"/>
<rect x="39.29" y="522.06" width="6.3" height="7.76" fill="#99add4"/>
<rect x="45.59" y="522.06" width="6.3" height="7.76" fill="#fcb0a0"/>
<rect x="51.88" y="522.06" width="6.3" height="7.76" fill="#e25341"/>
<rect x="58.18" y="522.06" width="6.3" height="7.76" fill="#fcb0a0"/>
<rect x="64.48" y="522.06" width="6.3" height="7.76" fill="#ffdad2"/>
<rect x="70.78" y="522.06" width="6.3" height="7.76" fill="#fcb0a0"/>
<rect x="77.07" y="522.06" width="6.3" height="7.76" fill="#ffebe7"/>
<rect x="83.37" y="522.06" width="6.3" height="7.76" fill="#ffc4b8"/>
<rect x="89.67" y="522.06" width="6.3" height="7.76" fill="#ffcfc5"/>
<rect x="95.96" y="522.06" width="6.3" height="7.76" fill="#ffcabf"/>
<rect x="102.26" y="522.06" width="6.3" height="7.76" fill="#ffcabf"/>
<rect x="108.56" y="522.06" width="6.3" height="7.76" fill="#e96955"/>
<rect x="114.85" y="522.06" width="6.3" height="7.76" fill="#ffc4b8"/>
<rect x="121.15" y="522.06" width="6.3" height="7.76" fill="#f89b8a"/>
<rect x="127.45" y="522.06" width="6.3" height="7.76" fill="#ffebe7"/>
<rect x="133.75" y="522.06" width="6.3" height="7.76" fill="#faa595"/>
<rect x="140.04" y="522.06" width="6.3" height="7.76" fill="#ffc4b8"/>
<rect x="146.34" y="522.06" width="6.3" height="7.76" fill="#a4b5d9"/>
<rect x="152.64" y="522.06" width="6.3" height="7.76" fill="#ffe5e0"/>
<rect x="158.93" y="522.06" width="6.3" height="7.76" fill="#f5f7fb"/>
<rect x="165.23" y="522.06" width="6.3" height="7.76" fill="#99add4"/>
<rect x="171.53" y="522.06" width="6.3" height="7.76" fill="#ffd4cb"/>
<rect x="177.82" y="522.06" width="6.3" height="7.76" fill="#fdbaac"/>
<rect x="184.12" y="522.06" width="6.3" height="7.76" fill="#ffcabf"/>
<rect x="190.42" y="522.06" width="6.3" height="7.76" fill="#2166ac"/>
<rect x="196.72" y="522.06" width="6.3" height="7.76" fill="#c7d1e7"/>
<rect x="203.01" y="522.06" width="6.3" height="7.76" fill="#2166ac"/>
<rect x="209.31" y="522.06" width="6.3" height="7.76" fill="#99add4"/>
<rect x="215.61" y="522.06" width="6.3" height="7.76" fill="#7895c7"/>
<rect x="221.9" y="522.06" width="6.3" height="7.76" fill="#6d8dc3"/>
<rect x="228.2" y="522.06" width="6.3" height="7.76" fill="#ffffff"/>
<rect x="234.5" y="522.06" width="6.3" height="7.76" fill="#e0e5f2"/>
<rect x="240.79" y="522.06" width="6.3" height="7.76" fill="#cdd5ea"/>
<rect x="247.09" y="522.06" width="6.3" height="7.76" fill="#f5f7fb"/>
<rect x="20.4" y="529.82" width="6.3" height="7.76" fill="#ffe0d9"/>
<rect x="26.7" y="529.82" width="6.3" height="7.76" fill="#fff1ee"/>
<rect x="32.99" y="529.82" width="6.3" height="7.76" fill="#ffffff"/>
<rect x="39.29" y="529.82" width="6.3" height="7.76" fill="#bbc7e2"/>
<rect x="45.59" y="529.82" width="6.3" height="7.76" fill="#fdbaac"/>
<rect x="51.88" y="529.82" width="6.3" height="7.76" fill="#f38774"/>
<rect x="58.18" y="529.82" width="6.3" height="7.76" fill="#cdd5ea"/>
<rect x="64.48" y="529.82" width="6.3" height="7.76" fill="#bbc7e2"/>
<rect x="70.78" y="529.82" width="6.3" height="7.76" fill="#f89b8a"/>
<rect x="77.07" y="529.82" width="6.3" height="7.76" fill="#ffcabf"/>
<rect x="83.37" y="529.82" width="6.3" height="7.76" fill="#fdbaac"/>
<rect x="89.67" y="529.82" width="6.3" height="7.76" fill="#ffd4cb"/>
<rect x="95.96" y="529.82" width="6.3" height="7.76" fill="#f07d69"/>
<rect x="102.26" y="529.82" width="6.3" height="7.76" fill="#ffcabf"/>
<rect x="108.56" y="529.82" width="6.3" height="7.76" fill="#faa595"/>
<rect x="114.85" y="529.82" width="6.3" height="7.76" fill="#ffcabf"/>
<rect x="121.15" y="529.82" width="6.3" height="7.76" fill="#ffebe7"/>
<rect x="127.45" y="529.82" width="6.3" height="7.76" fill="#ffebe7"/>
<rect x="133.75" y="529.82" width="6.3" height="7.76" fill="#ffcabf"/>
<rect x="140.04" y="529.82" width="6.3" height="7.76" fill="#ffe5e0"/>
<rect x="146.34" y="529.82" width="6.3" height="7.76" fill="#fff1ee"/>
<rect x="152.64" y="529.82" width="6.3" height="7.76" fill="#ffcabf"/>
<rect x="158.93" y="529.82" width="6.3" height="7.76" fill="#ffc4b8"/>
<rect x="165.23" y="529.82" width="6.3" height="7.76" fill="#ffe5e0"/>
<rect x="171.53" y="529.82" width="6.3" height="7.76" fill="#ffd4cb"/>
<rect x="177.82" y="529.82" width="6.3" height="7.76" fill="#fdbaac"/>
<rect x="184.12" y="529.82" width="6.3" height="7.76" fill="#ffebe7"/>
<rect x="190.42" y="529.82" width="6.3" height="7.76" fill="#eef0f8"/>
<rect x="196.72" y="529.82" width="6.3" height="7.76" fill="#e0e5f2"/>
<rect x="203.01" y="529.82" width="6.3" height="7.76" fill="#4a77b6"/>
<rect x="209.31" y="529.82" width="6.3" height="7.76" fill="#2166ac"/>
<rect x="215.61" y="529.82" width="6.3" height="7.76" fill="#7895c7"/>
<rect x="221.9" y="529.82" width="6.3" height="7.76" fill="#2b69ae"/>
<rect x="228.2" y="529.82" width="6.3" height="7.76" fill="#ffffff"/>
<rect x="234.5" y="529.82" width="6.3" height="7.76" fill="#ffe0d9"/>
<rect x="240.79" y="529.82" width="6.3" height="7.76" fill="#eef0f8"/>
<rect x="247.09" y="529.82" width="6.3" height="7.76" fill="#7895c7"/>
<rect x="20.4" y="537.58" width="6.3" height="7.76" fill="#f89b8a"/>
<rect x="26.7" y="537.58" width="6.3" height="7.76" fill="#d3daed"/>
<rect x="32.99" y="537.58" width="6.3" height="7.76" fill="#839ccc"/>
<rect x="39.29" y="537.58" width="6.3" height="7.76" fill="#d3daed"/>
<rect x="45.59" y="537.58" width="6.3" height="7.76" fill="#a4b5d9"/>
<rect x="51.88" y="537.58" width="6.3" height="7.76" fill="#e65e4b"/>
<rect x="58.18" y="537.58" width="6.3" height="7.76" fill="#ffd4cb"/>
<rect x="64.48" y="537.58" width="6.3" height="7.76" fill="#f5f7fb"/>
<rect x="70.78" y="537.58" width="6.3" height="7.76" fill="#ffc4b8"/>
<rect x="77.07" y="537.58" width="6.3" height="7.76" fill="#eef0f8"/>
<rect x="83.37" y="537.58" width="6.3" height="7.76" fill="#839ccc"/>
<rect x="89.67" y="537.58" width="6.3" height="7.76" fill="#d73027"/>
<rect x="95.96" y="537.58" width="6.3" height="7.76" fill="#da3b2e"/>
<rect x="102.26" y="537.58" width="6.3" height="7.76" fill="#faa595"/>
<rect x="108.56" y="537.58" width="6.3" height="7.76" fill="#ffdad2"/>
<rect x="114.85" y="537.58" width="6.3" height="7.76" fill="#faa595"/>
<rect x="121.15" y="537.58" width="6.3" height="7.76" fill="#ffd4cb"/>
<rect x="127.45" y="537.58" width="6.3" height="7.76" fill="#fcb0a0"/>
<rect x="133.75" y="537.58" width="6.3" height="7.76" fill="#ffcfc5"/>
<rect x="140.04" y="537.58" width="6.3" height="7.76" fill="#bbc7e2"/>
<rect x="146.34" y="537.58" width="6.3" height="7.76" fill="#bbc7e2"/>
<rect x="152.64" y="537.58" width="6.3" height="7.76" fill="#fdbaac"/>
<rect x="158.93" y="537.58" width="6.3" height="7.76" fill="#4a77b6"/>
<rect x="165.23" y="537.58" width="6.3" height="7.76" fill="#f5f7fb"/>
<rect x="171.53" y="537.58" width="6.3" height="7.76" fill="#cdd5ea"/>
<rect x="177.82" y="537.58" width="6.3" height="7.76" fill="#faa595"/>
<rect x="184.12" y="537.58" width="6.3" height="7.76" fill="#fff8f6"/>
<rect x="190.42" y="537.58" width="6.3" height="7.76" fill="#a4b5d9"/>
<rect x="196.72" y="537.58" width="6.3" height="7.76" fill="#ffcabf"/>
<rect x="203.01" y="537.58" width="6.3" height="7.76" fill="#ffcfc5"/>
<rect x="209.31" y="537.58" width="6.3" height="7.76" fill="#eef0f8"/>
<rect x="215.61" y="537.58" width="6.3" height="7.76" fill="#6d8dc3"/>
<rect x="221.9" y="537.58" width="6.3" height="7.76" fill="#a4b5d9"/>
<rect x="228.2" y="537.58" width="6.3" height="7.76" fill="#c7d1e7"/>
<rect x="234.5" y="537.58" width="6.3" height="7.76" fill="#b0bede"/>
<rect x="240.79" y="537.58" width="6.3" height="7.76" fill="#d3daed"/>
<rect x="247.09" y="537.58" width="6.3" height="7.76" fill="#3c70b2"/>
<rect x="20.4" y="545.33" width="6.3" height="7.76" fill="#ffe0d9"/>
<rect x="26.7" y="545.33" width="6.3" height="7.76" fill="#b0bede"/>
<rect x="32.99" y="545.33" width="6.3" height="7.76" fill="#fdbaac"/>
<rect x="39.29" y="545.33" width="6.3" height="7.76" fill="#ffe0d9"/>
<rect x="45.59" y="545.33" width="6.3" height="7.76" fill="#fff8f6"/>
<rect x="51.88" y="545.33" width="6.3" height="7.76" fill="#ffe5e0"/>
<rect x="58.18" y="545.33" width="6.3" height="7.76" fill="#f89b8a"/>
<rect x="64.48" y="545.33" width="6.3" height="7.76" fill="#ffffff"/>
<rect x="70.78" y="545.33" width="6.3" height="7.76" fill="#ffe5e0"/>
<rect x="77.07" y="545.33" width="6.3" height="7.76" fill="#f38774"/>
<rect x="83.37" y="545.33" width="6.3" height="7.76" fill="#839ccc"/>
<rect x="89.67" y="545.33" width="6.3" height="7.76" fill="#f38774"/>
<rect x="95.96" y="545.33" width="6.3" height="7.76" fill="#ffdad2"/>
<rect x="102.26" y="545.33" width="6.3" height="7.76" fill="#f38774"/>
<rect x="108.56" y="545.33" width="6.3" height="7.76" fill="#ffcabf"/>
<rect x="114.85" y="545.33" width="6.3" height="7.76" fill="#ffe5e0"/>
<rect x="121.15" y="545.33" width="6.3" height="7.76" fill="#ffcfc5"/>
<rect x="127.45" y="545.33" width="6.3" height="7.76" fill="#de4738"/>
<rect x="133.75" y="545.33" width="6.3" height="7.76" fill="#ffcfc5"/>
<rect x="140.04" y="545.33" width="6.3" height="7.76" fill="#cdd5ea"/>
<rect x="146.34" y="545.33" width="6.3" height="7.76" fill="#ffd4cb"/>
<rect x="152.64" y="545.33" width="6.3" height="7.76" fill="#8ea4d0"/>
<rect x="158.93" y="545.33" width="6.3" height="7.76" fill="#ffffff"/>
<rect x="165.23" y="545.33" width="6.3" height="7.76" fill="#ffe5e0"/>
<rect x="171.53" y="545.33" width="6.3" height="7.76" fill="#f5917f"/>
<rect x="177.82" y="545.33" width="6.3" height="7.76" fill="#f38774"/>
<rect x="184.12" y="545.33" width="6.3" height="7.76" fill="#bbc7e2"/>
<rect x="190.42" y="545.33" width="6.3" height="7.76" fill="#839ccc"/>
<rect x="196.72" y="545.33" width="6.3" height="7.76" fill="#99add4"/>
<rect x="203.01" y="545.33" width="6.3" height="7.76" fill="#99add4"/>
<rect x="209.31" y="545.33" width="6.3" height="7.76" fill="#ffffff"/>
<rect x="215.61" y="545.33" width="6.3" height="7.76" fill="#4a77b6"/>
<rect x="221.9" y="545.33" width="6.3" height="7.76" fill="#f07d69"/>
<rect x="228.2" y="545.33" width="6.3" height="7.76" fill="#d3daed"/>
<rect x="234.5" y="545.33" width="6.3" height="7.76" fill="#e0e5f2"/>
<rect x="240.79" y="545.33" width="6.3" height="7.76" fill="#6d8dc3"/>
<rect x="247.09" y="545.33" width="6.3" height="7.76" fill="#3c70b2"/>
<rect x="20.4" y="553.09" width="6.3" height="7.76" fill="#d73027"/>
<rect x="26.7" y="553.09" width="6.3" height="7.76" fill="#f89b8a"/>
<rect x="32.99" y="553.09" width="6.3" height="7.76" fill="#ffd4cb"/>
<rect x="39.29" y="553.09" width="6.3" height="7.76" fill="#d73027"/>
<rect x="45.59" y="553.09" width="6.3" height="7.76" fill="#ffffff"/>
<rect x="51.88" y="553.09" width="6.3" height="7.76" fill="#ffcabf"/>
<rect x="58.18" y="553.09" width="6.3" height="7.76" fill="#f5917f"/>
<rect x="64.48" y="553.09" width="6.3" height="7.76" fill="#e0e5f2"/>
<rect x="70.78" y="553.09" width="6.3" height="7.76" fill="#fcb0a0"/>
<rect x="77.07" y="553.09" width="6.3" height="7.76" fill="#ffebe7"/>
<rect x="83.37" y="553.09" width="6.3" height="7.76" fill="#ffdad2"/>
<rect x="89.67" y="553.09" width="6.3" height="7.76" fill="#ffcfc5"/>
<rect x="95.96" y="553.09" width="6.3" height="7.76" fill="#e0e5f2"/>
<rect x="102.26" y="553.09" width="6.3" height="7.76" fill="#ffebe7"/>
<rect x="108.56" y="553.09" width="6.3" height="7.76" fill="#fdbaac"/>
<rect x="114.85" y="553.09" width="6.3" height="7.76" fill="#e0e5f2"/>
<rect x="121.15" y="553.09" width="6.3" height="7.76" fill="#f89b8a"/>
<rect x="127.45" y="553.09" width="6.3" height="7.76" fill="#f89b8a"/>
<rect x="133.75" y="553.09" width="6.3" height="7.76" fill="#e7ebf5"/>
<rect x="140.04" y="553.09" width="6.3" height="7.76" fill="#f5f7fb"/>
<rect x="146.34" y="553.09" width="6.3" height="7.76" fill="#839ccc"/>
<rect x="152.64" y="553.09" width="6.3" height="7.76" fill="#c7d1e7"/>
<rect x="158.93" y="553.09" width="6.3" height="7.76" fill="#2166ac"/>
<rect x="165.23" y="553.09" width="6.3" height="7.76" fill="#a4b5d9"/>
<rect x="171.53" y="553.09" width="6.3" height="7.76" fill="#f07d69"/>
<rect x="177.82" y="553.09" width="6.3" height="7.76" fill="#839ccc"/>
<rect x="184.12" y="553.09" width="6.3" height="7.76" fill="#b0bede"/>
<rect x="190.42" y="553.09" width="6.3" height="7.76" fill="#839ccc"/>
<rect x="196.72" y="553.09" width="6.3" height="7.76" fill="#fff1ee"/>
<rect x="203.01" y="553.09" width="6.3" height="7.76" fill="#c7d1e7"/>
<rect x="209.31" y="553.09" width="6.3" height="7.76" fill="#c7d1e7"/>
<rect x="215.61" y="553.09" width="6.3" height="7.76" fill="#fff1ee"/>
<rect x="221.9" y="553.09" width="6.3" height="7.76" fill="#bbc7e2"/>
<rect x="228.2" y="553.09" width="6.3" height="7.76" fill="#ffc4b8"/>
<rect x="234.5" y="553.09" width="6.3" height="7.76" fill="#eef0f8"/>
<rect x="240.79" y="553.09" width="6.3" height="7.76" fill="#6285bf"/>
<rect x="247.09" y="553.09" width="6.3" height="7.76" fill="#7895c7"/>
</g>
<text x="255.3" y="363.9" font-size="6.9" text-anchor="start" fill="#111">Birth_Status</text>
<text x="255.3" y="372.78" font-size="5.5" text-anchor="start" fill="#111">CAPN5</text>
<text x="255.3" y="380.54" font-size="5.5" text-anchor="start" fill="#111">CCDC77</text>
<text x="255.3" y="388.29" font-size="5.5" text-anchor="start" fill="#111">COL16A1</text>
<text x="255.3" y="396.05" font-size="5.5" text-anchor="start" fill="#111">TBC1D31</text>
<text x="255.3" y="403.81" font-size="5.5" text-anchor="start" fill="#111">POLR1D</text>
<text x="255.3" y="411.57" font-size="5.5" text-anchor="start" fill="#111">IGF2BP2</text>
<text x="255.3" y="419.33" font-size="5.5" text-anchor="start" fill="#111">ZNF346</text>
<text x="255.3" y="427.08" font-size="5.5" text-anchor="start" fill="#111">LOC100294145</text>
<text x="255.3" y="434.84" font-size="5.5" text-anchor="start" fill="#111">SERGEF</text>
<text x="255.3" y="442.6" font-size="5.5" text-anchor="start" fill="#111">ERCC6L2</text>
<text x="255.3" y="450.36" font-size="5.5" text-anchor="start" fill="#111">SNORD3D</text>
<text x="255.3" y="458.12" font-size="5.5" text-anchor="start" fill="#111">H2BP1</text>
<text x="255.3" y="465.88" font-size="5.5" text-anchor="start" fill="#111">SLC39A9</text>
<text x="255.3" y="473.63" font-size="5.5" text-anchor="start" fill="#111">P2RX7</text>
<text x="255.3" y="481.39" font-size="5.5" text-anchor="start" fill="#111">ZNF699</text>
<text x="255.3" y="489.15" font-size="5.5" text-anchor="start" fill="#111">CDK19</text>
<text x="255.3" y="496.91" font-size="5.5" text-anchor="start" fill="#111">IDH1</text>
<text x="255.3" y="504.66" font-size="5.5" text-anchor="start" fill="#111">PITPNB</text>
<text x="255.3" y="512.42" font-size="5.5" text-anchor="start" fill="#111">SGMS1</text>
<text x="255.3" y="520.18" font-size="5.5" text-anchor="start" fill="#111">SMU1</text>
<text x="255.3" y="527.94" font-size="5.5" text-anchor="start" fill="#111">ZNF24</text>
<text x="255.3" y="535.7" font-size="5.5" text-anchor="start" fill="#111">ARL5B</text>
<text x="255.3" y="543.45" font-size="5.5" text-anchor="start" fill="#111">TTC7B</text>
<text x="255.3" y="551.21" font-size="5.5" text-anchor="start" fill="#111">CRK</text>
<text x="255.3" y="558.97" font-size="5.5" text-anchor="start" fill="#111">MIR4263</text>
<defs><linearGradient id="cb" x1="0" y1="0" x2="0" y2="1"><stop offset="0.000" stop-color="#d73027"/><stop offset="0.062" stop-color="#dc4133"/><stop offset="0.125" stop-color="#e65e4b"/><stop offset="0.188" stop-color="#ee7864"/><stop offset="0.250" stop-color="#f5917f"/><stop offset="0.312" stop-color="#fbab9b"/><stop offset="0.375" stop-color="#ffc4b8"/><stop offset="0.438" stop-color="#ffe0d9"/><stop offset="0.500" stop-color="#ffffff"/><stop offset="0.562" stop-color="#d9e0ef"/><stop offset="0.625" stop-color="#bbc7e2"/><stop offset="0.688" stop-color="#9fb1d7"/><stop offset="0.750" stop-color="#839ccc"/><stop offset="0.812" stop-color="#6889c1"/><stop offset="0.875" stop-color="#4a77b6"/><stop offset="0.938" stop-color="#2166ac"/><stop offset="1.000" stop-color="#2166ac"/></linearGradient></defs>
<rect x="299.3" y="439.1" width="8.7" height="58.8" fill="url(#cb)"/>
<text x="299.9" y="435.9" font-size="6.8" font-weight="bold" text-anchor="start" fill="#111">Exp.</text>
<line x1="299.3" y1="440.7" x2="301" y2="440.7" stroke="#fff" stroke-width="0.8"/>
<line x1="306.3" y1="440.7" x2="308" y2="440.7" stroke="#fff" stroke-width="0.8"/>
<text x="309.2" y="442.7" font-size="5.6" text-anchor="start" fill="#111">2</text>
<line x1="299.3" y1="454.7" x2="301" y2="454.7" stroke="#fff" stroke-width="0.8"/>
<line x1="306.3" y1="454.7" x2="308" y2="454.7" stroke="#fff" stroke-width="0.8"/>
<text x="309.2" y="456.7" font-size="5.6" text-anchor="start" fill="#111">1</text>
<line x1="299.3" y1="468.4" x2="301" y2="468.4" stroke="#fff" stroke-width="0.8"/>
<line x1="306.3" y1="468.4" x2="308" y2="468.4" stroke="#fff" stroke-width="0.8"/>
<text x="309.2" y="470.4" font-size="5.6" text-anchor="start" fill="#111">0</text>
<line x1="299.3" y1="482.3" x2="301" y2="482.3" stroke="#fff" stroke-width="0.8"/>
<line x1="306.3" y1="482.3" x2="308" y2="482.3" stroke="#fff" stroke-width="0.8"/>
<text x="309.2" y="484.3" font-size="5.6" text-anchor="start" fill="#111">−1</text>
<line x1="299.3" y1="495.5" x2="301" y2="495.5" stroke="#fff" stroke-width="0.8"/>
<line x1="306.3" y1="495.5" x2="308" y2="495.5" stroke="#fff" stroke-width="0.8"/>
<text x="309.2" y="497.5" font-size="5.6" text-anchor="start" fill="#111">−2</text>
<text x="320.4" y="435.9" font-size="6.8" font-weight="bold" text-anchor="start" fill="#111">Birth</text>
<rect x="320.6" y="439.7" width="7.5" height="7.3" fill="#FC4E07"/>
<rect x="320.6" y="447.0" width="7.5" height="7.3" fill="#00AFBB"/>
<text x="330" y="445.8" font-size="6.7" text-anchor="start" fill="#2a2a2a">LIVE</text>
<text x="330" y="453" font-size="6.7" text-anchor="start" fill="#2a2a2a">STILL</text>
<text x="385.6" y="307.2" font-size="16.6" font-weight="bold" text-anchor="start" fill="#000">D</text>
<line x1="439" y1="310" x2="439" y2="566.1" stroke="#F2F2F2" stroke-width="0.6"/>
<line x1="485.8" y1="310" x2="485.8" y2="566.1" stroke="#F2F2F2" stroke-width="0.6"/>
<line x1="532.6" y1="310" x2="532.6" y2="566.1" stroke="#F2F2F2" stroke-width="0.6"/>
<line x1="579.4" y1="310" x2="579.4" y2="566.1" stroke="#F2F2F2" stroke-width="0.6"/>
<line x1="626.2" y1="310" x2="626.2" y2="566.1" stroke="#F2F2F2" stroke-width="0.6"/>
<line x1="673" y1="310" x2="673" y2="566.1" stroke="#F2F2F2" stroke-width="0.6"/>
<line x1="427.7" y1="509.67" x2="684.4" y2="509.67" stroke="#F2F2F2" stroke-width="0.6"/>
<line x1="427.7" y1="420.22" x2="684.4" y2="420.22" stroke="#F2F2F2" stroke-width="0.6"/>
<line x1="427.7" y1="330.77" x2="684.4" y2="330.77" stroke="#F2F2F2" stroke-width="0.6"/>
<line x1="462.4" y1="310" x2="462.4" y2="566.1" stroke="#E6E6E6" stroke-width="0.9"/>
<line x1="509.2" y1="310" x2="509.2" y2="566.1" stroke="#E6E6E6" stroke-width="0.9"/>
<line x1="556" y1="310" x2="556" y2="566.1" stroke="#E6E6E6" stroke-width="0.9"/>
<line x1="602.8" y1="310" x2="602.8" y2="566.1" stroke="#E6E6E6" stroke-width="0.9"/>
<line x1="649.6" y1="310" x2="649.6" y2="566.1" stroke="#E6E6E6" stroke-width="0.9"/>
<line x1="427.7" y1="554.4" x2="684.4" y2="554.4" stroke="#E6E6E6" stroke-width="0.9"/>
<line x1="427.7" y1="464.95" x2="684.4" y2="464.95" stroke="#E6E6E6" stroke-width="0.9"/>
<line x1="427.7" y1="375.5" x2="684.4" y2="375.5" stroke="#E6E6E6" stroke-width="0.9"/>
<path fill="none" stroke="#B3B3B3" stroke-width="2.9" stroke-linecap="round" d="M587.5 543.5h0M545.5 548h0M568 549h0M512 543.5h0M589.5 543.5h0M557.5 552h0M599.5 543.5h0M595 543.5h0M557 552.5h0M565.5 549h0M569.5 546.5h0M577.5 548h0M568 549.5h0M528.5 545.5h0M524 543.5h0M552.5 550.5h0M563.5 549.5h0M541.5 548h0M548 551h0M568.5 548.5h0M557 553.5h0M531 544.5h0M566 548.5h0M544 547.5h0M541 546.5h0M573.5 548.5h0M531 545h0M562 550.5h0M552.5 551.5h0M598 543.5h0M547.5 547.5h0M532.5 545.5h0M605.5 543.5h0M551 552h0M566.5 547h0M581.5 543.5h0M563 549.5h0M535 544.5h0M553.5 552h0M533.5 544.5h0M604.5 543.5h0M534 544.5h0M577.5 546h0M574 547.5h0M554.5 552h0M546.5 549.5h0M542 546h0M523 543.5h0M556 554h0M539 547.5h0M569.5 549.5h0M520 543.5h0M597.5 543.5h0M550 551h0M542.5 548.5h0M576 546h0M582 546h0M521 544h0M591.5 543.5h0M562.5 551h0M547 547.5h0M592 543.5h0M561 550h0M575 544.5h0M562 548.5h0M551.5 552h0M585 543.5h0M549.5 550.5h0M541.5 544h0M522.5 543.5h0M562 550h0M542.5 548h0M552 551h0M523 544.5h0M536 546h0M541.5 545h0M554.5 553h0M558.5 552.5h0M575 546h0M567 547h0M567.5 546h0M564 550h0M594 543.5h0M577.5 543.5h0M576.5 547h0M568.5 545h0M551 551h0M562.5 550h0M563 548h0M570.5 549.5h0M562 549.5h0M569.5 550.5h0M534.5 543.5h0M533 549h0M574.5 543.5h0M533.5 547.5h0M559.5 550.5h0M554 552h0M548.5 550h0M545.5 546.5h0M522 543.5h0M533 545h0M566.5 546.5h0M560.5 551.5h0M572.5 549h0M530 543.5h0M540 548h0M586.5 543.5h0M548 549h0M581 545h0M596.5 543.5h0M590.5 543.5h0M575 548.5h0M546 549h0M572 546h0M532 546.5h0M595.5 543.5h0M539.5 546h0M574.5 547h0M552 552h0M527 543.5h0M540 548.5h0M558 553h0M561 552h0M549.5 549.5h0M525.5 543.5h0M548 550.5h0M566 549.5h0M529 547.5h0M564 550.5h0M546.5 550h0M549 550.5h0M528 545.5h0M547.5 550.5h0M584.5 543.5h0M535.5 546.5h0M566.5 548h0M573.5 545.5h0M547 549h0M543.5 549h0M529.5 545h0M568.5 549h0M587.5 546.5h0M536 545.5h0M561 550.5h0M577.5 547h0M572 548.5h0M561.5 549.5h0M537.5 548h0M542 545h0M555.5 553.5h0M537.5 543.5h0M570.5 546h0M570.5 548.5h0M583.5 543.5h0M551 550.5h0M564.5 549h0M559 552h0M566 550h0M585.5 545.5h0M531.5 546h0M550.5 550h0M583 546.5h0M527.5 543.5h0M559.5 551.5h0M550 549.5h0M545 550h0M543 548.5h0M539.5 547.5h0M571 548.5h0M586 543.5h0M569.5 548.5h0M562 551h0M571 549.5h0M548.5 550.5h0M547.5 548h0M551.5 551.5h0M531 543.5h0M552 551.5h0M579.5 546.5h0M596 543.5h0M563 549h0M533 547h0M558.5 551h0M567 549h0M529 547h0M569.5 548h0M539.5 543.5h0M544 548h0M550 551.5h0M535.5 544h0M523.5 543.5h0M519 543.5h0M535 547.5h0M557.5 553h0M599 543.5h0M570.5 548h0M522.5 544.5h0M543.5 550h0M574 548h0M602 545.5h0M589 545h0M558.5 551.5h0M563 550.5h0M541.5 547h0M532.5 547h0M567 550h0M555 553h0M520.5 543.5h0M543.5 546.5h0M541 548h0M513 543.5h0M518.5 543.5h0M535.5 544.5h0M549 549h0M517.5 543.5h0M580.5 547.5h0M553 551.5h0M531.5 546.5h0M558 551.5h0M559 552.5h0M540.5 547h0M565.5 550h0M594.5 543.5h0M525 543.5h0M549 551h0M560.5 552h0M546 547.5h0M547.5 548.5h0M541.5 546.5h0M528 544h0M537 545.5h0M549.5 550h0M562.5 549.5h0M530 548h0M578 547.5h0M537.5 544h0M575 547.5h0M581 543.5h0M553 552.5h0M574.5 547.5h0M540.5 546h0M591.5 544h0M545 548.5h0M576 547h0M570 548.5h0M546 548h0M554 552.5h0M545 547.5h0M537 547h0M529 543.5h0M591.5 545h0M591 543.5h0M544 550h0M584 546.5h0M569 549.5h0M528.5 543.5h0M609 543.5h0M564.5 548.5h0M539.5 548h0M550.5 551.5h0M534.5 547h0M564.5 550.5h0M516.5 543.5h0M530.5 548.5h0M540.5 545h0M526 543.5h0M568 546.5h0M563 548.5h0M559 551.5h0M573.5 546.5h0M538 544h0M546.5 548.5h0M616.5 543.5h0M540.5 546.5h0M522.5 546h0M543 546.5h0M578.5 543.5h0M544 549h0M543.5 547.5h0M551 551.5h0M551 550h0M557.5 552.5h0M548.5 551h0M600 543.5h0M524.5 544.5h0M595 547h0M548 549.5h0M545.5 547h0M547 550.5h0M533.5 543.5h0M546 549.5h0M518 543.5h0M578 545h0M563.5 550h0M578 547h0M541.5 545.5h0M551.5 551h0M540 545.5h0M530 545h0M598.5 543.5h0M560.5 551h0M589 544.5h0M587.5 546h0M583 546h0M530 546.5h0M588 543.5h0M592.5 543.5h0M578.5 544.5h0M570.5 545.5h0M550.5 549.5h0M539 546.5h0M570 550.5h0M540.5 549h0M583.5 544h0M524 544h0M558 552h0M532 547h0M521.5 543.5h0M573 549.5h0M567 549.5h0M533 547.5h0M543 550h0M570 546.5h0M575.5 547h0M576 543.5h0M573 547.5h0M543.5 548h0M547.5 551h0M553.5 551.5h0M545 549h0M570.5 549h0M593 543.5h0M560 551h0M524.5 544h0M569 548h0M534 546h0M566 549h0M547.5 549h0M572 548h0M536.5 546h0M531 546.5h0M538.5 547.5h0M571.5 547.5h0M527.5 545h0M525 545h0M569 546h0M562.5 551.5h0M586 544h0M566.5 550.5h0M574.5 548.5h0M548 550h0M573 549h0M535.5 545h0M600.5 543.5h0M535.5 547.5h0M552.5 552h0M574 545.5h0M571.5 544h0M523.5 545h0M576 546.5h0M587 543.5h0M579 543.5h0M569.5 549h0M548 547.5h0M544.5 550h0M565 550.5h0M572 545.5h0M539.5 544.5h0M532 546h0M566.5 546h0M582.5 546h0M550.5 551h0M602.5 543.5h0M516 543.5h0M543 549h0M568.5 550h0M553.5 553h0M529 544.5h0M559.5 552h0M582 545h0M540.5 548h0M563.5 550.5h0M569 545h0M568 547.5h0M530.5 543.5h0M581 545.5h0M555 553.5h0M553 552h0M565 548.5h0M565.5 550.5h0M565 547.5h0M575 548h0M543 549.5h0M549.5 549h0M570 549.5h0M557 553h0M552.5 551h0M580 543.5h0M564.5 547h0M542.5 546h0M572 549h0M570 550h0M546.5 549h0M541 548.5h0M553.5 552.5h0M537.5 547.5h0M570.5 547.5h0M571 547.5h0M526.5 545.5h0M578 543.5h0M536.5 546.5h0M555 552.5h0M590 545.5h0M566 551h0M585.5 543.5h0M561.5 551.5h0M539 545h0M539 544h0M557.5 553.5h0M554 553h0M549 550h0M556.5 553.5h0M567.5 548.5h0M575 543.5h0M559 551h0M570 547h0M527.5 546h0M537 548h0M524.5 543.5h0M583 545.5h0M551.5 550h0M570 549h0M542 548.5h0M550 550.5h0M537 544.5h0M561.5 550.5h0M545.5 547.5h0M602 543.5h0M590 545h0M544.5 546h0M593 544h0M542.5 549h0M521.5 544h0M541 544.5h0M517 543.5h0M540.5 544.5h0M590.5 544.5h0M537 547.5h0M539.5 549h0M584.5 544h0M535 543.5h0M571 544h0M531.5 544.5h0M538.5 547h0M514.5 543.5h0M576.5 545h0M544 549.5h0M536 548h0M560 552h0M530 544.5h0M544.5 548.5h0M573 548.5h0M531.5 543.5h0M548.5 549h0M528.5 546h0M538 546.5h0M535.5 543.5h0M503 543.5h0M550 550h0M561.5 550h0M567.5 545.5h0M541 544h0M553 551h0M541 545h0M590 543.5h0M548 548h0M572 546.5h0M542.5 546.5h0M577 547.5h0M580.5 543.5h0M584 545.5h0M579.5 545.5h0M529.5 546h0M558 552.5h0M540 546.5h0M566.5 550h0M560 551.5h0M530 546h0M576 547.5h0M527.5 545.5h0M539.5 545.5h0M514 543.5h0M531 545.5h0M540.5 547.5h0M542.5 547h0M549 548.5h0M534 546.5h0M550.5 550.5h0M565.5 547h0M579 545.5h0M576 544.5h0M534 545h0M579.5 544.5h0M589 543.5h0M543.5 549.5h0M545 545.5h0M544 550.5h0M569 550h0M563.5 548.5h0M532.5 546.5h0M576 544h0M577.5 545h0M571.5 549h0M564.5 551h0M529.5 543.5h0M574.5 546.5h0M581.5 546.5h0M583.5 545.5h0M540 545h0M532.5 547.5h0M567 548.5h0M547 548.5h0M584 543.5h0M562.5 549h0M535 545h0M539 549.5h0M567.5 548h0M543.5 548.5h0M586.5 546h0M550 549h0M572.5 547.5h0M527 544.5h0M538.5 548.5h0M566.5 549.5h0M588.5 545.5h0M572.5 545h0M538 547.5h0M587 545h0M541 549h0M569 544.5h0M546 546.5h0M540 547.5h0M544.5 549.5h0M538 545.5h0M541 546h0M585.5 547h0M567 546h0M573 548h0M565 549.5h0M567.5 549h0M576.5 543.5h0M570.5 546.5h0M534 543.5h0M569 547h0M539.5 547h0M560.5 550.5h0M538.5 548h0M574.5 548h0M537.5 547h0M582.5 547h0M534 547h0M566.5 549h0M586 546h0M571.5 545.5h0M544.5 548h0M536 545h0M542.5 545h0M546 550h0M530.5 546h0M522 544.5h0M569.5 546h0M556.5 553h0M536.5 545h0M589 545.5h0M577 545.5h0M578.5 546h0M583 543.5h0M567 548h0M525 544h0M587 544.5h0M569 548.5h0M563 550h0M565 548h0M585 546h0M588 544h0M562 551.5h0M535 547h0M529 546.5h0M567.5 550h0M575.5 546h0M530.5 546.5h0M583.5 547h0M576.5 548h0M592 545h0M564 549.5h0M563.5 551h0M569.5 547.5h0M502 543.5h0M565 547h0M543 547.5h0M549.5 551h0M547 550h0M594 544h0M574 546h0M571.5 547h0M548 548.5h0M593 544.5h0M545 549.5h0M548.5 549.5h0M536.5 547.5h0M531.5 545.5h0M521 543.5h0M571.5 548h0M533.5 546h0M537 545h0M536 546.5h0M549 549.5h0M573 546.5h0M540.5 550h0M567.5 547h0M574.5 545h0M539 547h0M555.5 554h0M529.5 544h0M571 547h0M533.5 545h0M572 547.5h0M563 551h0M530 544h0M533.5 545.5h0M539.5 546.5h0M576.5 545.5h0M584.5 544.5h0M538.5 546.5h0M538 548h0M535.5 545.5h0M569 546.5h0M575 545h0M534.5 545.5h0M592.5 544h0M584.5 545.5h0M571.5 546.5h0M527 545h0M561.5 551h0M569.5 547h0M515 543.5h0M494.5 543.5h0M604 543.5h0M534.5 546.5h0M547 551.5h0M586.5 545h0M490.5 543.5h0M586.5 545.5h0M540 549h0M569 549h0M539 549h0M549.5 548.5h0M591 544.5h0M571 545.5h0M545 550.5h0M542 549.5h0M572.5 548.5h0M569 545.5h0M523 544h0M580 545h0M541.5 547.5h0M601 544h0M533 543.5h0M566 550.5h0M558.5 552h0M543 547h0M579 546.5h0M573 547h0M564 549h0M542 549h0M538 543.5h0M568 547h0M564.5 550h0M582 543.5h0M601.5 543.5h0M585.5 545h0M584 546h0M582.5 543.5h0M547.5 549.5h0M610.5 543.5h0M561 551.5h0M541.5 548.5h0M542 545.5h0M532 545h0M574 543.5h0M535.5 546h0M577 547h0M526.5 543.5h0M570.5 545h0M560.5 550h0M589.5 545.5h0M564.5 548h0M573.5 546h0M535 545.5h0M540 549.5h0M539.5 548.5h0M516 546h0M566.5 547.5h0M565 550h0M538.5 545h0M575.5 547.5h0M562 549h0M547.5 550h0M545.5 549.5h0M587.5 545.5h0M573 543.5h0M538.5 546h0M526 544h0M554.5 552.5h0M520.5 544.5h0M571 545h0M546 548.5h0M547 548h0M580 544h0M526 545h0M567.5 547.5h0M587.5 545h0M540 544.5h0M555.5 553h0M529 544h0M577 544h0M592 544h0M568 548.5h0M551.5 550.5h0M546.5 547h0M541.5 549h0M569.5 545h0M579.5 547h0M568 546h0M601 543.5h0M537 543.5h0M562.5 550.5h0M578.5 547.5h0M593.5 544.5h0M572.5 544.5h0M544 547h0M534.5 547.5h0M593.5 543.5h0M573.5 547.5h0M547.5 547h0M574 546.5h0M538.5 543.5h0M540.5 545.5h0M546.5 550.5h0M596.5 546h0M535.5 547h0M571.5 546h0M577.5 547.5h0M581 547h0M534.5 545h0M532.5 543.5h0M568 550h0M580 547h0M533 545.5h0M530.5 544h0M571 550h0M591 545h0M578 544.5h0M581 546h0M578.5 545h0M515.5 543.5h0M534.5 544.5h0M582.5 545.5h0M579 545h0M510.5 543.5h0M540 544h0M568 545.5h0M542.5 547.5h0M507.5 544h0M593.5 544h0M526 545.5h0M542 547.5h0M531 548.5h0M534 545.5h0M565 549h0M574.5 545.5h0M592 544.5h0M571.5 549.5h0M533 546h0M569.5 550h0M547 549.5h0M508.5 543.5h0M537 546.5h0M561 551h0M574.5 546h0M571 546.5h0M568.5 549.5h0M619 543.5h0M530.5 545h0M561.5 549h0M539 548.5h0M582.5 546.5h0M592 547.5h0M577 543.5h0M554.5 553.5h0M566.5 548.5h0M590.5 544h0M527.5 548h0M536.5 548h0M565.5 547.5h0M577 544.5h0M543 545.5h0M532 544.5h0M567 545.5h0M572.5 546h0M617.5 543.5h0M565 551h0M547 547h0M531.5 547h0M573.5 548h0M570 548h0M584 544.5h0M548.5 548h0M567.5 546.5h0M565.5 548.5h0M588.5 545h0M541 547.5h0M586.5 544h0M540.5 548.5h0M544.5 547.5h0M603 543.5h0M570.5 547h0M529.5 547h0M610 544h0M575 545.5h0M523.5 544.5h0M525 545.5h0M587 546h0M577.5 546.5h0M540 546h0M505 543.5h0M573 546h0M605 543.5h0M572 544h0M545.5 550h0M524.5 545.5h0M581.5 544.5h0M582 544.5h0M570.5 544.5h0M577 545h0M571 548h0M581.5 544h0M598 547.5h0M572 544.5h0M512.5 543.5h0M545.5 548.5h0M618 543.5h0M570 545.5h0M534 544h0M533.5 548h0M542.5 549.5h0M571.5 550.5h0M536.5 547h0M583 544h0M546.5 547.5h0M513.5 543.5h0M541.5 544.5h0M588.5 543.5h0M530 545.5h0M537.5 545.5h0M529 545.5h0M527.5 548.5h0M526.5 544h0M536 543.5h0M529.5 546.5h0M566 547.5h0M603.5 543.5h0M581 544h0M579.5 545h0M576.5 544.5h0M600 544.5h0M571.5 548.5h0M607 543.5h0M566 546.5h0M538.5 545.5h0M582 544h0M576 548h0M576.5 546h0M565.5 549.5h0M586.5 544.5h0M509.5 543.5h0M585.5 544h0M543 545h0M545.5 549h0M526 544.5h0M511.5 543.5h0M525.5 545h0M579.5 547.5h0M528 543.5h0M580 547.5h0M568 548h0M520.5 544h0M533 544h0M588.5 546h0M583 547.5h0M561 549.5h0M586 544.5h0M543.5 546h0M577 548h0M571 549h0M583.5 546h0M504.5 543.5h0M560 550.5h0M602.5 544.5h0M578 545.5h0M574 547h0M525 544.5h0M532 544h0M570.5 550.5h0M548.5 548.5h0M537 546h0M536 544h0M542 546.5h0M564 548h0M590 547h0M541 547h0M594.5 545h0M543.5 547h0M531 546h0M563.5 548h0M589.5 544h0M556 553.5h0M575.5 544h0M590 544.5h0M578 546.5h0M544 546h0M589.5 544.5h0M571 546h0M575.5 544.5h0M544 548.5h0M573.5 547h0M586 545.5h0M576.5 547.5h0M511 543.5h0M576.5 546.5h0M538 547h0M536 547.5h0M542.5 545.5h0M538 549h0M521.5 547h0M610 546h0M572.5 543.5h0M585.5 546.5h0M543 548h0M569.5 545.5h0M528.5 545h0M552 550h0M568.5 545.5h0M575.5 543.5h0M552 550.5h0M549 548h0M584.5 546.5h0M530.5 545.5h0M604.5 545.5h0M597 543.5h0M574.5 544h0M539 548h0M542.5 550h0M569 547.5h0M554 551.5h0M521.5 546h0M539 543.5h0M545 547h0M533.5 544h0M564 547.5h0M575.5 548.5h0M532 543.5h0M585 545.5h0M571.5 545h0M544.5 549h0M579 546h0M563.5 549h0M564 551h0M574 548.5h0M536.5 544.5h0M594.5 544.5h0M572.5 548h0M585 546.5h0M567 547.5h0M580 545.5h0M533 544.5h0M533.5 549h0M532.5 544.5h0M591.5 544.5h0M581.5 547.5h0M608 543.5h0M537.5 545h0M527 546h0M523 545h0M577.5 544.5h0M568.5 546.5h0M535 548h0M560 552.5h0M575.5 548h0M588.5 544h0M578.5 547h0M546 550.5h0M572.5 546.5h0M544 546.5h0M578 546h0M528 546h0M532.5 546h0M566 548h0M579 547h0M551 549.5h0M564 548.5h0M531.5 545h0M597.5 545h0M575.5 546.5h0M504 543.5h0M585 548h0M588 546h0M581.5 547h0M542 548h0M529.5 545.5h0M580.5 544.5h0M589 544h0M567.5 549.5h0M506.5 543.5h0M536 547h0M544.5 547h0M594 545.5h0M647.5 543.5h0M535 546.5h0M522.5 545h0M578.5 549h0M577 546h0M559.5 552.5h0M507 545h0M573.5 549h0M570 547.5h0M527.5 544.5h0M546 547h0M583 548h0M529 548h0M573 544h0M531 544h0M531 547.5h0M558.5 553h0M590 544h0M545 546.5h0M581.5 546h0M565.5 548h0M543.5 545.5h0M525.5 544.5h0M579.5 543.5h0M570 544.5h0M538 545h0M522.5 544h0M538 548.5h0M510 543.5h0M533 546.5h0M564.5 549.5h0M576 545.5h0M606.5 543.5h0M608 544.5h0M583.5 545h0M572.5 544h0M582 547h0M559.5 551h0M524.5 545h0M527 546.5h0M537.5 544.5h0M581.5 545.5h0M568.5 548h0M568.5 547h0M587 545.5h0M588 544.5h0M583 545h0M525.5 545.5h0M576.5 544h0M535.5 549h0M578.5 546.5h0M580 546h0M575 547h0M548.5 547.5h0M582 546.5h0M529 546h0M539.5 545h0M517.5 545h0M573 545.5h0M578 544h0M574.5 549h0M536.5 543.5h0M609.5 543.5h0M583 544.5h0M537.5 548.5h0M572 543.5h0M538.5 544.5h0M536 549.5h0M543 550.5h0M562.5 548.5h0M580 549h0M621 543.5h0M552.5 552.5h0M588 545.5h0M551.5 552.5h0M529 545h0M561.5 552h0M620.5 543.5h0M577 546.5h0M583 548.5h0M563 551.5h0M572 547h0M578.5 545.5h0M526.5 546h0M549.5 551.5h0M570 551h0M539 544.5h0M527 545.5h0M546.5 546.5h0M611.5 543.5h0M524 545h0M531.5 544h0M591 547h0M537 549.5h0M541.5 546h0M525.5 547h0M573.5 543.5h0M536 544.5h0M542 547h0M579.5 546h0M566 547h0M553.5 551h0M583.5 546.5h0M517 547h0M507 543.5h0M542.5 544.5h0M583 547h0M570 545h0M519.5 543.5h0M532 545.5h0M526 546h0M534.5 544h0M567 546.5h0M594 546h0M587.5 547h0M537.5 546h0M591 546h0M574 545h0M519.5 544.5h0M545.5 546h0M599 546.5h0M580.5 546.5h0M584.5 545h0M556.5 554h0M528 545h0M591 544h0M582 547.5h0M599 544.5h0M579 547.5h0M502.5 543.5h0M544 545.5h0M582 545.5h0M532.5 545h0M585.5 548.5h0M575 544h0M573.5 545h0M607.5 543.5h0M522 545.5h0M517.5 546.5h0M534.5 546h0M502.5 544.5h0M559 553h0M544.5 546.5h0M525.5 546h0M567 550.5h0M544.5 545.5h0M518 545.5h0M545 546h0M574 549.5h0M509 543.5h0M531 547h0M541.5 549.5h0M523.5 544h0M586 545h0M556 554.5h0M589.5 545h0M572.5 545.5h0M590.5 545h0M572.5 547h0M543.5 545h0M533.5 546.5h0M580.5 546h0M564.5 547.5h0M598.5 544h0M523.5 546h0M524 545.5h0M574 550h0M569.5 544.5h0M571 544.5h0M560.5 552.5h0M537.5 546.5h0M528.5 544.5h0M592 545.5h0M578 548h0M577.5 545.5h0M596 544.5h0M552.5 553h0M493.5 543.5h0M587 544h0M524 544.5h0M588 545h0M584 547h0M595 545h0M540.5 543.5h0M529.5 544.5h0M573.5 544.5h0M545 548h0M585 545h0M545.5 550.5h0M580 546.5h0M536.5 545.5h0M562 552h0M523 546h0M574 544.5h0M508 543.5h0M578.5 548h0M541 545.5h0M600 545.5h0M592.5 545h0M572 545h0M540.5 549.5h0M575 549.5h0M570 546h0M542 544.5h0M524.5 546h0M580.5 547h0M501 543.5h0M585 544h0M568 545h0M613.5 543.5h0M614.5 543.5h0M573 544.5h0M545 551h0M539 545.5h0M579 544h0M614 543.5h0M575 546.5h0M558 553.5h0M532.5 544h0M581 549h0M589 546h0M525.5 544h0M572 549.5h0M573.5 544h0M540 543.5h0M553 553h0M538 544.5h0M546.5 548h0M507.5 543.5h0M581.5 545h0M542 544h0M588.5 546.5h0M576 545h0M533.5 547h0M539.5 544h0M539.5 550.5h0M505.5 543.5h0M575.5 545h0M586 548h0M580 544.5h0M522 546h0M517 545h0M531 548h0M527 547h0M573 545h0M587.5 544.5h0M572.5 549.5h0M575.5 545.5h0M519 546h0M530.5 547.5h0M521.5 545h0M621.5 543.5h0M578.5 544h0M511.5 544h0M564.5 551.5h0M599.5 544h0M609 544h0M541.5 550.5h0M580.5 545h0M491 543.5h0M498.5 543.5h0M486.5 543.5h0M499.5 543.5h0M497 543.5h0M500 543.5h0M484.5 543.5h0M485.5 543.5h0M506 543.5h0M499 543.5h0M628.5 543.5h0M629 543.5h0M644 543.5h0M630 543.5h0M638.5 543.5h0M643 543.5h0M630.5 543.5h0M612 543.5h0M636.5 543.5h0M635 543.5h0M613 543.5h0M619.5 543.5h0M623.5 543.5h0M625.5 543.5h0M612.5 543.5h0M616 543.5h0M622.5 543.5h0M634 543.5h0M627.5 543.5h0M631 543.5h0M632 543.5h0M624.5 543.5h0M626 543.5h0M629.5 543.5h0M625 543.5h0M627 543.5h0M617 543.5h0M620 543.5h0M618.5 543.5h0M622 543.5h0M637 543.5h0M615.5 543.5h0M615 543.5h0M624 543.5h0M606 543.5h0M610 543.5h0M623 543.5h0M611 543.5h0M500.5 543.5h0M503 481.5h0M494.5 539.5h0M521 539.5h0M611.5 539.5h0M654.5 539.5h0M611 547h0M511.5 548.5h0M516 549.5h0M519.5 549h0"/>
<line x1="462.4" y1="566.1" x2="462.4" y2="310" stroke="#5089C2" stroke-width="1" stroke-dasharray="4.9 4.4" stroke-dashoffset="-0.5"/>
<line x1="649.6" y1="566.1" x2="649.6" y2="310" stroke="#5089C2" stroke-width="1" stroke-dasharray="4.9 4.4" stroke-dashoffset="-0.5"/>
<line x1="427.7" y1="321.65" x2="684.4" y2="321.65" stroke="#5089C2" stroke-width="1" stroke-dasharray="4.9 4.4" stroke-dashoffset="-0.1"/>
<rect x="427.7" y="310" width="256.7" height="256.1" fill="none" stroke="#4a4a4a" stroke-width="1.25"/>
<line x1="462.4" y1="566.1" x2="462.4" y2="568.3" stroke="#333" stroke-width="0.9"/>
<text x="462.4" y="576.3" font-size="8.3" font-weight="bold" text-anchor="middle" fill="#1a1a1a">−1.0</text>
<line x1="509.2" y1="566.1" x2="509.2" y2="568.3" stroke="#333" stroke-width="0.9"/>
<text x="509.2" y="576.3" font-size="8.3" font-weight="bold" text-anchor="middle" fill="#1a1a1a">−0.5</text>
<line x1="556" y1="566.1" x2="556" y2="568.3" stroke="#333" stroke-width="0.9"/>
<text x="556" y="576.3" font-size="8.3" font-weight="bold" text-anchor="middle" fill="#1a1a1a">0.0</text>
<line x1="602.8" y1="566.1" x2="602.8" y2="568.3" stroke="#333" stroke-width="0.9"/>
<text x="602.8" y="576.3" font-size="8.3" font-weight="bold" text-anchor="middle" fill="#1a1a1a">0.5</text>
<line x1="649.6" y1="566.1" x2="649.6" y2="568.3" stroke="#333" stroke-width="0.9"/>
<text x="649.6" y="576.3" font-size="8.3" font-weight="bold" text-anchor="middle" fill="#1a1a1a">1.0</text>
<line x1="425.5" y1="554.4" x2="427.7" y2="554.4" stroke="#333" stroke-width="0.9"/>
<text x="424.5" y="557.3" font-size="8.3" font-weight="bold" text-anchor="end" fill="#1a1a1a">0.0</text>
<line x1="425.5" y1="464.95" x2="427.7" y2="464.95" stroke="#333" stroke-width="0.9"/>
<text x="424.5" y="467.85" font-size="8.3" font-weight="bold" text-anchor="end" fill="#1a1a1a">0.5</text>
<line x1="425.5" y1="375.5" x2="427.7" y2="375.5" stroke="#333" stroke-width="0.9"/>
<text x="424.5" y="378.4" font-size="8.3" font-weight="bold" text-anchor="end" fill="#1a1a1a">1.0</text>
<text x="556.3" y="586.2" font-size="9.5" font-weight="bold" text-anchor="middle" fill="#000">Log Fold Change</text>
<text x="408.9" y="438" font-size="9.5" font-weight="bold" text-anchor="middle" fill="#000" transform="rotate(-90 408.9 438)">−log10(Adjusted P−value)</text>
</svg>
</body></html>
